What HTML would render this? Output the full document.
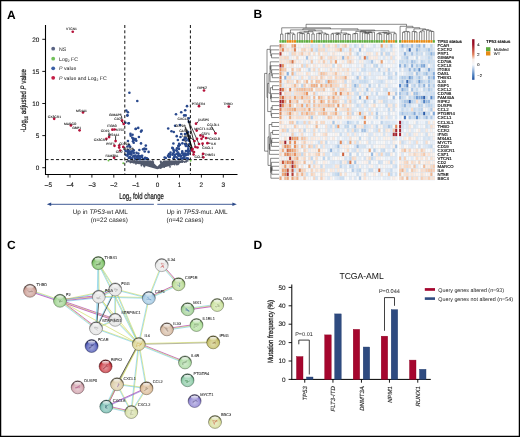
<!DOCTYPE html>
<html><head><meta charset="utf-8"><style>
html,body{margin:0;padding:0;background:#fff;}
svg{display:block;font-family:"Liberation Sans", sans-serif;will-change:transform;} text{text-rendering:geometricPrecision;}
</style></head><body>
<svg width="520" height="437" viewBox="0 0 520 437">
<rect x="0" y="0" width="520" height="437" fill="#fff"/>
<g id="A">
<text x="7.00" y="18.80" font-size="12" text-anchor="start" font-weight="bold" font-style="normal" fill="#000" >A</text>
<text x="253.60" y="17.50" font-size="12" text-anchor="start" font-weight="bold" font-style="normal" fill="#000" >B</text>
<text x="7.00" y="248.80" font-size="12" text-anchor="start" font-weight="bold" font-style="normal" fill="#000" >C</text>
<text x="253.60" y="248.80" font-size="12" text-anchor="start" font-weight="bold" font-style="normal" fill="#000" >D</text>
<polygon points="134.5,160.6 151.0,160.6 157.3,166.4 163.6,160.6 183.5,160.6 184.5,162.0 172.0,165.3 157.3,169.2 145.0,165.7 134.5,162.7" fill="#525a6d"/>
<circle cx="182.05" cy="160.56" r="0.95" fill="#525a6d" />
<circle cx="146.52" cy="163.39" r="0.95" fill="#525a6d" />
<circle cx="153.24" cy="162.28" r="0.95" fill="#525a6d" />
<circle cx="160.72" cy="168.10" r="0.95" fill="#525a6d" />
<circle cx="141.45" cy="165.47" r="0.95" fill="#525a6d" />
<circle cx="141.94" cy="162.49" r="0.95" fill="#525a6d" />
<circle cx="141.60" cy="164.10" r="0.95" fill="#525a6d" />
<circle cx="141.34" cy="162.43" r="0.95" fill="#525a6d" />
<circle cx="141.76" cy="163.14" r="0.95" fill="#525a6d" />
<circle cx="177.95" cy="164.29" r="0.95" fill="#525a6d" />
<circle cx="166.49" cy="165.38" r="0.95" fill="#525a6d" />
<circle cx="153.34" cy="164.21" r="0.95" fill="#525a6d" />
<circle cx="176.81" cy="164.57" r="0.95" fill="#525a6d" />
<circle cx="143.01" cy="162.20" r="0.95" fill="#525a6d" />
<circle cx="169.42" cy="160.92" r="0.95" fill="#525a6d" />
<circle cx="167.46" cy="163.57" r="0.95" fill="#525a6d" />
<circle cx="160.95" cy="162.43" r="0.95" fill="#525a6d" />
<circle cx="153.84" cy="165.76" r="0.95" fill="#525a6d" />
<circle cx="166.13" cy="164.89" r="0.95" fill="#525a6d" />
<circle cx="132.72" cy="162.37" r="0.95" fill="#525a6d" />
<circle cx="160.71" cy="161.48" r="0.95" fill="#525a6d" />
<circle cx="145.75" cy="163.76" r="0.95" fill="#525a6d" />
<circle cx="144.52" cy="165.74" r="0.95" fill="#525a6d" />
<circle cx="180.04" cy="161.87" r="0.95" fill="#525a6d" />
<circle cx="175.69" cy="161.46" r="0.95" fill="#525a6d" />
<circle cx="151.07" cy="162.06" r="0.95" fill="#525a6d" />
<circle cx="179.25" cy="161.41" r="0.95" fill="#525a6d" />
<circle cx="145.25" cy="163.79" r="0.95" fill="#525a6d" />
<circle cx="138.73" cy="163.32" r="0.95" fill="#525a6d" />
<circle cx="144.34" cy="166.49" r="0.95" fill="#525a6d" />
<circle cx="168.85" cy="163.35" r="0.95" fill="#525a6d" />
<circle cx="160.79" cy="161.97" r="0.95" fill="#525a6d" />
<circle cx="152.66" cy="161.21" r="0.95" fill="#525a6d" />
<circle cx="142.42" cy="164.12" r="0.95" fill="#525a6d" />
<circle cx="134.32" cy="160.98" r="0.95" fill="#525a6d" />
<circle cx="182.23" cy="162.03" r="0.95" fill="#525a6d" />
<circle cx="134.93" cy="162.48" r="0.95" fill="#525a6d" />
<circle cx="166.78" cy="165.11" r="0.95" fill="#525a6d" />
<circle cx="170.79" cy="163.53" r="0.95" fill="#525a6d" />
<circle cx="132.48" cy="160.89" r="0.95" fill="#525a6d" />
<circle cx="137.10" cy="163.05" r="0.95" fill="#525a6d" />
<circle cx="138.59" cy="162.01" r="0.95" fill="#525a6d" />
<circle cx="146.76" cy="163.73" r="0.95" fill="#525a6d" />
<circle cx="174.57" cy="164.45" r="0.95" fill="#525a6d" />
<circle cx="135.95" cy="163.72" r="0.95" fill="#525a6d" />
<circle cx="150.50" cy="165.73" r="0.95" fill="#525a6d" />
<circle cx="136.34" cy="161.20" r="0.95" fill="#525a6d" />
<circle cx="170.03" cy="166.85" r="0.95" fill="#525a6d" />
<circle cx="161.23" cy="163.91" r="0.95" fill="#525a6d" />
<circle cx="164.20" cy="167.09" r="0.95" fill="#525a6d" />
<circle cx="143.79" cy="165.21" r="0.95" fill="#525a6d" />
<circle cx="135.27" cy="161.76" r="0.95" fill="#525a6d" />
<circle cx="143.83" cy="164.70" r="0.95" fill="#525a6d" />
<circle cx="161.38" cy="166.49" r="0.95" fill="#525a6d" />
<circle cx="168.93" cy="165.31" r="0.95" fill="#525a6d" />
<circle cx="131.47" cy="161.91" r="0.95" fill="#525a6d" />
<circle cx="178.66" cy="163.44" r="0.95" fill="#525a6d" />
<circle cx="175.07" cy="162.98" r="0.95" fill="#525a6d" />
<circle cx="154.79" cy="166.65" r="0.95" fill="#525a6d" />
<circle cx="142.66" cy="163.05" r="0.95" fill="#525a6d" />
<circle cx="133.91" cy="162.75" r="0.90" fill="#525a6d" />
<circle cx="128.29" cy="161.25" r="0.90" fill="#525a6d" />
<circle cx="128.99" cy="161.23" r="0.90" fill="#525a6d" />
<circle cx="131.48" cy="161.27" r="0.90" fill="#525a6d" />
<circle cx="130.06" cy="160.94" r="0.90" fill="#525a6d" />
<circle cx="134.24" cy="161.52" r="0.90" fill="#525a6d" />
<circle cx="130.39" cy="162.12" r="0.90" fill="#525a6d" />
<circle cx="134.19" cy="161.69" r="0.90" fill="#525a6d" />
<circle cx="134.30" cy="161.90" r="0.90" fill="#525a6d" />
<circle cx="131.02" cy="161.96" r="0.90" fill="#525a6d" />
<circle cx="126.66" cy="161.74" r="0.90" fill="#525a6d" />
<circle cx="128.06" cy="160.61" r="0.90" fill="#525a6d" />
<circle cx="133.29" cy="161.05" r="0.90" fill="#525a6d" />
<circle cx="130.52" cy="162.49" r="0.90" fill="#525a6d" />
<circle cx="186.34" cy="161.19" r="0.90" fill="#525a6d" />
<circle cx="186.11" cy="161.60" r="0.90" fill="#525a6d" />
<circle cx="187.71" cy="160.79" r="0.90" fill="#525a6d" />
<circle cx="186.36" cy="161.05" r="0.90" fill="#525a6d" />
<circle cx="184.66" cy="161.99" r="0.90" fill="#525a6d" />
<circle cx="186.05" cy="161.61" r="0.90" fill="#525a6d" />
<circle cx="129.11" cy="145.14" r="1.30" fill="#29498d" />
<circle cx="131.38" cy="154.59" r="1.30" fill="#29498d" />
<circle cx="130.11" cy="154.11" r="1.30" fill="#29498d" />
<circle cx="133.70" cy="142.76" r="1.30" fill="#29498d" />
<circle cx="127.47" cy="146.45" r="1.30" fill="#29498d" />
<circle cx="132.26" cy="137.73" r="1.30" fill="#29498d" />
<circle cx="141.87" cy="157.17" r="1.30" fill="#29498d" />
<circle cx="144.44" cy="158.94" r="1.30" fill="#29498d" />
<circle cx="130.47" cy="133.90" r="1.30" fill="#29498d" />
<circle cx="141.30" cy="156.00" r="1.30" fill="#29498d" />
<circle cx="141.67" cy="130.52" r="1.30" fill="#29498d" />
<circle cx="139.37" cy="149.99" r="1.30" fill="#29498d" />
<circle cx="133.53" cy="138.59" r="1.30" fill="#29498d" />
<circle cx="141.07" cy="156.65" r="1.30" fill="#29498d" />
<circle cx="136.48" cy="157.01" r="1.30" fill="#29498d" />
<circle cx="129.67" cy="153.81" r="1.30" fill="#29498d" />
<circle cx="134.41" cy="156.64" r="1.30" fill="#29498d" />
<circle cx="131.19" cy="158.62" r="1.30" fill="#29498d" />
<circle cx="125.40" cy="122.73" r="1.30" fill="#29498d" />
<circle cx="143.06" cy="159.04" r="1.30" fill="#29498d" />
<circle cx="128.83" cy="157.89" r="1.30" fill="#29498d" />
<circle cx="134.76" cy="139.65" r="1.30" fill="#29498d" />
<circle cx="138.35" cy="153.61" r="1.30" fill="#29498d" />
<circle cx="132.07" cy="158.42" r="1.30" fill="#29498d" />
<circle cx="145.19" cy="157.84" r="1.30" fill="#29498d" />
<circle cx="144.45" cy="148.64" r="1.30" fill="#29498d" />
<circle cx="128.51" cy="150.46" r="1.30" fill="#29498d" />
<circle cx="144.73" cy="151.57" r="1.30" fill="#29498d" />
<circle cx="136.48" cy="152.84" r="1.30" fill="#29498d" />
<circle cx="138.13" cy="155.95" r="1.30" fill="#29498d" />
<circle cx="138.87" cy="158.25" r="1.30" fill="#29498d" />
<circle cx="145.59" cy="158.25" r="1.30" fill="#29498d" />
<circle cx="137.24" cy="157.30" r="1.30" fill="#29498d" />
<circle cx="133.30" cy="156.35" r="1.30" fill="#29498d" />
<circle cx="147.87" cy="159.17" r="1.30" fill="#29498d" />
<circle cx="129.50" cy="157.34" r="1.30" fill="#29498d" />
<circle cx="133.76" cy="150.41" r="1.30" fill="#29498d" />
<circle cx="128.26" cy="154.09" r="1.30" fill="#29498d" />
<circle cx="128.04" cy="153.93" r="1.30" fill="#29498d" />
<circle cx="130.19" cy="146.76" r="1.30" fill="#29498d" />
<circle cx="128.08" cy="152.59" r="1.30" fill="#29498d" />
<circle cx="135.11" cy="158.80" r="1.30" fill="#29498d" />
<circle cx="142.13" cy="155.87" r="1.30" fill="#29498d" />
<circle cx="138.43" cy="158.69" r="1.30" fill="#29498d" />
<circle cx="127.95" cy="140.98" r="1.30" fill="#29498d" />
<circle cx="137.78" cy="157.35" r="1.30" fill="#29498d" />
<circle cx="134.05" cy="155.68" r="1.30" fill="#29498d" />
<circle cx="138.24" cy="127.89" r="1.30" fill="#29498d" />
<circle cx="132.47" cy="150.95" r="1.30" fill="#29498d" />
<circle cx="137.14" cy="159.19" r="1.30" fill="#29498d" />
<circle cx="135.57" cy="155.56" r="1.30" fill="#29498d" />
<circle cx="139.89" cy="159.17" r="1.30" fill="#29498d" />
<circle cx="138.22" cy="156.75" r="1.30" fill="#29498d" />
<circle cx="146.10" cy="158.34" r="1.30" fill="#29498d" />
<circle cx="139.02" cy="156.13" r="1.30" fill="#29498d" />
<circle cx="129.25" cy="152.11" r="1.30" fill="#29498d" />
<circle cx="127.43" cy="155.72" r="1.30" fill="#29498d" />
<circle cx="125.41" cy="150.86" r="1.30" fill="#29498d" />
<circle cx="130.88" cy="151.50" r="1.30" fill="#29498d" />
<circle cx="127.26" cy="151.32" r="1.30" fill="#29498d" />
<circle cx="128.36" cy="153.82" r="1.30" fill="#29498d" />
<circle cx="133.22" cy="139.54" r="1.30" fill="#29498d" />
<circle cx="128.16" cy="149.95" r="1.30" fill="#29498d" />
<circle cx="130.26" cy="157.02" r="1.30" fill="#29498d" />
<circle cx="146.81" cy="158.29" r="1.30" fill="#29498d" />
<circle cx="143.05" cy="149.37" r="1.30" fill="#29498d" />
<circle cx="131.13" cy="153.00" r="1.30" fill="#29498d" />
<circle cx="133.49" cy="152.72" r="1.30" fill="#29498d" />
<circle cx="129.28" cy="153.91" r="1.30" fill="#29498d" />
<circle cx="130.63" cy="152.33" r="1.30" fill="#29498d" />
<circle cx="138.52" cy="157.60" r="1.30" fill="#29498d" />
<circle cx="129.56" cy="151.97" r="1.30" fill="#29498d" />
<circle cx="125.70" cy="154.84" r="1.30" fill="#29498d" />
<circle cx="133.68" cy="153.03" r="1.30" fill="#29498d" />
<circle cx="183.92" cy="157.79" r="1.30" fill="#29498d" />
<circle cx="173.89" cy="152.03" r="1.30" fill="#29498d" />
<circle cx="178.08" cy="159.04" r="1.30" fill="#29498d" />
<circle cx="170.45" cy="154.68" r="1.30" fill="#29498d" />
<circle cx="185.08" cy="153.63" r="1.30" fill="#29498d" />
<circle cx="182.25" cy="151.38" r="1.30" fill="#29498d" />
<circle cx="172.90" cy="148.39" r="1.30" fill="#29498d" />
<circle cx="189.23" cy="136.35" r="1.30" fill="#29498d" />
<circle cx="181.22" cy="112.31" r="1.30" fill="#29498d" />
<circle cx="181.05" cy="155.90" r="1.30" fill="#29498d" />
<circle cx="188.62" cy="146.31" r="1.30" fill="#29498d" />
<circle cx="173.70" cy="150.15" r="1.30" fill="#29498d" />
<circle cx="173.40" cy="143.57" r="1.30" fill="#29498d" />
<circle cx="187.82" cy="154.23" r="1.30" fill="#29498d" />
<circle cx="187.97" cy="158.66" r="1.30" fill="#29498d" />
<circle cx="165.80" cy="157.95" r="1.30" fill="#29498d" />
<circle cx="178.03" cy="154.67" r="1.30" fill="#29498d" />
<circle cx="178.34" cy="145.75" r="1.30" fill="#29498d" />
<circle cx="185.94" cy="138.15" r="1.30" fill="#29498d" />
<circle cx="188.34" cy="139.42" r="1.30" fill="#29498d" />
<circle cx="177.75" cy="154.12" r="1.30" fill="#29498d" />
<circle cx="190.05" cy="150.76" r="1.30" fill="#29498d" />
<circle cx="180.64" cy="158.46" r="1.30" fill="#29498d" />
<circle cx="172.27" cy="147.90" r="1.30" fill="#29498d" />
<circle cx="188.47" cy="153.34" r="1.30" fill="#29498d" />
<circle cx="182.16" cy="152.97" r="1.30" fill="#29498d" />
<circle cx="188.79" cy="121.84" r="1.30" fill="#29498d" />
<circle cx="184.14" cy="115.41" r="1.30" fill="#29498d" />
<circle cx="182.81" cy="158.35" r="1.30" fill="#29498d" />
<circle cx="185.68" cy="144.39" r="1.30" fill="#29498d" />
<circle cx="184.35" cy="158.29" r="1.30" fill="#29498d" />
<circle cx="188.35" cy="148.84" r="1.30" fill="#29498d" />
<circle cx="178.94" cy="148.89" r="1.30" fill="#29498d" />
<circle cx="189.19" cy="144.34" r="1.30" fill="#29498d" />
<circle cx="178.00" cy="154.02" r="1.30" fill="#29498d" />
<circle cx="174.52" cy="157.08" r="1.30" fill="#29498d" />
<circle cx="188.08" cy="154.42" r="1.30" fill="#29498d" />
<circle cx="188.08" cy="132.11" r="1.30" fill="#29498d" />
<circle cx="173.63" cy="158.34" r="1.30" fill="#29498d" />
<circle cx="178.91" cy="155.87" r="1.30" fill="#29498d" />
<circle cx="177.00" cy="148.29" r="1.30" fill="#29498d" />
<circle cx="185.93" cy="150.97" r="1.30" fill="#29498d" />
<circle cx="182.39" cy="153.49" r="1.30" fill="#29498d" />
<circle cx="170.52" cy="152.63" r="1.30" fill="#29498d" />
<circle cx="173.16" cy="153.51" r="1.30" fill="#29498d" />
<circle cx="187.50" cy="153.45" r="1.30" fill="#29498d" />
<circle cx="176.75" cy="153.81" r="1.30" fill="#29498d" />
<circle cx="188.75" cy="118.35" r="1.30" fill="#29498d" />
<circle cx="167.99" cy="155.91" r="1.30" fill="#29498d" />
<circle cx="187.94" cy="146.52" r="1.30" fill="#29498d" />
<circle cx="164.63" cy="157.55" r="1.30" fill="#29498d" />
<circle cx="187.00" cy="106.15" r="1.30" fill="#29498d" />
<circle cx="176.75" cy="157.33" r="1.30" fill="#29498d" />
<circle cx="182.35" cy="143.34" r="1.30" fill="#29498d" />
<circle cx="185.52" cy="144.26" r="1.30" fill="#29498d" />
<circle cx="181.19" cy="158.57" r="1.30" fill="#29498d" />
<circle cx="186.39" cy="140.54" r="1.30" fill="#29498d" />
<circle cx="184.37" cy="156.83" r="1.30" fill="#29498d" />
<circle cx="176.83" cy="150.71" r="1.30" fill="#29498d" />
<circle cx="172.66" cy="154.68" r="1.30" fill="#29498d" />
<circle cx="183.37" cy="155.24" r="1.30" fill="#29498d" />
<circle cx="183.67" cy="153.78" r="1.30" fill="#29498d" />
<circle cx="181.25" cy="133.98" r="1.30" fill="#29498d" />
<circle cx="187.78" cy="154.16" r="1.30" fill="#29498d" />
<circle cx="176.72" cy="136.17" r="1.30" fill="#29498d" />
<circle cx="178.15" cy="152.59" r="1.30" fill="#29498d" />
<circle cx="184.81" cy="154.33" r="1.30" fill="#29498d" />
<circle cx="184.71" cy="138.04" r="1.30" fill="#29498d" />
<circle cx="168.91" cy="156.92" r="1.30" fill="#29498d" />
<circle cx="184.94" cy="144.02" r="1.30" fill="#29498d" />
<circle cx="185.78" cy="155.15" r="1.30" fill="#29498d" />
<circle cx="189.05" cy="140.72" r="1.30" fill="#29498d" />
<circle cx="176.30" cy="150.30" r="1.30" fill="#29498d" />
<circle cx="177.87" cy="140.01" r="1.30" fill="#29498d" />
<circle cx="175.11" cy="154.74" r="1.30" fill="#29498d" />
<circle cx="184.68" cy="138.96" r="1.30" fill="#29498d" />
<circle cx="179.97" cy="144.76" r="1.30" fill="#29498d" />
<circle cx="173.71" cy="158.63" r="1.30" fill="#29498d" />
<circle cx="179.97" cy="125.03" r="1.30" fill="#29498d" />
<circle cx="185.68" cy="115.38" r="1.30" fill="#29498d" />
<circle cx="178.63" cy="146.39" r="1.30" fill="#29498d" />
<circle cx="185.88" cy="146.02" r="1.30" fill="#29498d" />
<circle cx="179.67" cy="154.37" r="1.30" fill="#29498d" />
<circle cx="174.58" cy="156.34" r="1.30" fill="#29498d" />
<circle cx="179.11" cy="143.92" r="1.30" fill="#29498d" />
<circle cx="188.94" cy="151.20" r="1.30" fill="#29498d" />
<circle cx="186.94" cy="133.36" r="1.30" fill="#29498d" />
<circle cx="169.84" cy="156.88" r="1.30" fill="#29498d" />
<circle cx="188.25" cy="151.24" r="1.30" fill="#29498d" />
<circle cx="187.96" cy="150.32" r="1.30" fill="#29498d" />
<circle cx="186.81" cy="158.36" r="1.30" fill="#29498d" />
<circle cx="168.96" cy="154.17" r="1.30" fill="#29498d" />
<circle cx="129.40" cy="92.70" r="1.30" fill="#29498d" />
<circle cx="137.30" cy="101.00" r="1.30" fill="#29498d" />
<circle cx="126.30" cy="110.60" r="1.30" fill="#29498d" />
<circle cx="127.90" cy="112.30" r="1.30" fill="#29498d" />
<circle cx="127.40" cy="115.20" r="1.30" fill="#29498d" />
<circle cx="128.80" cy="123.30" r="1.30" fill="#29498d" />
<circle cx="135.80" cy="128.70" r="1.30" fill="#29498d" />
<circle cx="127.40" cy="115.60" r="1.30" fill="#29498d" />
<circle cx="128.60" cy="123.20" r="1.30" fill="#29498d" />
<circle cx="135.70" cy="129.00" r="1.30" fill="#29498d" />
<circle cx="141.00" cy="131.60" r="1.30" fill="#29498d" />
<circle cx="130.70" cy="135.80" r="1.30" fill="#29498d" />
<circle cx="132.60" cy="134.70" r="1.30" fill="#29498d" />
<circle cx="138.90" cy="137.00" r="1.30" fill="#29498d" />
<circle cx="135.70" cy="139.00" r="1.30" fill="#29498d" />
<circle cx="133.00" cy="141.30" r="1.30" fill="#29498d" />
<circle cx="136.30" cy="140.80" r="1.30" fill="#29498d" />
<circle cx="141.00" cy="143.40" r="1.30" fill="#29498d" />
<circle cx="145.80" cy="145.60" r="1.30" fill="#29498d" />
<circle cx="146.10" cy="149.10" r="1.30" fill="#29498d" />
<circle cx="148.60" cy="151.90" r="1.30" fill="#29498d" />
<circle cx="185.20" cy="110.30" r="1.30" fill="#29498d" />
<circle cx="176.00" cy="114.30" r="1.30" fill="#29498d" />
<circle cx="175.10" cy="125.80" r="1.30" fill="#29498d" />
<circle cx="168.20" cy="128.50" r="1.30" fill="#29498d" />
<circle cx="171.50" cy="131.20" r="1.30" fill="#29498d" />
<circle cx="173.80" cy="132.00" r="1.30" fill="#29498d" />
<circle cx="185.00" cy="134.00" r="1.30" fill="#29498d" />
<circle cx="180.50" cy="137.00" r="1.30" fill="#29498d" />
<circle cx="183.00" cy="140.00" r="1.30" fill="#29498d" />
<line x1="124.80" y1="25.00" x2="124.80" y2="174.50" stroke="#111" stroke-width="1.0" stroke-dasharray="3,2.3"/>
<line x1="190.40" y1="25.00" x2="190.40" y2="174.50" stroke="#111" stroke-width="1.0" stroke-dasharray="3,2.3"/>
<line x1="45.50" y1="159.60" x2="235.80" y2="159.60" stroke="#111" stroke-width="1.0" stroke-dasharray="3,2.3"/>
<circle cx="108.50" cy="160.40" r="1.00" fill="#6bbd4a" />
<circle cx="123.30" cy="163.30" r="1.00" fill="#6bbd4a" />
<circle cx="190.60" cy="160.80" r="1.00" fill="#6bbd4a" />
<line x1="121.53" y1="116.10" x2="122.10" y2="120.70" stroke="#000" stroke-width="0.8" />
<line x1="120.72" y1="120.50" x2="123.70" y2="123.90" stroke="#000" stroke-width="0.8" />
<line x1="116.25" y1="129.50" x2="114.60" y2="129.50" stroke="#000" stroke-width="0.8" />
<line x1="109.10" y1="132.50" x2="109.10" y2="137.10" stroke="#000" stroke-width="0.8" />
<line x1="115.60" y1="136.10" x2="115.60" y2="141.10" stroke="#000" stroke-width="0.8" />
<line x1="119.20" y1="144.90" x2="119.20" y2="145.60" stroke="#000" stroke-width="0.8" />
<line x1="123.31" y1="147.29" x2="123.30" y2="146.90" stroke="#000" stroke-width="0.8" />
<line x1="198.41" y1="121.60" x2="196.00" y2="123.70" stroke="#000" stroke-width="0.8" />
<line x1="196.70" y1="129.80" x2="196.70" y2="130.60" stroke="#000" stroke-width="0.8" />
<line x1="211.50" y1="126.40" x2="215.50" y2="133.30" stroke="#000" stroke-width="0.8" />
<line x1="203.00" y1="135.30" x2="203.00" y2="136.70" stroke="#000" stroke-width="0.8" />
<line x1="209.41" y1="138.10" x2="206.00" y2="138.10" stroke="#000" stroke-width="0.8" />
<line x1="210.48" y1="143.20" x2="207.40" y2="143.20" stroke="#000" stroke-width="0.8" />
<line x1="202.60" y1="146.19" x2="202.60" y2="143.60" stroke="#000" stroke-width="0.8" />
<line x1="188.19" y1="120.20" x2="195.40" y2="147.00" stroke="#000" stroke-width="0.8" />
<line x1="185.49" y1="127.00" x2="192.60" y2="149.00" stroke="#000" stroke-width="0.8" />
<line x1="187.85" y1="132.00" x2="192.00" y2="150.50" stroke="#000" stroke-width="0.8" />
<line x1="190.65" y1="137.50" x2="194.50" y2="141.00" stroke="#000" stroke-width="0.8" />
<line x1="204.61" y1="153.90" x2="203.00" y2="153.90" stroke="#000" stroke-width="0.8" />
<line x1="202.95" y1="157.30" x2="203.30" y2="157.30" stroke="#000" stroke-width="0.8" />
<line x1="188.00" y1="119.50" x2="199.00" y2="144.00" stroke="#000" stroke-width="0.7" />
<line x1="185.00" y1="127.50" x2="193.60" y2="154.50" stroke="#000" stroke-width="0.7" />
<line x1="183.50" y1="139.50" x2="194.00" y2="152.00" stroke="#000" stroke-width="0.7" />
<circle cx="72.75" cy="31.75" r="1.35" fill="#b5123a" />
<circle cx="54.20" cy="118.80" r="1.35" fill="#b5123a" />
<circle cx="83.00" cy="112.50" r="1.35" fill="#b5123a" />
<circle cx="70.90" cy="125.40" r="1.35" fill="#b5123a" />
<circle cx="79.60" cy="130.30" r="1.35" fill="#b5123a" />
<circle cx="122.10" cy="120.70" r="1.35" fill="#b5123a" />
<circle cx="123.70" cy="123.90" r="1.35" fill="#b5123a" />
<circle cx="112.40" cy="129.70" r="1.35" fill="#b5123a" />
<circle cx="114.60" cy="129.50" r="1.35" fill="#b5123a" />
<circle cx="109.10" cy="137.10" r="1.35" fill="#b5123a" />
<circle cx="106.40" cy="138.80" r="1.35" fill="#b5123a" />
<circle cx="115.60" cy="141.10" r="1.35" fill="#b5123a" />
<circle cx="114.50" cy="145.80" r="1.35" fill="#b5123a" />
<circle cx="119.20" cy="145.60" r="1.35" fill="#b5123a" />
<circle cx="119.20" cy="147.60" r="1.35" fill="#b5123a" />
<circle cx="123.30" cy="146.90" r="1.35" fill="#b5123a" />
<circle cx="120.20" cy="150.50" r="1.35" fill="#b5123a" />
<circle cx="114.10" cy="157.70" r="1.35" fill="#b5123a" />
<circle cx="204.00" cy="90.50" r="1.35" fill="#b5123a" />
<circle cx="199.00" cy="106.20" r="1.35" fill="#b5123a" />
<circle cx="228.80" cy="106.60" r="1.35" fill="#b5123a" />
<circle cx="196.00" cy="123.70" r="1.35" fill="#b5123a" />
<circle cx="196.70" cy="130.60" r="1.35" fill="#b5123a" />
<circle cx="215.50" cy="133.30" r="1.35" fill="#b5123a" />
<circle cx="200.50" cy="135.40" r="1.35" fill="#b5123a" />
<circle cx="203.00" cy="136.70" r="1.35" fill="#b5123a" />
<circle cx="197.00" cy="138.80" r="1.35" fill="#b5123a" />
<circle cx="201.50" cy="138.80" r="1.35" fill="#b5123a" />
<circle cx="206.00" cy="138.10" r="1.35" fill="#b5123a" />
<circle cx="207.40" cy="143.20" r="1.35" fill="#b5123a" />
<circle cx="199.00" cy="144.00" r="1.35" fill="#b5123a" />
<circle cx="202.60" cy="143.60" r="1.35" fill="#b5123a" />
<circle cx="195.40" cy="147.00" r="1.35" fill="#b5123a" />
<circle cx="192.60" cy="149.00" r="1.35" fill="#b5123a" />
<circle cx="192.00" cy="150.50" r="1.35" fill="#b5123a" />
<circle cx="194.00" cy="152.00" r="1.35" fill="#b5123a" />
<circle cx="194.50" cy="141.00" r="1.35" fill="#b5123a" />
<circle cx="197.50" cy="147.50" r="1.35" fill="#b5123a" />
<circle cx="193.60" cy="154.50" r="1.35" fill="#b5123a" />
<circle cx="203.00" cy="153.90" r="1.35" fill="#b5123a" />
<circle cx="203.30" cy="157.30" r="1.35" fill="#b5123a" />
<text x="71.50" y="30.00" font-size="3.35" text-anchor="middle" font-weight="normal" font-style="normal" fill="#222"  stroke="#222" stroke-width="0.1">VTCN1</text>
<text x="54.40" y="118.40" font-size="3.35" text-anchor="middle" font-weight="normal" font-style="normal" fill="#222"  stroke="#222" stroke-width="0.1">CX3CR1</text>
<text x="81.50" y="111.70" font-size="3.35" text-anchor="middle" font-weight="normal" font-style="normal" fill="#222"  stroke="#222" stroke-width="0.1">MS4A1</text>
<text x="70.20" y="124.60" font-size="3.35" text-anchor="middle" font-weight="normal" font-style="normal" fill="#222"  stroke="#222" stroke-width="0.1">MARCO</text>
<text x="76.70" y="129.40" font-size="3.35" text-anchor="middle" font-weight="normal" font-style="normal" fill="#222"  stroke="#222" stroke-width="0.1">GBP1</text>
<text x="115.30" y="115.80" font-size="3.35" text-anchor="middle" font-weight="normal" font-style="normal" fill="#222"  stroke="#222" stroke-width="0.1">GIMAP6</text>
<text x="117.60" y="120.20" font-size="3.35" text-anchor="middle" font-weight="normal" font-style="normal" fill="#222"  stroke="#222" stroke-width="0.1">CD2</text>
<text x="111.80" y="127.40" font-size="3.35" text-anchor="middle" font-weight="normal" font-style="normal" fill="#222"  stroke="#222" stroke-width="0.1">ITGB3</text>
<text x="120.40" y="130.60" font-size="3.35" text-anchor="middle" font-weight="normal" font-style="normal" fill="#222"  stroke="#222" stroke-width="0.1">NT5E</text>
<text x="105.00" y="132.20" font-size="3.35" text-anchor="middle" font-weight="normal" font-style="normal" fill="#222"  stroke="#222" stroke-width="0.1">CD19</text>
<text x="100.40" y="140.80" font-size="3.35" text-anchor="middle" font-weight="normal" font-style="normal" fill="#222"  stroke="#222" stroke-width="0.1">CX3CR1</text>
<text x="113.80" y="135.80" font-size="3.35" text-anchor="middle" font-weight="normal" font-style="normal" fill="#222"  stroke="#222" stroke-width="0.1">MS4A1</text>
<text x="110.50" y="145.40" font-size="3.35" text-anchor="middle" font-weight="normal" font-style="normal" fill="#222"  stroke="#222" stroke-width="0.1">PRF1</text>
<text x="124.30" y="144.60" font-size="3.35" text-anchor="middle" font-weight="normal" font-style="normal" fill="#222"  stroke="#222" stroke-width="0.1">CD79A</text>
<text x="128.50" y="149.80" font-size="3.35" text-anchor="middle" font-weight="normal" font-style="normal" fill="#222"  stroke="#222" stroke-width="0.1">CD79B</text>
<text x="119.20" y="152.80" font-size="3.35" text-anchor="middle" font-weight="normal" font-style="normal" fill="#222"  stroke="#222" stroke-width="0.1">CD2</text>
<text x="111.80" y="157.00" font-size="3.35" text-anchor="middle" font-weight="normal" font-style="normal" fill="#222"  stroke="#222" stroke-width="0.1">FAM30A</text>
<text x="202.00" y="89.10" font-size="3.35" text-anchor="middle" font-weight="normal" font-style="normal" fill="#222"  stroke="#222" stroke-width="0.1">RIPK2</text>
<text x="198.50" y="105.00" font-size="3.35" text-anchor="middle" font-weight="normal" font-style="normal" fill="#222"  stroke="#222" stroke-width="0.1">PTGER4</text>
<text x="228.00" y="105.20" font-size="3.35" text-anchor="middle" font-weight="normal" font-style="normal" fill="#222"  stroke="#222" stroke-width="0.1">THBD</text>
<text x="203.60" y="121.30" font-size="3.35" text-anchor="middle" font-weight="normal" font-style="normal" fill="#222"  stroke="#222" stroke-width="0.1">DUSP5</text>
<text x="203.60" y="129.50" font-size="3.35" text-anchor="middle" font-weight="normal" font-style="normal" fill="#222"  stroke="#222" stroke-width="0.1">MYCT1 IL33</text>
<text x="213.20" y="126.10" font-size="3.35" text-anchor="middle" font-weight="normal" font-style="normal" fill="#222"  stroke="#222" stroke-width="0.1">CCL3L1</text>
<text x="205.70" y="135.00" font-size="3.35" text-anchor="middle" font-weight="normal" font-style="normal" fill="#222"  stroke="#222" stroke-width="0.1">CSF1</text>
<text x="214.60" y="140.20" font-size="3.35" text-anchor="middle" font-weight="normal" font-style="normal" fill="#222"  stroke="#222" stroke-width="0.1">CXCL8</text>
<text x="213.60" y="144.90" font-size="3.35" text-anchor="middle" font-weight="normal" font-style="normal" fill="#222"  stroke="#222" stroke-width="0.1">IL6</text>
<text x="207.70" y="148.70" font-size="3.35" text-anchor="middle" font-weight="normal" font-style="normal" fill="#222"  stroke="#222" stroke-width="0.1">CXCL1</text>
<text x="183.00" y="119.90" font-size="3.35" text-anchor="middle" font-weight="normal" font-style="normal" fill="#222"  stroke="#222" stroke-width="0.1">CXCL2</text>
<text x="180.30" y="126.70" font-size="3.35" text-anchor="middle" font-weight="normal" font-style="normal" fill="#222"  stroke="#222" stroke-width="0.1">CD79B</text>
<text x="183.70" y="131.70" font-size="3.35" text-anchor="middle" font-weight="normal" font-style="normal" fill="#222"  stroke="#222" stroke-width="0.1">CASP</text>
<text x="186.50" y="137.20" font-size="3.35" text-anchor="middle" font-weight="normal" font-style="normal" fill="#222"  stroke="#222" stroke-width="0.1">LAG3</text>
<text x="209.80" y="155.90" font-size="3.35" text-anchor="middle" font-weight="normal" font-style="normal" fill="#222"  stroke="#222" stroke-width="0.1">THBS1</text>
<text x="198.80" y="157.70" font-size="3.35" text-anchor="middle" font-weight="normal" font-style="normal" fill="#222"  stroke="#222" stroke-width="0.1">CCL2</text>
<line x1="45.50" y1="25.00" x2="45.50" y2="175.00" stroke="#000" stroke-width="1.1" />
<line x1="45.00" y1="174.50" x2="237.50" y2="174.50" stroke="#000" stroke-width="1.1" />
<line x1="42.30" y1="167.70" x2="45.50" y2="167.70" stroke="#000" stroke-width="0.9" />
<text x="39.30" y="170.00" font-size="6.4" text-anchor="end" font-weight="normal" font-style="normal" fill="#111" stroke="#111" stroke-width="0.1">0</text>
<line x1="42.30" y1="135.60" x2="45.50" y2="135.60" stroke="#000" stroke-width="0.9" />
<text x="39.30" y="137.90" font-size="6.4" text-anchor="end" font-weight="normal" font-style="normal" fill="#111" stroke="#111" stroke-width="0.1">5</text>
<line x1="42.30" y1="103.50" x2="45.50" y2="103.50" stroke="#000" stroke-width="0.9" />
<text x="39.30" y="105.80" font-size="6.4" text-anchor="end" font-weight="normal" font-style="normal" fill="#111" stroke="#111" stroke-width="0.1">10</text>
<line x1="42.30" y1="71.40" x2="45.50" y2="71.40" stroke="#000" stroke-width="0.9" />
<text x="39.30" y="73.70" font-size="6.4" text-anchor="end" font-weight="normal" font-style="normal" fill="#111" stroke="#111" stroke-width="0.1">15</text>
<line x1="42.30" y1="39.30" x2="45.50" y2="39.30" stroke="#000" stroke-width="0.9" />
<text x="39.30" y="41.60" font-size="6.4" text-anchor="end" font-weight="normal" font-style="normal" fill="#111" stroke="#111" stroke-width="0.1">20</text>
<line x1="48.10" y1="174.50" x2="48.10" y2="177.60" stroke="#000" stroke-width="0.9" />
<text x="48.40" y="187.00" font-size="6.4" text-anchor="middle" font-weight="normal" font-style="normal" fill="#111" stroke="#111" stroke-width="0.1">–5</text>
<line x1="70.00" y1="174.50" x2="70.00" y2="177.60" stroke="#000" stroke-width="0.9" />
<text x="70.30" y="187.00" font-size="6.4" text-anchor="middle" font-weight="normal" font-style="normal" fill="#111" stroke="#111" stroke-width="0.1">–4</text>
<line x1="91.90" y1="174.50" x2="91.90" y2="177.60" stroke="#000" stroke-width="0.9" />
<text x="92.20" y="187.00" font-size="6.4" text-anchor="middle" font-weight="normal" font-style="normal" fill="#111" stroke="#111" stroke-width="0.1">–3</text>
<line x1="113.80" y1="174.50" x2="113.80" y2="177.60" stroke="#000" stroke-width="0.9" />
<text x="114.10" y="187.00" font-size="6.4" text-anchor="middle" font-weight="normal" font-style="normal" fill="#111" stroke="#111" stroke-width="0.1">–2</text>
<line x1="135.70" y1="174.50" x2="135.70" y2="177.60" stroke="#000" stroke-width="0.9" />
<text x="136.00" y="187.00" font-size="6.4" text-anchor="middle" font-weight="normal" font-style="normal" fill="#111" stroke="#111" stroke-width="0.1">–1</text>
<line x1="157.60" y1="174.50" x2="157.60" y2="177.60" stroke="#000" stroke-width="0.9" />
<text x="157.60" y="187.00" font-size="6.4" text-anchor="middle" font-weight="normal" font-style="normal" fill="#111" stroke="#111" stroke-width="0.1">0</text>
<line x1="179.50" y1="174.50" x2="179.50" y2="177.60" stroke="#000" stroke-width="0.9" />
<text x="179.50" y="187.00" font-size="6.4" text-anchor="middle" font-weight="normal" font-style="normal" fill="#111" stroke="#111" stroke-width="0.1">1</text>
<line x1="201.40" y1="174.50" x2="201.40" y2="177.60" stroke="#000" stroke-width="0.9" />
<text x="201.40" y="187.00" font-size="6.4" text-anchor="middle" font-weight="normal" font-style="normal" fill="#111" stroke="#111" stroke-width="0.1">2</text>
<line x1="223.30" y1="174.50" x2="223.30" y2="177.60" stroke="#000" stroke-width="0.9" />
<text x="223.30" y="187.00" font-size="6.4" text-anchor="middle" font-weight="normal" font-style="normal" fill="#111" stroke="#111" stroke-width="0.1">3</text>
<text x="141.5" y="199.2" font-size="8.7" text-anchor="middle" fill="#111" stroke="#111" stroke-width="0.2" textLength="44.7" lengthAdjust="spacingAndGlyphs">Log<tspan font-size="5.5" dy="2">2</tspan><tspan dy="-2"> fold change</tspan></text>
<text transform="translate(26.3,100.7) rotate(-90)" x="0" y="0" font-size="7.9" text-anchor="middle" fill="#111" stroke="#111" stroke-width="0.2" textLength="63.3" lengthAdjust="spacingAndGlyphs">-Log<tspan font-size="5" dy="1.6">10</tspan><tspan dy="-1.6"> adjusted </tspan><tspan font-style="italic">P</tspan> value</text>
<circle cx="53.20" cy="48.70" r="1.90" fill="#5a6383" />
<text x="59" y="50.60" font-size="5.2" fill="#222">NS</text>
<circle cx="53.20" cy="58.70" r="1.90" fill="#72c05a" />
<text x="59" y="60.60" font-size="5.2" fill="#222">Log<tspan font-size="3.4" dy="1.2">2</tspan><tspan dy="-1.2"> FC</tspan></text>
<circle cx="53.20" cy="68.30" r="1.90" fill="#3a5ea6" />
<text x="59" y="70.20" font-size="5.2" fill="#222"><tspan font-style="italic">P</tspan> value</text>
<circle cx="53.20" cy="77.80" r="1.90" fill="#c41d45" />
<text x="59" y="79.70" font-size="5.2" fill="#222"><tspan font-style="italic">P</tspan> value and Log<tspan font-size="3.4" dy="1.2">2</tspan><tspan dy="-1.2"> FC</tspan></text>
<line x1="49.50" y1="204.30" x2="153.90" y2="204.30" stroke="#2d4b8a" stroke-width="0.9" />
<polygon points="46.8,204.3 51.2,202.5 51.2,206.1" fill="#2d4b8a"/>
<line x1="157.30" y1="204.30" x2="233.50" y2="204.30" stroke="#2d4b8a" stroke-width="0.9" />
<polygon points="236.8,204.3 232.4,202.5 232.4,206.1" fill="#2d4b8a"/>
<text x="127.8" y="213.7" font-size="6.4" text-anchor="end" fill="#222">Up in <tspan font-style="italic">TP53</tspan>-wt AML</text>
<text x="127.8" y="221.6" font-size="6.4" text-anchor="end" fill="#222">(n=22 cases)</text>
<text x="166.5" y="213.7" font-size="6.4" fill="#222">Up in <tspan font-style="italic">TP53</tspan>-mut. AML</text>
<text x="166.5" y="221.6" font-size="6.4" fill="#222">(n=42 cases)</text>
</g>
<g id="B">
<rect x="279.30" y="43.90" width="118.09" height="75.62" fill="#dde3ea"/>
<rect x="398.89" y="43.90" width="36.15" height="75.62" fill="#dde3ea"/>
<rect x="279.30" y="120.52" width="118.09" height="59.70" fill="#dde3ea"/>
<rect x="398.89" y="120.52" width="36.15" height="59.70" fill="#dde3ea"/>
<rect x="279.50" y="44.20" width="2.01" height="3.38" fill="#db784c" />
<rect x="281.91" y="44.20" width="2.01" height="3.38" fill="#f5c4a4" />
<rect x="284.32" y="44.20" width="2.01" height="3.38" fill="#f9dcc7" />
<rect x="286.73" y="44.20" width="2.01" height="3.38" fill="#fbf5f1" />
<rect x="289.14" y="44.20" width="2.01" height="3.38" fill="#fbf2ec" />
<rect x="291.55" y="44.20" width="2.01" height="3.38" fill="#f0ad81" />
<rect x="293.96" y="44.20" width="2.01" height="3.38" fill="#e48959" />
<rect x="296.37" y="44.20" width="2.01" height="3.38" fill="#fbf5f1" />
<rect x="298.78" y="44.20" width="2.01" height="3.38" fill="#fcefe7" />
<rect x="301.19" y="44.20" width="2.01" height="3.38" fill="#fafafa" />
<rect x="303.60" y="44.20" width="2.01" height="3.38" fill="#fcece2" />
<rect x="306.01" y="44.20" width="2.01" height="3.38" fill="#fceade" />
<rect x="308.42" y="44.20" width="2.01" height="3.38" fill="#fceadf" />
<rect x="310.83" y="44.20" width="2.01" height="3.38" fill="#cedff1" />
<rect x="313.24" y="44.20" width="2.01" height="3.38" fill="#e1ebf7" />
<rect x="315.65" y="44.20" width="2.01" height="3.38" fill="#dce8f5" />
<rect x="318.06" y="44.20" width="2.01" height="3.38" fill="#f9dcc8" />
<rect x="320.47" y="44.20" width="2.01" height="3.38" fill="#fbeade" />
<rect x="322.88" y="44.20" width="2.01" height="3.38" fill="#c7dbef" />
<rect x="325.29" y="44.20" width="2.01" height="3.38" fill="#fbe3d4" />
<rect x="327.70" y="44.20" width="2.01" height="3.38" fill="#f9d7c0" />
<rect x="330.11" y="44.20" width="2.01" height="3.38" fill="#fbf1ea" />
<rect x="332.52" y="44.20" width="2.01" height="3.38" fill="#fcece2" />
<rect x="334.93" y="44.20" width="2.01" height="3.38" fill="#f8d4bc" />
<rect x="337.34" y="44.20" width="2.01" height="3.38" fill="#ccdef1" />
<rect x="339.75" y="44.20" width="2.01" height="3.38" fill="#fceade" />
<rect x="342.16" y="44.20" width="2.01" height="3.38" fill="#f9dcc7" />
<rect x="344.57" y="44.20" width="2.01" height="3.38" fill="#f5c4a4" />
<rect x="346.98" y="44.20" width="2.01" height="3.38" fill="#fcefe6" />
<rect x="349.39" y="44.20" width="2.01" height="3.38" fill="#dae6f4" />
<rect x="351.80" y="44.20" width="2.01" height="3.38" fill="#eff4f9" />
<rect x="354.21" y="44.20" width="2.01" height="3.38" fill="#c4d9ee" />
<rect x="356.62" y="44.20" width="2.01" height="3.38" fill="#dee9f6" />
<rect x="359.03" y="44.20" width="2.01" height="3.38" fill="#faf7f4" />
<rect x="361.44" y="44.20" width="2.01" height="3.38" fill="#cbddf0" />
<rect x="363.85" y="44.20" width="2.01" height="3.38" fill="#fcefe6" />
<rect x="366.26" y="44.20" width="2.01" height="3.38" fill="#fafaf9" />
<rect x="368.67" y="44.20" width="2.01" height="3.38" fill="#f3f6f9" />
<rect x="371.08" y="44.20" width="2.01" height="3.38" fill="#eaf0f8" />
<rect x="373.49" y="44.20" width="2.01" height="3.38" fill="#d5e3f3" />
<rect x="375.90" y="44.20" width="2.01" height="3.38" fill="#f1f4f9" />
<rect x="378.31" y="44.20" width="2.01" height="3.38" fill="#ecf2f9" />
<rect x="380.72" y="44.20" width="2.01" height="3.38" fill="#ed9e6c" />
<rect x="383.13" y="44.20" width="2.01" height="3.38" fill="#e1ebf7" />
<rect x="385.54" y="44.20" width="2.01" height="3.38" fill="#fae1cf" />
<rect x="387.95" y="44.20" width="2.01" height="3.38" fill="#e2ecf7" />
<rect x="390.36" y="44.20" width="2.01" height="3.38" fill="#adc9e7" />
<rect x="392.77" y="44.20" width="2.01" height="3.38" fill="#e8eff8" />
<rect x="395.18" y="44.20" width="2.01" height="3.38" fill="#f5f7fa" />
<rect x="399.09" y="44.20" width="2.01" height="3.38" fill="#cedff1" />
<rect x="401.50" y="44.20" width="2.01" height="3.38" fill="#8aafdc" />
<rect x="403.91" y="44.20" width="2.01" height="3.38" fill="#c8dcf0" />
<rect x="406.32" y="44.20" width="2.01" height="3.38" fill="#b1cce8" />
<rect x="408.73" y="44.20" width="2.01" height="3.38" fill="#cedff1" />
<rect x="411.14" y="44.20" width="2.01" height="3.38" fill="#9abbe1" />
<rect x="413.55" y="44.20" width="2.01" height="3.38" fill="#dbe7f5" />
<rect x="415.96" y="44.20" width="2.01" height="3.38" fill="#aecae7" />
<rect x="418.37" y="44.20" width="2.01" height="3.38" fill="#8fb3dd" />
<rect x="420.78" y="44.20" width="2.01" height="3.38" fill="#dfeaf6" />
<rect x="423.19" y="44.20" width="2.01" height="3.38" fill="#9abbe1" />
<rect x="425.60" y="44.20" width="2.01" height="3.38" fill="#eef3f9" />
<rect x="428.01" y="44.20" width="2.01" height="3.38" fill="#ecf2f9" />
<rect x="430.42" y="44.20" width="2.01" height="3.38" fill="#bfd6ed" />
<rect x="432.83" y="44.20" width="2.01" height="3.38" fill="#eaf0f8" />
<rect x="279.50" y="48.18" width="2.01" height="3.38" fill="#f4c19f" />
<rect x="281.91" y="48.18" width="2.01" height="3.38" fill="#e18354" />
<rect x="284.32" y="48.18" width="2.01" height="3.38" fill="#fbe7d9" />
<rect x="286.73" y="48.18" width="2.01" height="3.38" fill="#f9dcc8" />
<rect x="289.14" y="48.18" width="2.01" height="3.38" fill="#fcece1" />
<rect x="291.55" y="48.18" width="2.01" height="3.38" fill="#fadfcd" />
<rect x="293.96" y="48.18" width="2.01" height="3.38" fill="#e08153" />
<rect x="296.37" y="48.18" width="2.01" height="3.38" fill="#f9f9fa" />
<rect x="298.78" y="48.18" width="2.01" height="3.38" fill="#fbf4ef" />
<rect x="301.19" y="48.18" width="2.01" height="3.38" fill="#f9d8c2" />
<rect x="303.60" y="48.18" width="2.01" height="3.38" fill="#f8d1b7" />
<rect x="306.01" y="48.18" width="2.01" height="3.38" fill="#fcede3" />
<rect x="308.42" y="48.18" width="2.01" height="3.38" fill="#fbe7da" />
<rect x="310.83" y="48.18" width="2.01" height="3.38" fill="#f4c09e" />
<rect x="313.24" y="48.18" width="2.01" height="3.38" fill="#dde8f5" />
<rect x="315.65" y="48.18" width="2.01" height="3.38" fill="#c6daef" />
<rect x="318.06" y="48.18" width="2.01" height="3.38" fill="#f9d8c1" />
<rect x="320.47" y="48.18" width="2.01" height="3.38" fill="#faddc9" />
<rect x="322.88" y="48.18" width="2.01" height="3.38" fill="#f9dac5" />
<rect x="325.29" y="48.18" width="2.01" height="3.38" fill="#dde8f5" />
<rect x="327.70" y="48.18" width="2.01" height="3.38" fill="#fbe7d9" />
<rect x="330.11" y="48.18" width="2.01" height="3.38" fill="#fcefe6" />
<rect x="332.52" y="48.18" width="2.01" height="3.38" fill="#fcefe6" />
<rect x="334.93" y="48.18" width="2.01" height="3.38" fill="#fae1d0" />
<rect x="337.34" y="48.18" width="2.01" height="3.38" fill="#f9d6be" />
<rect x="339.75" y="48.18" width="2.01" height="3.38" fill="#f0ad81" />
<rect x="342.16" y="48.18" width="2.01" height="3.38" fill="#d5e4f3" />
<rect x="344.57" y="48.18" width="2.01" height="3.38" fill="#f0f4f9" />
<rect x="346.98" y="48.18" width="2.01" height="3.38" fill="#e8eff8" />
<rect x="349.39" y="48.18" width="2.01" height="3.38" fill="#f6caac" />
<rect x="351.80" y="48.18" width="2.01" height="3.38" fill="#d5e4f3" />
<rect x="354.21" y="48.18" width="2.01" height="3.38" fill="#f1f4f9" />
<rect x="356.62" y="48.18" width="2.01" height="3.38" fill="#f6f8fa" />
<rect x="359.03" y="48.18" width="2.01" height="3.38" fill="#9dbde2" />
<rect x="361.44" y="48.18" width="2.01" height="3.38" fill="#fbf3ed" />
<rect x="363.85" y="48.18" width="2.01" height="3.38" fill="#fbf6f3" />
<rect x="366.26" y="48.18" width="2.01" height="3.38" fill="#dbe7f5" />
<rect x="368.67" y="48.18" width="2.01" height="3.38" fill="#dce8f5" />
<rect x="371.08" y="48.18" width="2.01" height="3.38" fill="#dfeaf6" />
<rect x="373.49" y="48.18" width="2.01" height="3.38" fill="#f5f7fa" />
<rect x="375.90" y="48.18" width="2.01" height="3.38" fill="#f0f4f9" />
<rect x="378.31" y="48.18" width="2.01" height="3.38" fill="#faf7f5" />
<rect x="380.72" y="48.18" width="2.01" height="3.38" fill="#c9dcf0" />
<rect x="383.13" y="48.18" width="2.01" height="3.38" fill="#d2e2f2" />
<rect x="385.54" y="48.18" width="2.01" height="3.38" fill="#ebf1f8" />
<rect x="387.95" y="48.18" width="2.01" height="3.38" fill="#eef3f9" />
<rect x="390.36" y="48.18" width="2.01" height="3.38" fill="#d6e4f3" />
<rect x="392.77" y="48.18" width="2.01" height="3.38" fill="#fcefe6" />
<rect x="395.18" y="48.18" width="2.01" height="3.38" fill="#f4f6f9" />
<rect x="399.09" y="48.18" width="2.01" height="3.38" fill="#dde9f6" />
<rect x="401.50" y="48.18" width="2.01" height="3.38" fill="#d6e4f3" />
<rect x="403.91" y="48.18" width="2.01" height="3.38" fill="#f8f9fa" />
<rect x="406.32" y="48.18" width="2.01" height="3.38" fill="#bfd6ed" />
<rect x="408.73" y="48.18" width="2.01" height="3.38" fill="#3c6cb5" />
<rect x="411.14" y="48.18" width="2.01" height="3.38" fill="#dee9f6" />
<rect x="413.55" y="48.18" width="2.01" height="3.38" fill="#d8e5f4" />
<rect x="415.96" y="48.18" width="2.01" height="3.38" fill="#94b6df" />
<rect x="418.37" y="48.18" width="2.01" height="3.38" fill="#bcd4ec" />
<rect x="420.78" y="48.18" width="2.01" height="3.38" fill="#d6e4f3" />
<rect x="423.19" y="48.18" width="2.01" height="3.38" fill="#d1e1f2" />
<rect x="425.60" y="48.18" width="2.01" height="3.38" fill="#bfd6ed" />
<rect x="428.01" y="48.18" width="2.01" height="3.38" fill="#a5c3e4" />
<rect x="430.42" y="48.18" width="2.01" height="3.38" fill="#c3d8ee" />
<rect x="432.83" y="48.18" width="2.01" height="3.38" fill="#dfe9f6" />
<rect x="279.50" y="52.16" width="2.01" height="3.38" fill="#b83b31" />
<rect x="281.91" y="52.16" width="2.01" height="3.38" fill="#fbf0e9" />
<rect x="284.32" y="52.16" width="2.01" height="3.38" fill="#f9fafa" />
<rect x="286.73" y="52.16" width="2.01" height="3.38" fill="#fbf3ed" />
<rect x="289.14" y="52.16" width="2.01" height="3.38" fill="#dde9f6" />
<rect x="291.55" y="52.16" width="2.01" height="3.38" fill="#f9d6be" />
<rect x="293.96" y="52.16" width="2.01" height="3.38" fill="#f9d7bf" />
<rect x="296.37" y="52.16" width="2.01" height="3.38" fill="#fcede2" />
<rect x="298.78" y="52.16" width="2.01" height="3.38" fill="#fae0cf" />
<rect x="301.19" y="52.16" width="2.01" height="3.38" fill="#f6c8a9" />
<rect x="303.60" y="52.16" width="2.01" height="3.38" fill="#fcebe0" />
<rect x="306.01" y="52.16" width="2.01" height="3.38" fill="#fceade" />
<rect x="308.42" y="52.16" width="2.01" height="3.38" fill="#f9d9c3" />
<rect x="310.83" y="52.16" width="2.01" height="3.38" fill="#fbf6f3" />
<rect x="313.24" y="52.16" width="2.01" height="3.38" fill="#fae2d2" />
<rect x="315.65" y="52.16" width="2.01" height="3.38" fill="#f7f8fa" />
<rect x="318.06" y="52.16" width="2.01" height="3.38" fill="#f9dac4" />
<rect x="320.47" y="52.16" width="2.01" height="3.38" fill="#faf8f7" />
<rect x="322.88" y="52.16" width="2.01" height="3.38" fill="#fceade" />
<rect x="325.29" y="52.16" width="2.01" height="3.38" fill="#fbe9dc" />
<rect x="327.70" y="52.16" width="2.01" height="3.38" fill="#e9f0f8" />
<rect x="330.11" y="52.16" width="2.01" height="3.38" fill="#fbf4ef" />
<rect x="332.52" y="52.16" width="2.01" height="3.38" fill="#fbe4d5" />
<rect x="334.93" y="52.16" width="2.01" height="3.38" fill="#fcf0e9" />
<rect x="337.34" y="52.16" width="2.01" height="3.38" fill="#faf8f6" />
<rect x="339.75" y="52.16" width="2.01" height="3.38" fill="#faf7f5" />
<rect x="342.16" y="52.16" width="2.01" height="3.38" fill="#fbf5f2" />
<rect x="344.57" y="52.16" width="2.01" height="3.38" fill="#fcece2" />
<rect x="346.98" y="52.16" width="2.01" height="3.38" fill="#fbf0e9" />
<rect x="349.39" y="52.16" width="2.01" height="3.38" fill="#f8d1b7" />
<rect x="351.80" y="52.16" width="2.01" height="3.38" fill="#f6f8fa" />
<rect x="354.21" y="52.16" width="2.01" height="3.38" fill="#e3ecf7" />
<rect x="356.62" y="52.16" width="2.01" height="3.38" fill="#b6d0ea" />
<rect x="359.03" y="52.16" width="2.01" height="3.38" fill="#edf2f9" />
<rect x="361.44" y="52.16" width="2.01" height="3.38" fill="#faf9f8" />
<rect x="363.85" y="52.16" width="2.01" height="3.38" fill="#e5eef8" />
<rect x="366.26" y="52.16" width="2.01" height="3.38" fill="#fbe8dc" />
<rect x="368.67" y="52.16" width="2.01" height="3.38" fill="#fbe8da" />
<rect x="371.08" y="52.16" width="2.01" height="3.38" fill="#fbf2eb" />
<rect x="373.49" y="52.16" width="2.01" height="3.38" fill="#e4edf8" />
<rect x="375.90" y="52.16" width="2.01" height="3.38" fill="#fadfcc" />
<rect x="378.31" y="52.16" width="2.01" height="3.38" fill="#faf7f5" />
<rect x="380.72" y="52.16" width="2.01" height="3.38" fill="#bcd4ec" />
<rect x="383.13" y="52.16" width="2.01" height="3.38" fill="#fceee4" />
<rect x="385.54" y="52.16" width="2.01" height="3.38" fill="#c4d9ee" />
<rect x="387.95" y="52.16" width="2.01" height="3.38" fill="#c6daef" />
<rect x="390.36" y="52.16" width="2.01" height="3.38" fill="#fbf4f0" />
<rect x="392.77" y="52.16" width="2.01" height="3.38" fill="#fcece2" />
<rect x="395.18" y="52.16" width="2.01" height="3.38" fill="#eff3f9" />
<rect x="399.09" y="52.16" width="2.01" height="3.38" fill="#e3ecf7" />
<rect x="401.50" y="52.16" width="2.01" height="3.38" fill="#e5edf8" />
<rect x="403.91" y="52.16" width="2.01" height="3.38" fill="#8bb0dc" />
<rect x="406.32" y="52.16" width="2.01" height="3.38" fill="#d0e0f2" />
<rect x="408.73" y="52.16" width="2.01" height="3.38" fill="#d9e6f4" />
<rect x="411.14" y="52.16" width="2.01" height="3.38" fill="#a5c3e4" />
<rect x="413.55" y="52.16" width="2.01" height="3.38" fill="#dbe7f5" />
<rect x="415.96" y="52.16" width="2.01" height="3.38" fill="#bed5ec" />
<rect x="418.37" y="52.16" width="2.01" height="3.38" fill="#d1e1f2" />
<rect x="420.78" y="52.16" width="2.01" height="3.38" fill="#c9dcf0" />
<rect x="423.19" y="52.16" width="2.01" height="3.38" fill="#f5f7f9" />
<rect x="425.60" y="52.16" width="2.01" height="3.38" fill="#cedff1" />
<rect x="428.01" y="52.16" width="2.01" height="3.38" fill="#c3d9ee" />
<rect x="430.42" y="52.16" width="2.01" height="3.38" fill="#8bb0dc" />
<rect x="432.83" y="52.16" width="2.01" height="3.38" fill="#b3cee9" />
<rect x="279.50" y="56.14" width="2.01" height="3.38" fill="#fadeca" />
<rect x="281.91" y="56.14" width="2.01" height="3.38" fill="#fae2d1" />
<rect x="284.32" y="56.14" width="2.01" height="3.38" fill="#f9d6be" />
<rect x="286.73" y="56.14" width="2.01" height="3.38" fill="#f9d8c1" />
<rect x="289.14" y="56.14" width="2.01" height="3.38" fill="#e9f0f8" />
<rect x="291.55" y="56.14" width="2.01" height="3.38" fill="#fbf3ee" />
<rect x="293.96" y="56.14" width="2.01" height="3.38" fill="#fbf2ec" />
<rect x="296.37" y="56.14" width="2.01" height="3.38" fill="#f9d6be" />
<rect x="298.78" y="56.14" width="2.01" height="3.38" fill="#f8f9fa" />
<rect x="301.19" y="56.14" width="2.01" height="3.38" fill="#fbf5f1" />
<rect x="303.60" y="56.14" width="2.01" height="3.38" fill="#fbf6f3" />
<rect x="306.01" y="56.14" width="2.01" height="3.38" fill="#a3c2e4" />
<rect x="308.42" y="56.14" width="2.01" height="3.38" fill="#fcf0e8" />
<rect x="310.83" y="56.14" width="2.01" height="3.38" fill="#fceadf" />
<rect x="313.24" y="56.14" width="2.01" height="3.38" fill="#fafafa" />
<rect x="315.65" y="56.14" width="2.01" height="3.38" fill="#faf9f9" />
<rect x="318.06" y="56.14" width="2.01" height="3.38" fill="#fbe9dc" />
<rect x="320.47" y="56.14" width="2.01" height="3.38" fill="#f5c3a2" />
<rect x="322.88" y="56.14" width="2.01" height="3.38" fill="#fbe7da" />
<rect x="325.29" y="56.14" width="2.01" height="3.38" fill="#f2f5f9" />
<rect x="327.70" y="56.14" width="2.01" height="3.38" fill="#fae1d0" />
<rect x="330.11" y="56.14" width="2.01" height="3.38" fill="#f8d5bd" />
<rect x="332.52" y="56.14" width="2.01" height="3.38" fill="#fae3d3" />
<rect x="334.93" y="56.14" width="2.01" height="3.38" fill="#fbe5d6" />
<rect x="337.34" y="56.14" width="2.01" height="3.38" fill="#fbf3ed" />
<rect x="339.75" y="56.14" width="2.01" height="3.38" fill="#fbe8db" />
<rect x="342.16" y="56.14" width="2.01" height="3.38" fill="#93b6df" />
<rect x="344.57" y="56.14" width="2.01" height="3.38" fill="#fae3d2" />
<rect x="346.98" y="56.14" width="2.01" height="3.38" fill="#f7ccaf" />
<rect x="349.39" y="56.14" width="2.01" height="3.38" fill="#fbe4d5" />
<rect x="351.80" y="56.14" width="2.01" height="3.38" fill="#fcede4" />
<rect x="354.21" y="56.14" width="2.01" height="3.38" fill="#fbf6f4" />
<rect x="356.62" y="56.14" width="2.01" height="3.38" fill="#f0f4f9" />
<rect x="359.03" y="56.14" width="2.01" height="3.38" fill="#c9dcf0" />
<rect x="361.44" y="56.14" width="2.01" height="3.38" fill="#fbf2ec" />
<rect x="363.85" y="56.14" width="2.01" height="3.38" fill="#dc794d" />
<rect x="366.26" y="56.14" width="2.01" height="3.38" fill="#b8d1eb" />
<rect x="368.67" y="56.14" width="2.01" height="3.38" fill="#fbe8db" />
<rect x="371.08" y="56.14" width="2.01" height="3.38" fill="#fcefe7" />
<rect x="373.49" y="56.14" width="2.01" height="3.38" fill="#fcece2" />
<rect x="375.90" y="56.14" width="2.01" height="3.38" fill="#fbe9dd" />
<rect x="378.31" y="56.14" width="2.01" height="3.38" fill="#e8eff8" />
<rect x="380.72" y="56.14" width="2.01" height="3.38" fill="#f1f5f9" />
<rect x="383.13" y="56.14" width="2.01" height="3.38" fill="#d9e6f4" />
<rect x="385.54" y="56.14" width="2.01" height="3.38" fill="#fbf1ea" />
<rect x="387.95" y="56.14" width="2.01" height="3.38" fill="#e5eef8" />
<rect x="390.36" y="56.14" width="2.01" height="3.38" fill="#fadfcc" />
<rect x="392.77" y="56.14" width="2.01" height="3.38" fill="#d9e6f4" />
<rect x="395.18" y="56.14" width="2.01" height="3.38" fill="#fbf5f1" />
<rect x="399.09" y="56.14" width="2.01" height="3.38" fill="#f2f5f9" />
<rect x="401.50" y="56.14" width="2.01" height="3.38" fill="#d1e1f2" />
<rect x="403.91" y="56.14" width="2.01" height="3.38" fill="#c4d9ee" />
<rect x="406.32" y="56.14" width="2.01" height="3.38" fill="#a4c2e4" />
<rect x="408.73" y="56.14" width="2.01" height="3.38" fill="#edf2f9" />
<rect x="411.14" y="56.14" width="2.01" height="3.38" fill="#e7eff8" />
<rect x="413.55" y="56.14" width="2.01" height="3.38" fill="#fafafa" />
<rect x="415.96" y="56.14" width="2.01" height="3.38" fill="#c0d7ed" />
<rect x="418.37" y="56.14" width="2.01" height="3.38" fill="#faf9f9" />
<rect x="420.78" y="56.14" width="2.01" height="3.38" fill="#dce8f5" />
<rect x="423.19" y="56.14" width="2.01" height="3.38" fill="#e1ebf7" />
<rect x="425.60" y="56.14" width="2.01" height="3.38" fill="#d8e5f4" />
<rect x="428.01" y="56.14" width="2.01" height="3.38" fill="#bfd6ed" />
<rect x="430.42" y="56.14" width="2.01" height="3.38" fill="#c5daef" />
<rect x="432.83" y="56.14" width="2.01" height="3.38" fill="#e8eff8" />
<rect x="279.50" y="60.12" width="2.01" height="3.38" fill="#fadfcc" />
<rect x="281.91" y="60.12" width="2.01" height="3.38" fill="#fbe7d9" />
<rect x="284.32" y="60.12" width="2.01" height="3.38" fill="#fbe7d9" />
<rect x="286.73" y="60.12" width="2.01" height="3.38" fill="#fae0ce" />
<rect x="289.14" y="60.12" width="2.01" height="3.38" fill="#f7ccaf" />
<rect x="291.55" y="60.12" width="2.01" height="3.38" fill="#da7449" />
<rect x="293.96" y="60.12" width="2.01" height="3.38" fill="#fae1d0" />
<rect x="296.37" y="60.12" width="2.01" height="3.38" fill="#fbf2ed" />
<rect x="298.78" y="60.12" width="2.01" height="3.38" fill="#fceade" />
<rect x="301.19" y="60.12" width="2.01" height="3.38" fill="#fbf4f0" />
<rect x="303.60" y="60.12" width="2.01" height="3.38" fill="#e7eff8" />
<rect x="306.01" y="60.12" width="2.01" height="3.38" fill="#fbf1ea" />
<rect x="308.42" y="60.12" width="2.01" height="3.38" fill="#ebf1f8" />
<rect x="310.83" y="60.12" width="2.01" height="3.38" fill="#f6c7a7" />
<rect x="313.24" y="60.12" width="2.01" height="3.38" fill="#edf2f9" />
<rect x="315.65" y="60.12" width="2.01" height="3.38" fill="#fbf4ef" />
<rect x="318.06" y="60.12" width="2.01" height="3.38" fill="#fbe4d5" />
<rect x="320.47" y="60.12" width="2.01" height="3.38" fill="#fbf1eb" />
<rect x="322.88" y="60.12" width="2.01" height="3.38" fill="#f7cbae" />
<rect x="325.29" y="60.12" width="2.01" height="3.38" fill="#fcede4" />
<rect x="327.70" y="60.12" width="2.01" height="3.38" fill="#e7eff8" />
<rect x="330.11" y="60.12" width="2.01" height="3.38" fill="#f8d3ba" />
<rect x="332.52" y="60.12" width="2.01" height="3.38" fill="#fbf1ea" />
<rect x="334.93" y="60.12" width="2.01" height="3.38" fill="#ed9d6b" />
<rect x="337.34" y="60.12" width="2.01" height="3.38" fill="#fafafa" />
<rect x="339.75" y="60.12" width="2.01" height="3.38" fill="#fbf4ef" />
<rect x="342.16" y="60.12" width="2.01" height="3.38" fill="#fceade" />
<rect x="344.57" y="60.12" width="2.01" height="3.38" fill="#f2f5f9" />
<rect x="346.98" y="60.12" width="2.01" height="3.38" fill="#f9dcc7" />
<rect x="349.39" y="60.12" width="2.01" height="3.38" fill="#f6c9ab" />
<rect x="351.80" y="60.12" width="2.01" height="3.38" fill="#fbe6d9" />
<rect x="354.21" y="60.12" width="2.01" height="3.38" fill="#fafafa" />
<rect x="356.62" y="60.12" width="2.01" height="3.38" fill="#e8eff8" />
<rect x="359.03" y="60.12" width="2.01" height="3.38" fill="#fcede3" />
<rect x="361.44" y="60.12" width="2.01" height="3.38" fill="#fcefe6" />
<rect x="363.85" y="60.12" width="2.01" height="3.38" fill="#e5eef8" />
<rect x="366.26" y="60.12" width="2.01" height="3.38" fill="#dde8f5" />
<rect x="368.67" y="60.12" width="2.01" height="3.38" fill="#d5e3f3" />
<rect x="371.08" y="60.12" width="2.01" height="3.38" fill="#a8c5e6" />
<rect x="373.49" y="60.12" width="2.01" height="3.38" fill="#e9f0f8" />
<rect x="375.90" y="60.12" width="2.01" height="3.38" fill="#fbf6f3" />
<rect x="378.31" y="60.12" width="2.01" height="3.38" fill="#fbf2eb" />
<rect x="380.72" y="60.12" width="2.01" height="3.38" fill="#eda06f" />
<rect x="383.13" y="60.12" width="2.01" height="3.38" fill="#f8f9fa" />
<rect x="385.54" y="60.12" width="2.01" height="3.38" fill="#f6f8fa" />
<rect x="387.95" y="60.12" width="2.01" height="3.38" fill="#e0eaf6" />
<rect x="390.36" y="60.12" width="2.01" height="3.38" fill="#f0f4f9" />
<rect x="392.77" y="60.12" width="2.01" height="3.38" fill="#fcede3" />
<rect x="395.18" y="60.12" width="2.01" height="3.38" fill="#ebf1f9" />
<rect x="399.09" y="60.12" width="2.01" height="3.38" fill="#c8dcf0" />
<rect x="401.50" y="60.12" width="2.01" height="3.38" fill="#c0d7ed" />
<rect x="403.91" y="60.12" width="2.01" height="3.38" fill="#d2e2f2" />
<rect x="406.32" y="60.12" width="2.01" height="3.38" fill="#bcd4ec" />
<rect x="408.73" y="60.12" width="2.01" height="3.38" fill="#d7e5f4" />
<rect x="411.14" y="60.12" width="2.01" height="3.38" fill="#9dbde2" />
<rect x="413.55" y="60.12" width="2.01" height="3.38" fill="#b2cde9" />
<rect x="415.96" y="60.12" width="2.01" height="3.38" fill="#d3e2f2" />
<rect x="418.37" y="60.12" width="2.01" height="3.38" fill="#edf2f9" />
<rect x="420.78" y="60.12" width="2.01" height="3.38" fill="#b8d1eb" />
<rect x="423.19" y="60.12" width="2.01" height="3.38" fill="#caddf0" />
<rect x="425.60" y="60.12" width="2.01" height="3.38" fill="#dbe7f5" />
<rect x="428.01" y="60.12" width="2.01" height="3.38" fill="#c0d7ed" />
<rect x="430.42" y="60.12" width="2.01" height="3.38" fill="#cfe0f1" />
<rect x="432.83" y="60.12" width="2.01" height="3.38" fill="#d2e1f2" />
<rect x="279.50" y="64.10" width="2.01" height="3.38" fill="#aa262c" />
<rect x="281.91" y="64.10" width="2.01" height="3.38" fill="#e68e5d" />
<rect x="284.32" y="64.10" width="2.01" height="3.38" fill="#fbe8da" />
<rect x="286.73" y="64.10" width="2.01" height="3.38" fill="#f5f7f9" />
<rect x="289.14" y="64.10" width="2.01" height="3.38" fill="#fcece2" />
<rect x="291.55" y="64.10" width="2.01" height="3.38" fill="#fbe9dc" />
<rect x="293.96" y="64.10" width="2.01" height="3.38" fill="#faf9f9" />
<rect x="296.37" y="64.10" width="2.01" height="3.38" fill="#f4f6f9" />
<rect x="298.78" y="64.10" width="2.01" height="3.38" fill="#fafafa" />
<rect x="301.19" y="64.10" width="2.01" height="3.38" fill="#f8d2b8" />
<rect x="303.60" y="64.10" width="2.01" height="3.38" fill="#cfe0f1" />
<rect x="306.01" y="64.10" width="2.01" height="3.38" fill="#f9dac4" />
<rect x="308.42" y="64.10" width="2.01" height="3.38" fill="#fceee4" />
<rect x="310.83" y="64.10" width="2.01" height="3.38" fill="#faf9f7" />
<rect x="313.24" y="64.10" width="2.01" height="3.38" fill="#fbe7d9" />
<rect x="315.65" y="64.10" width="2.01" height="3.38" fill="#fcefe7" />
<rect x="318.06" y="64.10" width="2.01" height="3.38" fill="#f5f7f9" />
<rect x="320.47" y="64.10" width="2.01" height="3.38" fill="#fcf0e8" />
<rect x="322.88" y="64.10" width="2.01" height="3.38" fill="#fcebe1" />
<rect x="325.29" y="64.10" width="2.01" height="3.38" fill="#fbe4d5" />
<rect x="327.70" y="64.10" width="2.01" height="3.38" fill="#fcebe1" />
<rect x="330.11" y="64.10" width="2.01" height="3.38" fill="#fcefe6" />
<rect x="332.52" y="64.10" width="2.01" height="3.38" fill="#cddff1" />
<rect x="334.93" y="64.10" width="2.01" height="3.38" fill="#faf9f7" />
<rect x="337.34" y="64.10" width="2.01" height="3.38" fill="#fae3d3" />
<rect x="339.75" y="64.10" width="2.01" height="3.38" fill="#fae0cf" />
<rect x="342.16" y="64.10" width="2.01" height="3.38" fill="#f7f8fa" />
<rect x="344.57" y="64.10" width="2.01" height="3.38" fill="#faf8f7" />
<rect x="346.98" y="64.10" width="2.01" height="3.38" fill="#f0f4f9" />
<rect x="349.39" y="64.10" width="2.01" height="3.38" fill="#e7eef8" />
<rect x="351.80" y="64.10" width="2.01" height="3.38" fill="#f5f7fa" />
<rect x="354.21" y="64.10" width="2.01" height="3.38" fill="#faf7f5" />
<rect x="356.62" y="64.10" width="2.01" height="3.38" fill="#e6eef8" />
<rect x="359.03" y="64.10" width="2.01" height="3.38" fill="#f2f5f9" />
<rect x="361.44" y="64.10" width="2.01" height="3.38" fill="#fceee6" />
<rect x="363.85" y="64.10" width="2.01" height="3.38" fill="#cbddf0" />
<rect x="366.26" y="64.10" width="2.01" height="3.38" fill="#e9f0f8" />
<rect x="368.67" y="64.10" width="2.01" height="3.38" fill="#e6eef8" />
<rect x="371.08" y="64.10" width="2.01" height="3.38" fill="#fbf5f0" />
<rect x="373.49" y="64.10" width="2.01" height="3.38" fill="#c4d9ee" />
<rect x="375.90" y="64.10" width="2.01" height="3.38" fill="#bed5ec" />
<rect x="378.31" y="64.10" width="2.01" height="3.38" fill="#f4f6f9" />
<rect x="380.72" y="64.10" width="2.01" height="3.38" fill="#d7e4f4" />
<rect x="383.13" y="64.10" width="2.01" height="3.38" fill="#f0f4f9" />
<rect x="385.54" y="64.10" width="2.01" height="3.38" fill="#fafafa" />
<rect x="387.95" y="64.10" width="2.01" height="3.38" fill="#f7f8fa" />
<rect x="390.36" y="64.10" width="2.01" height="3.38" fill="#fbf5f2" />
<rect x="392.77" y="64.10" width="2.01" height="3.38" fill="#f0f4f9" />
<rect x="395.18" y="64.10" width="2.01" height="3.38" fill="#e9f0f8" />
<rect x="399.09" y="64.10" width="2.01" height="3.38" fill="#8cb0dc" />
<rect x="401.50" y="64.10" width="2.01" height="3.38" fill="#e0eaf6" />
<rect x="403.91" y="64.10" width="2.01" height="3.38" fill="#96b8e0" />
<rect x="406.32" y="64.10" width="2.01" height="3.38" fill="#c5d9ee" />
<rect x="408.73" y="64.10" width="2.01" height="3.38" fill="#ebf1f8" />
<rect x="411.14" y="64.10" width="2.01" height="3.38" fill="#88aedb" />
<rect x="413.55" y="64.10" width="2.01" height="3.38" fill="#dbe7f5" />
<rect x="415.96" y="64.10" width="2.01" height="3.38" fill="#adc9e7" />
<rect x="418.37" y="64.10" width="2.01" height="3.38" fill="#c5daef" />
<rect x="420.78" y="64.10" width="2.01" height="3.38" fill="#88aedb" />
<rect x="423.19" y="64.10" width="2.01" height="3.38" fill="#77a1d5" />
<rect x="425.60" y="64.10" width="2.01" height="3.38" fill="#d3e3f3" />
<rect x="428.01" y="64.10" width="2.01" height="3.38" fill="#fbf7f4" />
<rect x="430.42" y="64.10" width="2.01" height="3.38" fill="#dde8f5" />
<rect x="432.83" y="64.10" width="2.01" height="3.38" fill="#caddf0" />
<rect x="279.50" y="68.08" width="2.01" height="3.38" fill="#e99462" />
<rect x="281.91" y="68.08" width="2.01" height="3.38" fill="#f5c4a4" />
<rect x="284.32" y="68.08" width="2.01" height="3.38" fill="#f6c7a8" />
<rect x="286.73" y="68.08" width="2.01" height="3.38" fill="#fbf6f2" />
<rect x="289.14" y="68.08" width="2.01" height="3.38" fill="#f6f8fa" />
<rect x="291.55" y="68.08" width="2.01" height="3.38" fill="#f4bf9d" />
<rect x="293.96" y="68.08" width="2.01" height="3.38" fill="#fbf2ec" />
<rect x="296.37" y="68.08" width="2.01" height="3.38" fill="#faddca" />
<rect x="298.78" y="68.08" width="2.01" height="3.38" fill="#f8d1b7" />
<rect x="301.19" y="68.08" width="2.01" height="3.38" fill="#faf9f8" />
<rect x="303.60" y="68.08" width="2.01" height="3.38" fill="#fbf5f1" />
<rect x="306.01" y="68.08" width="2.01" height="3.38" fill="#e8eff8" />
<rect x="308.42" y="68.08" width="2.01" height="3.38" fill="#bed5ec" />
<rect x="310.83" y="68.08" width="2.01" height="3.38" fill="#fcefe6" />
<rect x="313.24" y="68.08" width="2.01" height="3.38" fill="#f9dac4" />
<rect x="315.65" y="68.08" width="2.01" height="3.38" fill="#eaf1f8" />
<rect x="318.06" y="68.08" width="2.01" height="3.38" fill="#faddca" />
<rect x="320.47" y="68.08" width="2.01" height="3.38" fill="#fafafa" />
<rect x="322.88" y="68.08" width="2.01" height="3.38" fill="#fcf0e8" />
<rect x="325.29" y="68.08" width="2.01" height="3.38" fill="#ebf1f9" />
<rect x="327.70" y="68.08" width="2.01" height="3.38" fill="#fbf0e9" />
<rect x="330.11" y="68.08" width="2.01" height="3.38" fill="#fadeca" />
<rect x="332.52" y="68.08" width="2.01" height="3.38" fill="#fbf1ea" />
<rect x="334.93" y="68.08" width="2.01" height="3.38" fill="#fbf1ea" />
<rect x="337.34" y="68.08" width="2.01" height="3.38" fill="#fae1d1" />
<rect x="339.75" y="68.08" width="2.01" height="3.38" fill="#fbf1ea" />
<rect x="342.16" y="68.08" width="2.01" height="3.38" fill="#fae2d1" />
<rect x="344.57" y="68.08" width="2.01" height="3.38" fill="#fceadf" />
<rect x="346.98" y="68.08" width="2.01" height="3.38" fill="#f9d9c4" />
<rect x="349.39" y="68.08" width="2.01" height="3.38" fill="#fbf3ed" />
<rect x="351.80" y="68.08" width="2.01" height="3.38" fill="#eef3f9" />
<rect x="354.21" y="68.08" width="2.01" height="3.38" fill="#eff3f9" />
<rect x="356.62" y="68.08" width="2.01" height="3.38" fill="#fcece2" />
<rect x="359.03" y="68.08" width="2.01" height="3.38" fill="#f5f7fa" />
<rect x="361.44" y="68.08" width="2.01" height="3.38" fill="#cddff1" />
<rect x="363.85" y="68.08" width="2.01" height="3.38" fill="#caddf0" />
<rect x="366.26" y="68.08" width="2.01" height="3.38" fill="#e8eff8" />
<rect x="368.67" y="68.08" width="2.01" height="3.38" fill="#dfeaf6" />
<rect x="371.08" y="68.08" width="2.01" height="3.38" fill="#d3e2f3" />
<rect x="373.49" y="68.08" width="2.01" height="3.38" fill="#dbe7f5" />
<rect x="375.90" y="68.08" width="2.01" height="3.38" fill="#faf7f5" />
<rect x="378.31" y="68.08" width="2.01" height="3.38" fill="#bbd3ec" />
<rect x="380.72" y="68.08" width="2.01" height="3.38" fill="#f2f5f9" />
<rect x="383.13" y="68.08" width="2.01" height="3.38" fill="#e3ecf7" />
<rect x="385.54" y="68.08" width="2.01" height="3.38" fill="#fcece1" />
<rect x="387.95" y="68.08" width="2.01" height="3.38" fill="#bdd4ec" />
<rect x="390.36" y="68.08" width="2.01" height="3.38" fill="#f7f8fa" />
<rect x="392.77" y="68.08" width="2.01" height="3.38" fill="#e5edf8" />
<rect x="395.18" y="68.08" width="2.01" height="3.38" fill="#edf2f9" />
<rect x="399.09" y="68.08" width="2.01" height="3.38" fill="#d5e3f3" />
<rect x="401.50" y="68.08" width="2.01" height="3.38" fill="#faf8f7" />
<rect x="403.91" y="68.08" width="2.01" height="3.38" fill="#d3e2f3" />
<rect x="406.32" y="68.08" width="2.01" height="3.38" fill="#d7e4f4" />
<rect x="408.73" y="68.08" width="2.01" height="3.38" fill="#96b8e0" />
<rect x="411.14" y="68.08" width="2.01" height="3.38" fill="#d9e6f4" />
<rect x="413.55" y="68.08" width="2.01" height="3.38" fill="#98bae0" />
<rect x="415.96" y="68.08" width="2.01" height="3.38" fill="#c5daef" />
<rect x="418.37" y="68.08" width="2.01" height="3.38" fill="#5f90ce" />
<rect x="420.78" y="68.08" width="2.01" height="3.38" fill="#eef3f9" />
<rect x="423.19" y="68.08" width="2.01" height="3.38" fill="#e2ecf7" />
<rect x="425.60" y="68.08" width="2.01" height="3.38" fill="#cfe0f1" />
<rect x="428.01" y="68.08" width="2.01" height="3.38" fill="#7fa7d8" />
<rect x="430.42" y="68.08" width="2.01" height="3.38" fill="#c3d8ee" />
<rect x="432.83" y="68.08" width="2.01" height="3.38" fill="#cbddf0" />
<rect x="279.50" y="72.06" width="2.01" height="3.38" fill="#ed9d6a" />
<rect x="281.91" y="72.06" width="2.01" height="3.38" fill="#f9dac4" />
<rect x="284.32" y="72.06" width="2.01" height="3.38" fill="#fcf0e8" />
<rect x="286.73" y="72.06" width="2.01" height="3.38" fill="#8cb1dc" />
<rect x="289.14" y="72.06" width="2.01" height="3.38" fill="#f1f5f9" />
<rect x="291.55" y="72.06" width="2.01" height="3.38" fill="#f1b188" />
<rect x="293.96" y="72.06" width="2.01" height="3.38" fill="#d7e4f4" />
<rect x="296.37" y="72.06" width="2.01" height="3.38" fill="#fcede3" />
<rect x="298.78" y="72.06" width="2.01" height="3.38" fill="#fcefe7" />
<rect x="301.19" y="72.06" width="2.01" height="3.38" fill="#fcefe7" />
<rect x="303.60" y="72.06" width="2.01" height="3.38" fill="#f8f9fa" />
<rect x="306.01" y="72.06" width="2.01" height="3.38" fill="#fae0ce" />
<rect x="308.42" y="72.06" width="2.01" height="3.38" fill="#fbe9dd" />
<rect x="310.83" y="72.06" width="2.01" height="3.38" fill="#f8f9fa" />
<rect x="313.24" y="72.06" width="2.01" height="3.38" fill="#fbf2ec" />
<rect x="315.65" y="72.06" width="2.01" height="3.38" fill="#eef3f9" />
<rect x="318.06" y="72.06" width="2.01" height="3.38" fill="#fae3d3" />
<rect x="320.47" y="72.06" width="2.01" height="3.38" fill="#f3bc98" />
<rect x="322.88" y="72.06" width="2.01" height="3.38" fill="#f6c7a8" />
<rect x="325.29" y="72.06" width="2.01" height="3.38" fill="#f9d6be" />
<rect x="327.70" y="72.06" width="2.01" height="3.38" fill="#fcece1" />
<rect x="330.11" y="72.06" width="2.01" height="3.38" fill="#fcebe0" />
<rect x="332.52" y="72.06" width="2.01" height="3.38" fill="#fae1d0" />
<rect x="334.93" y="72.06" width="2.01" height="3.38" fill="#f5c5a5" />
<rect x="337.34" y="72.06" width="2.01" height="3.38" fill="#fceade" />
<rect x="339.75" y="72.06" width="2.01" height="3.38" fill="#fcece2" />
<rect x="342.16" y="72.06" width="2.01" height="3.38" fill="#eff4f9" />
<rect x="344.57" y="72.06" width="2.01" height="3.38" fill="#fcebdf" />
<rect x="346.98" y="72.06" width="2.01" height="3.38" fill="#fbe8db" />
<rect x="349.39" y="72.06" width="2.01" height="3.38" fill="#fbf6f3" />
<rect x="351.80" y="72.06" width="2.01" height="3.38" fill="#d0e0f2" />
<rect x="354.21" y="72.06" width="2.01" height="3.38" fill="#eaf1f8" />
<rect x="356.62" y="72.06" width="2.01" height="3.38" fill="#f5f7f9" />
<rect x="359.03" y="72.06" width="2.01" height="3.38" fill="#d7e5f4" />
<rect x="361.44" y="72.06" width="2.01" height="3.38" fill="#faf7f5" />
<rect x="363.85" y="72.06" width="2.01" height="3.38" fill="#e1ebf7" />
<rect x="366.26" y="72.06" width="2.01" height="3.38" fill="#f4f6f9" />
<rect x="368.67" y="72.06" width="2.01" height="3.38" fill="#fcece1" />
<rect x="371.08" y="72.06" width="2.01" height="3.38" fill="#dce8f5" />
<rect x="373.49" y="72.06" width="2.01" height="3.38" fill="#e9f0f8" />
<rect x="375.90" y="72.06" width="2.01" height="3.38" fill="#e2ebf7" />
<rect x="378.31" y="72.06" width="2.01" height="3.38" fill="#e1ebf6" />
<rect x="380.72" y="72.06" width="2.01" height="3.38" fill="#f4f7f9" />
<rect x="383.13" y="72.06" width="2.01" height="3.38" fill="#c0d7ed" />
<rect x="385.54" y="72.06" width="2.01" height="3.38" fill="#f3f6f9" />
<rect x="387.95" y="72.06" width="2.01" height="3.38" fill="#c4d9ee" />
<rect x="390.36" y="72.06" width="2.01" height="3.38" fill="#d8e5f4" />
<rect x="392.77" y="72.06" width="2.01" height="3.38" fill="#fbf6f4" />
<rect x="395.18" y="72.06" width="2.01" height="3.38" fill="#bcd4ec" />
<rect x="399.09" y="72.06" width="2.01" height="3.38" fill="#ebf1f9" />
<rect x="401.50" y="72.06" width="2.01" height="3.38" fill="#fafafa" />
<rect x="403.91" y="72.06" width="2.01" height="3.38" fill="#e5edf8" />
<rect x="406.32" y="72.06" width="2.01" height="3.38" fill="#dae7f5" />
<rect x="408.73" y="72.06" width="2.01" height="3.38" fill="#cbddf0" />
<rect x="411.14" y="72.06" width="2.01" height="3.38" fill="#c3d8ee" />
<rect x="413.55" y="72.06" width="2.01" height="3.38" fill="#fbf5f1" />
<rect x="415.96" y="72.06" width="2.01" height="3.38" fill="#a5c3e4" />
<rect x="418.37" y="72.06" width="2.01" height="3.38" fill="#c8dbef" />
<rect x="420.78" y="72.06" width="2.01" height="3.38" fill="#d7e5f4" />
<rect x="423.19" y="72.06" width="2.01" height="3.38" fill="#bad3eb" />
<rect x="425.60" y="72.06" width="2.01" height="3.38" fill="#9bbce1" />
<rect x="428.01" y="72.06" width="2.01" height="3.38" fill="#d0e0f2" />
<rect x="430.42" y="72.06" width="2.01" height="3.38" fill="#c9dcf0" />
<rect x="432.83" y="72.06" width="2.01" height="3.38" fill="#86acda" />
<rect x="279.50" y="76.04" width="2.01" height="3.38" fill="#dc794d" />
<rect x="281.91" y="76.04" width="2.01" height="3.38" fill="#faf8f7" />
<rect x="284.32" y="76.04" width="2.01" height="3.38" fill="#8eb2dd" />
<rect x="286.73" y="76.04" width="2.01" height="3.38" fill="#fae1cf" />
<rect x="289.14" y="76.04" width="2.01" height="3.38" fill="#f9dac4" />
<rect x="291.55" y="76.04" width="2.01" height="3.38" fill="#edf2f9" />
<rect x="293.96" y="76.04" width="2.01" height="3.38" fill="#fcede3" />
<rect x="296.37" y="76.04" width="2.01" height="3.38" fill="#fbf6f3" />
<rect x="298.78" y="76.04" width="2.01" height="3.38" fill="#e1ebf7" />
<rect x="301.19" y="76.04" width="2.01" height="3.38" fill="#fadeca" />
<rect x="303.60" y="76.04" width="2.01" height="3.38" fill="#fbf4ef" />
<rect x="306.01" y="76.04" width="2.01" height="3.38" fill="#fbf0e9" />
<rect x="308.42" y="76.04" width="2.01" height="3.38" fill="#d5e3f3" />
<rect x="310.83" y="76.04" width="2.01" height="3.38" fill="#fae1d0" />
<rect x="313.24" y="76.04" width="2.01" height="3.38" fill="#fcebe0" />
<rect x="315.65" y="76.04" width="2.01" height="3.38" fill="#faddca" />
<rect x="318.06" y="76.04" width="2.01" height="3.38" fill="#fbf4f0" />
<rect x="320.47" y="76.04" width="2.01" height="3.38" fill="#f6c9ab" />
<rect x="322.88" y="76.04" width="2.01" height="3.38" fill="#fbe5d6" />
<rect x="325.29" y="76.04" width="2.01" height="3.38" fill="#fbf4f0" />
<rect x="327.70" y="76.04" width="2.01" height="3.38" fill="#fae3d3" />
<rect x="330.11" y="76.04" width="2.01" height="3.38" fill="#fadecb" />
<rect x="332.52" y="76.04" width="2.01" height="3.38" fill="#fbf5f2" />
<rect x="334.93" y="76.04" width="2.01" height="3.38" fill="#f8d4bb" />
<rect x="337.34" y="76.04" width="2.01" height="3.38" fill="#fae1d1" />
<rect x="339.75" y="76.04" width="2.01" height="3.38" fill="#f9dbc6" />
<rect x="342.16" y="76.04" width="2.01" height="3.38" fill="#f8d5bd" />
<rect x="344.57" y="76.04" width="2.01" height="3.38" fill="#f0ac80" />
<rect x="346.98" y="76.04" width="2.01" height="3.38" fill="#fcede4" />
<rect x="349.39" y="76.04" width="2.01" height="3.38" fill="#fbf4ef" />
<rect x="351.80" y="76.04" width="2.01" height="3.38" fill="#f7f8fa" />
<rect x="354.21" y="76.04" width="2.01" height="3.38" fill="#e6eef8" />
<rect x="356.62" y="76.04" width="2.01" height="3.38" fill="#a7c4e5" />
<rect x="359.03" y="76.04" width="2.01" height="3.38" fill="#fbe4d4" />
<rect x="361.44" y="76.04" width="2.01" height="3.38" fill="#f7f8fa" />
<rect x="363.85" y="76.04" width="2.01" height="3.38" fill="#bfd6ed" />
<rect x="366.26" y="76.04" width="2.01" height="3.38" fill="#d9e6f4" />
<rect x="368.67" y="76.04" width="2.01" height="3.38" fill="#f1f5f9" />
<rect x="371.08" y="76.04" width="2.01" height="3.38" fill="#e1ebf6" />
<rect x="373.49" y="76.04" width="2.01" height="3.38" fill="#dfeaf6" />
<rect x="375.90" y="76.04" width="2.01" height="3.38" fill="#f1f5f9" />
<rect x="378.31" y="76.04" width="2.01" height="3.38" fill="#fbf4f0" />
<rect x="380.72" y="76.04" width="2.01" height="3.38" fill="#fbf4ef" />
<rect x="383.13" y="76.04" width="2.01" height="3.38" fill="#f0f4f9" />
<rect x="385.54" y="76.04" width="2.01" height="3.38" fill="#f5f7fa" />
<rect x="387.95" y="76.04" width="2.01" height="3.38" fill="#c1d7ed" />
<rect x="390.36" y="76.04" width="2.01" height="3.38" fill="#c3d8ee" />
<rect x="392.77" y="76.04" width="2.01" height="3.38" fill="#e9f0f8" />
<rect x="395.18" y="76.04" width="2.01" height="3.38" fill="#dae7f5" />
<rect x="399.09" y="76.04" width="2.01" height="3.38" fill="#cbdef0" />
<rect x="401.50" y="76.04" width="2.01" height="3.38" fill="#acc8e7" />
<rect x="403.91" y="76.04" width="2.01" height="3.38" fill="#b4ceea" />
<rect x="406.32" y="76.04" width="2.01" height="3.38" fill="#c5d9ee" />
<rect x="408.73" y="76.04" width="2.01" height="3.38" fill="#6f9cd3" />
<rect x="411.14" y="76.04" width="2.01" height="3.38" fill="#9bbce1" />
<rect x="413.55" y="76.04" width="2.01" height="3.38" fill="#d7e5f4" />
<rect x="415.96" y="76.04" width="2.01" height="3.38" fill="#c8dbef" />
<rect x="418.37" y="76.04" width="2.01" height="3.38" fill="#a1c1e3" />
<rect x="420.78" y="76.04" width="2.01" height="3.38" fill="#cedff1" />
<rect x="423.19" y="76.04" width="2.01" height="3.38" fill="#f4f7f9" />
<rect x="425.60" y="76.04" width="2.01" height="3.38" fill="#eaf1f8" />
<rect x="428.01" y="76.04" width="2.01" height="3.38" fill="#9cbce1" />
<rect x="430.42" y="76.04" width="2.01" height="3.38" fill="#b5cfea" />
<rect x="432.83" y="76.04" width="2.01" height="3.38" fill="#7ea6d8" />
<rect x="279.50" y="80.02" width="2.01" height="3.38" fill="#e38757" />
<rect x="281.91" y="80.02" width="2.01" height="3.38" fill="#ebf1f8" />
<rect x="284.32" y="80.02" width="2.01" height="3.38" fill="#fcefe6" />
<rect x="286.73" y="80.02" width="2.01" height="3.38" fill="#f8d2b8" />
<rect x="289.14" y="80.02" width="2.01" height="3.38" fill="#fae1d0" />
<rect x="291.55" y="80.02" width="2.01" height="3.38" fill="#fae2d1" />
<rect x="293.96" y="80.02" width="2.01" height="3.38" fill="#f6f7fa" />
<rect x="296.37" y="80.02" width="2.01" height="3.38" fill="#f4be9b" />
<rect x="298.78" y="80.02" width="2.01" height="3.38" fill="#fae1d1" />
<rect x="301.19" y="80.02" width="2.01" height="3.38" fill="#faf9f8" />
<rect x="303.60" y="80.02" width="2.01" height="3.38" fill="#f9d9c3" />
<rect x="306.01" y="80.02" width="2.01" height="3.38" fill="#f2b791" />
<rect x="308.42" y="80.02" width="2.01" height="3.38" fill="#faf8f7" />
<rect x="310.83" y="80.02" width="2.01" height="3.38" fill="#f7cdb1" />
<rect x="313.24" y="80.02" width="2.01" height="3.38" fill="#faf7f5" />
<rect x="315.65" y="80.02" width="2.01" height="3.38" fill="#f4bf9d" />
<rect x="318.06" y="80.02" width="2.01" height="3.38" fill="#f6c7a8" />
<rect x="320.47" y="80.02" width="2.01" height="3.38" fill="#fae0ce" />
<rect x="322.88" y="80.02" width="2.01" height="3.38" fill="#fbf1eb" />
<rect x="325.29" y="80.02" width="2.01" height="3.38" fill="#c4d9ee" />
<rect x="327.70" y="80.02" width="2.01" height="3.38" fill="#ea9663" />
<rect x="330.11" y="80.02" width="2.01" height="3.38" fill="#f4c1a0" />
<rect x="332.52" y="80.02" width="2.01" height="3.38" fill="#f8d1b7" />
<rect x="334.93" y="80.02" width="2.01" height="3.38" fill="#f9dac5" />
<rect x="337.34" y="80.02" width="2.01" height="3.38" fill="#fbe8db" />
<rect x="339.75" y="80.02" width="2.01" height="3.38" fill="#fcefe6" />
<rect x="342.16" y="80.02" width="2.01" height="3.38" fill="#fae1d1" />
<rect x="344.57" y="80.02" width="2.01" height="3.38" fill="#cbddf0" />
<rect x="346.98" y="80.02" width="2.01" height="3.38" fill="#fbf4ef" />
<rect x="349.39" y="80.02" width="2.01" height="3.38" fill="#fcede3" />
<rect x="351.80" y="80.02" width="2.01" height="3.38" fill="#cbddf0" />
<rect x="354.21" y="80.02" width="2.01" height="3.38" fill="#dae6f5" />
<rect x="356.62" y="80.02" width="2.01" height="3.38" fill="#e2ecf7" />
<rect x="359.03" y="80.02" width="2.01" height="3.38" fill="#c9dcf0" />
<rect x="361.44" y="80.02" width="2.01" height="3.38" fill="#c8dcf0" />
<rect x="363.85" y="80.02" width="2.01" height="3.38" fill="#c2d8ee" />
<rect x="366.26" y="80.02" width="2.01" height="3.38" fill="#cedff1" />
<rect x="368.67" y="80.02" width="2.01" height="3.38" fill="#e5eef8" />
<rect x="371.08" y="80.02" width="2.01" height="3.38" fill="#faf9f8" />
<rect x="373.49" y="80.02" width="2.01" height="3.38" fill="#e3ecf7" />
<rect x="375.90" y="80.02" width="2.01" height="3.38" fill="#dee9f6" />
<rect x="378.31" y="80.02" width="2.01" height="3.38" fill="#d0e1f2" />
<rect x="380.72" y="80.02" width="2.01" height="3.38" fill="#c7dbef" />
<rect x="383.13" y="80.02" width="2.01" height="3.38" fill="#dbe7f5" />
<rect x="385.54" y="80.02" width="2.01" height="3.38" fill="#fbf4f0" />
<rect x="387.95" y="80.02" width="2.01" height="3.38" fill="#e7eef8" />
<rect x="390.36" y="80.02" width="2.01" height="3.38" fill="#faf7f5" />
<rect x="392.77" y="80.02" width="2.01" height="3.38" fill="#f2f5f9" />
<rect x="395.18" y="80.02" width="2.01" height="3.38" fill="#e5eef8" />
<rect x="399.09" y="80.02" width="2.01" height="3.38" fill="#cbddf0" />
<rect x="401.50" y="80.02" width="2.01" height="3.38" fill="#a7c5e5" />
<rect x="403.91" y="80.02" width="2.01" height="3.38" fill="#d6e4f3" />
<rect x="406.32" y="80.02" width="2.01" height="3.38" fill="#3565b0" />
<rect x="408.73" y="80.02" width="2.01" height="3.38" fill="#a9c6e6" />
<rect x="411.14" y="80.02" width="2.01" height="3.38" fill="#c6daef" />
<rect x="413.55" y="80.02" width="2.01" height="3.38" fill="#dbe7f5" />
<rect x="415.96" y="80.02" width="2.01" height="3.38" fill="#c5d9ee" />
<rect x="418.37" y="80.02" width="2.01" height="3.38" fill="#6796d0" />
<rect x="420.78" y="80.02" width="2.01" height="3.38" fill="#b1cce8" />
<rect x="423.19" y="80.02" width="2.01" height="3.38" fill="#c5d9ef" />
<rect x="425.60" y="80.02" width="2.01" height="3.38" fill="#d1e1f2" />
<rect x="428.01" y="80.02" width="2.01" height="3.38" fill="#a6c4e5" />
<rect x="430.42" y="80.02" width="2.01" height="3.38" fill="#cbdef0" />
<rect x="432.83" y="80.02" width="2.01" height="3.38" fill="#d6e4f3" />
<rect x="279.50" y="84.00" width="2.01" height="3.38" fill="#efa678" />
<rect x="281.91" y="84.00" width="2.01" height="3.38" fill="#dbe7f5" />
<rect x="284.32" y="84.00" width="2.01" height="3.38" fill="#fcede3" />
<rect x="286.73" y="84.00" width="2.01" height="3.38" fill="#fcefe6" />
<rect x="289.14" y="84.00" width="2.01" height="3.38" fill="#fcebdf" />
<rect x="291.55" y="84.00" width="2.01" height="3.38" fill="#fae0ce" />
<rect x="293.96" y="84.00" width="2.01" height="3.38" fill="#f3bc98" />
<rect x="296.37" y="84.00" width="2.01" height="3.38" fill="#fadecc" />
<rect x="298.78" y="84.00" width="2.01" height="3.38" fill="#fbf6f2" />
<rect x="301.19" y="84.00" width="2.01" height="3.38" fill="#bdd5ec" />
<rect x="303.60" y="84.00" width="2.01" height="3.38" fill="#f7cbae" />
<rect x="306.01" y="84.00" width="2.01" height="3.38" fill="#fbf2ed" />
<rect x="308.42" y="84.00" width="2.01" height="3.38" fill="#fae2d2" />
<rect x="310.83" y="84.00" width="2.01" height="3.38" fill="#f1b289" />
<rect x="313.24" y="84.00" width="2.01" height="3.38" fill="#f0ad82" />
<rect x="315.65" y="84.00" width="2.01" height="3.38" fill="#f0ad82" />
<rect x="318.06" y="84.00" width="2.01" height="3.38" fill="#fbf6f2" />
<rect x="320.47" y="84.00" width="2.01" height="3.38" fill="#efa778" />
<rect x="322.88" y="84.00" width="2.01" height="3.38" fill="#f9dcc7" />
<rect x="325.29" y="84.00" width="2.01" height="3.38" fill="#f3ba95" />
<rect x="327.70" y="84.00" width="2.01" height="3.38" fill="#f9d9c4" />
<rect x="330.11" y="84.00" width="2.01" height="3.38" fill="#f2b790" />
<rect x="332.52" y="84.00" width="2.01" height="3.38" fill="#f9d8c2" />
<rect x="334.93" y="84.00" width="2.01" height="3.38" fill="#f9d7c0" />
<rect x="337.34" y="84.00" width="2.01" height="3.38" fill="#faddc9" />
<rect x="339.75" y="84.00" width="2.01" height="3.38" fill="#faf9f9" />
<rect x="342.16" y="84.00" width="2.01" height="3.38" fill="#fcebe1" />
<rect x="344.57" y="84.00" width="2.01" height="3.38" fill="#f9d9c3" />
<rect x="346.98" y="84.00" width="2.01" height="3.38" fill="#f3f6f9" />
<rect x="349.39" y="84.00" width="2.01" height="3.38" fill="#fbe9dd" />
<rect x="351.80" y="84.00" width="2.01" height="3.38" fill="#cfe0f1" />
<rect x="354.21" y="84.00" width="2.01" height="3.38" fill="#93b6de" />
<rect x="356.62" y="84.00" width="2.01" height="3.38" fill="#c1d7ed" />
<rect x="359.03" y="84.00" width="2.01" height="3.38" fill="#fbe7d9" />
<rect x="361.44" y="84.00" width="2.01" height="3.38" fill="#f0f4f9" />
<rect x="363.85" y="84.00" width="2.01" height="3.38" fill="#e2ebf7" />
<rect x="366.26" y="84.00" width="2.01" height="3.38" fill="#fbf3ee" />
<rect x="368.67" y="84.00" width="2.01" height="3.38" fill="#b1cce8" />
<rect x="371.08" y="84.00" width="2.01" height="3.38" fill="#edf2f9" />
<rect x="373.49" y="84.00" width="2.01" height="3.38" fill="#dae7f5" />
<rect x="375.90" y="84.00" width="2.01" height="3.38" fill="#faf8f6" />
<rect x="378.31" y="84.00" width="2.01" height="3.38" fill="#c8dbef" />
<rect x="380.72" y="84.00" width="2.01" height="3.38" fill="#eef3f9" />
<rect x="383.13" y="84.00" width="2.01" height="3.38" fill="#eaf0f8" />
<rect x="385.54" y="84.00" width="2.01" height="3.38" fill="#fceee4" />
<rect x="387.95" y="84.00" width="2.01" height="3.38" fill="#dde9f5" />
<rect x="390.36" y="84.00" width="2.01" height="3.38" fill="#e9f0f8" />
<rect x="392.77" y="84.00" width="2.01" height="3.38" fill="#f7f8fa" />
<rect x="395.18" y="84.00" width="2.01" height="3.38" fill="#f7f8fa" />
<rect x="399.09" y="84.00" width="2.01" height="3.38" fill="#5586c8" />
<rect x="401.50" y="84.00" width="2.01" height="3.38" fill="#ccdef1" />
<rect x="403.91" y="84.00" width="2.01" height="3.38" fill="#a7c5e5" />
<rect x="406.32" y="84.00" width="2.01" height="3.38" fill="#4f80c3" />
<rect x="408.73" y="84.00" width="2.01" height="3.38" fill="#fafafa" />
<rect x="411.14" y="84.00" width="2.01" height="3.38" fill="#ccdef1" />
<rect x="413.55" y="84.00" width="2.01" height="3.38" fill="#b6cfea" />
<rect x="415.96" y="84.00" width="2.01" height="3.38" fill="#e5edf8" />
<rect x="418.37" y="84.00" width="2.01" height="3.38" fill="#a9c6e6" />
<rect x="420.78" y="84.00" width="2.01" height="3.38" fill="#d0e0f2" />
<rect x="423.19" y="84.00" width="2.01" height="3.38" fill="#8fb3dd" />
<rect x="425.60" y="84.00" width="2.01" height="3.38" fill="#eef3f9" />
<rect x="428.01" y="84.00" width="2.01" height="3.38" fill="#a0bfe3" />
<rect x="430.42" y="84.00" width="2.01" height="3.38" fill="#d1e1f2" />
<rect x="432.83" y="84.00" width="2.01" height="3.38" fill="#b7d0ea" />
<rect x="279.50" y="87.98" width="2.01" height="3.38" fill="#ba3f32" />
<rect x="281.91" y="87.98" width="2.01" height="3.38" fill="#de7c4f" />
<rect x="284.32" y="87.98" width="2.01" height="3.38" fill="#f9dac5" />
<rect x="286.73" y="87.98" width="2.01" height="3.38" fill="#fbf3ee" />
<rect x="289.14" y="87.98" width="2.01" height="3.38" fill="#e68d5d" />
<rect x="291.55" y="87.98" width="2.01" height="3.38" fill="#fcefe7" />
<rect x="293.96" y="87.98" width="2.01" height="3.38" fill="#f9dbc6" />
<rect x="296.37" y="87.98" width="2.01" height="3.38" fill="#f5c2a1" />
<rect x="298.78" y="87.98" width="2.01" height="3.38" fill="#f4c1a0" />
<rect x="301.19" y="87.98" width="2.01" height="3.38" fill="#f3bc98" />
<rect x="303.60" y="87.98" width="2.01" height="3.38" fill="#f2b791" />
<rect x="306.01" y="87.98" width="2.01" height="3.38" fill="#f7cdb0" />
<rect x="308.42" y="87.98" width="2.01" height="3.38" fill="#f5c2a1" />
<rect x="310.83" y="87.98" width="2.01" height="3.38" fill="#f3bc97" />
<rect x="313.24" y="87.98" width="2.01" height="3.38" fill="#fbf7f4" />
<rect x="315.65" y="87.98" width="2.01" height="3.38" fill="#f9d8c2" />
<rect x="318.06" y="87.98" width="2.01" height="3.38" fill="#f9d7c0" />
<rect x="320.47" y="87.98" width="2.01" height="3.38" fill="#f9dbc7" />
<rect x="322.88" y="87.98" width="2.01" height="3.38" fill="#f5c6a6" />
<rect x="325.29" y="87.98" width="2.01" height="3.38" fill="#fbf1ea" />
<rect x="327.70" y="87.98" width="2.01" height="3.38" fill="#faf9f8" />
<rect x="330.11" y="87.98" width="2.01" height="3.38" fill="#fbe8db" />
<rect x="332.52" y="87.98" width="2.01" height="3.38" fill="#f6c9ab" />
<rect x="334.93" y="87.98" width="2.01" height="3.38" fill="#fceee5" />
<rect x="337.34" y="87.98" width="2.01" height="3.38" fill="#dbe7f5" />
<rect x="339.75" y="87.98" width="2.01" height="3.38" fill="#f8d0b5" />
<rect x="342.16" y="87.98" width="2.01" height="3.38" fill="#f7cfb4" />
<rect x="344.57" y="87.98" width="2.01" height="3.38" fill="#faddca" />
<rect x="346.98" y="87.98" width="2.01" height="3.38" fill="#fcefe6" />
<rect x="349.39" y="87.98" width="2.01" height="3.38" fill="#fcefe7" />
<rect x="351.80" y="87.98" width="2.01" height="3.38" fill="#c9dcf0" />
<rect x="354.21" y="87.98" width="2.01" height="3.38" fill="#cfe0f1" />
<rect x="356.62" y="87.98" width="2.01" height="3.38" fill="#fbf6f3" />
<rect x="359.03" y="87.98" width="2.01" height="3.38" fill="#dfeaf6" />
<rect x="361.44" y="87.98" width="2.01" height="3.38" fill="#fbf1ea" />
<rect x="363.85" y="87.98" width="2.01" height="3.38" fill="#e5eef8" />
<rect x="366.26" y="87.98" width="2.01" height="3.38" fill="#a8c5e5" />
<rect x="368.67" y="87.98" width="2.01" height="3.38" fill="#eff4f9" />
<rect x="371.08" y="87.98" width="2.01" height="3.38" fill="#fcebdf" />
<rect x="373.49" y="87.98" width="2.01" height="3.38" fill="#f3f6f9" />
<rect x="375.90" y="87.98" width="2.01" height="3.38" fill="#d8e5f4" />
<rect x="378.31" y="87.98" width="2.01" height="3.38" fill="#d8e5f4" />
<rect x="380.72" y="87.98" width="2.01" height="3.38" fill="#faf9f8" />
<rect x="383.13" y="87.98" width="2.01" height="3.38" fill="#d5e4f3" />
<rect x="385.54" y="87.98" width="2.01" height="3.38" fill="#c8dcf0" />
<rect x="387.95" y="87.98" width="2.01" height="3.38" fill="#eff4f9" />
<rect x="390.36" y="87.98" width="2.01" height="3.38" fill="#ecf2f9" />
<rect x="392.77" y="87.98" width="2.01" height="3.38" fill="#d7e4f4" />
<rect x="395.18" y="87.98" width="2.01" height="3.38" fill="#cfe0f1" />
<rect x="399.09" y="87.98" width="2.01" height="3.38" fill="#d3e2f3" />
<rect x="401.50" y="87.98" width="2.01" height="3.38" fill="#82a9d9" />
<rect x="403.91" y="87.98" width="2.01" height="3.38" fill="#b4cee9" />
<rect x="406.32" y="87.98" width="2.01" height="3.38" fill="#bad2eb" />
<rect x="408.73" y="87.98" width="2.01" height="3.38" fill="#fafaf9" />
<rect x="411.14" y="87.98" width="2.01" height="3.38" fill="#a5c3e4" />
<rect x="413.55" y="87.98" width="2.01" height="3.38" fill="#dae7f5" />
<rect x="415.96" y="87.98" width="2.01" height="3.38" fill="#c4d9ee" />
<rect x="418.37" y="87.98" width="2.01" height="3.38" fill="#e8eff8" />
<rect x="420.78" y="87.98" width="2.01" height="3.38" fill="#f0f4f9" />
<rect x="423.19" y="87.98" width="2.01" height="3.38" fill="#c2d8ee" />
<rect x="425.60" y="87.98" width="2.01" height="3.38" fill="#cedff1" />
<rect x="428.01" y="87.98" width="2.01" height="3.38" fill="#a9c6e6" />
<rect x="430.42" y="87.98" width="2.01" height="3.38" fill="#bfd6ed" />
<rect x="432.83" y="87.98" width="2.01" height="3.38" fill="#dde8f5" />
<rect x="279.50" y="91.96" width="2.01" height="3.38" fill="#ad2c2d" />
<rect x="281.91" y="91.96" width="2.01" height="3.38" fill="#faf8f7" />
<rect x="284.32" y="91.96" width="2.01" height="3.38" fill="#f9d7c0" />
<rect x="286.73" y="91.96" width="2.01" height="3.38" fill="#fae0cf" />
<rect x="289.14" y="91.96" width="2.01" height="3.38" fill="#fae2d2" />
<rect x="291.55" y="91.96" width="2.01" height="3.38" fill="#e1ebf7" />
<rect x="293.96" y="91.96" width="2.01" height="3.38" fill="#fae1d0" />
<rect x="296.37" y="91.96" width="2.01" height="3.38" fill="#f9dbc7" />
<rect x="298.78" y="91.96" width="2.01" height="3.38" fill="#f9dac4" />
<rect x="301.19" y="91.96" width="2.01" height="3.38" fill="#f9d6be" />
<rect x="303.60" y="91.96" width="2.01" height="3.38" fill="#f4be9b" />
<rect x="306.01" y="91.96" width="2.01" height="3.38" fill="#e99461" />
<rect x="308.42" y="91.96" width="2.01" height="3.38" fill="#fbf5f0" />
<rect x="310.83" y="91.96" width="2.01" height="3.38" fill="#fbf0e9" />
<rect x="313.24" y="91.96" width="2.01" height="3.38" fill="#f6c9aa" />
<rect x="315.65" y="91.96" width="2.01" height="3.38" fill="#dee9f6" />
<rect x="318.06" y="91.96" width="2.01" height="3.38" fill="#fbf3ee" />
<rect x="320.47" y="91.96" width="2.01" height="3.38" fill="#fcf0e8" />
<rect x="322.88" y="91.96" width="2.01" height="3.38" fill="#fbf3ee" />
<rect x="325.29" y="91.96" width="2.01" height="3.38" fill="#fbf4ef" />
<rect x="327.70" y="91.96" width="2.01" height="3.38" fill="#fbf7f4" />
<rect x="330.11" y="91.96" width="2.01" height="3.38" fill="#fcefe7" />
<rect x="332.52" y="91.96" width="2.01" height="3.38" fill="#f7cfb3" />
<rect x="334.93" y="91.96" width="2.01" height="3.38" fill="#efaa7d" />
<rect x="337.34" y="91.96" width="2.01" height="3.38" fill="#f1f5f9" />
<rect x="339.75" y="91.96" width="2.01" height="3.38" fill="#e28556" />
<rect x="342.16" y="91.96" width="2.01" height="3.38" fill="#fae1cf" />
<rect x="344.57" y="91.96" width="2.01" height="3.38" fill="#fbe4d4" />
<rect x="346.98" y="91.96" width="2.01" height="3.38" fill="#f5c3a3" />
<rect x="349.39" y="91.96" width="2.01" height="3.38" fill="#fbe3d3" />
<rect x="351.80" y="91.96" width="2.01" height="3.38" fill="#fcf0e8" />
<rect x="354.21" y="91.96" width="2.01" height="3.38" fill="#d5e3f3" />
<rect x="356.62" y="91.96" width="2.01" height="3.38" fill="#c7dbef" />
<rect x="359.03" y="91.96" width="2.01" height="3.38" fill="#fceee5" />
<rect x="361.44" y="91.96" width="2.01" height="3.38" fill="#f2f5f9" />
<rect x="363.85" y="91.96" width="2.01" height="3.38" fill="#c7dbef" />
<rect x="366.26" y="91.96" width="2.01" height="3.38" fill="#e8eff8" />
<rect x="368.67" y="91.96" width="2.01" height="3.38" fill="#fbf6f2" />
<rect x="371.08" y="91.96" width="2.01" height="3.38" fill="#d4e3f3" />
<rect x="373.49" y="91.96" width="2.01" height="3.38" fill="#f6f7fa" />
<rect x="375.90" y="91.96" width="2.01" height="3.38" fill="#c6daef" />
<rect x="378.31" y="91.96" width="2.01" height="3.38" fill="#faf9f9" />
<rect x="380.72" y="91.96" width="2.01" height="3.38" fill="#f3f6f9" />
<rect x="383.13" y="91.96" width="2.01" height="3.38" fill="#e5eef8" />
<rect x="385.54" y="91.96" width="2.01" height="3.38" fill="#e2ecf7" />
<rect x="387.95" y="91.96" width="2.01" height="3.38" fill="#ea9663" />
<rect x="390.36" y="91.96" width="2.01" height="3.38" fill="#fcefe6" />
<rect x="392.77" y="91.96" width="2.01" height="3.38" fill="#fcf0e8" />
<rect x="395.18" y="91.96" width="2.01" height="3.38" fill="#aec9e7" />
<rect x="399.09" y="91.96" width="2.01" height="3.38" fill="#a3c1e4" />
<rect x="401.50" y="91.96" width="2.01" height="3.38" fill="#c4d9ee" />
<rect x="403.91" y="91.96" width="2.01" height="3.38" fill="#cadcf0" />
<rect x="406.32" y="91.96" width="2.01" height="3.38" fill="#a3c1e4" />
<rect x="408.73" y="91.96" width="2.01" height="3.38" fill="#e0eaf6" />
<rect x="411.14" y="91.96" width="2.01" height="3.38" fill="#fceee5" />
<rect x="413.55" y="91.96" width="2.01" height="3.38" fill="#a0c0e3" />
<rect x="415.96" y="91.96" width="2.01" height="3.38" fill="#a3c1e4" />
<rect x="418.37" y="91.96" width="2.01" height="3.38" fill="#ccdef1" />
<rect x="420.78" y="91.96" width="2.01" height="3.38" fill="#e7eff8" />
<rect x="423.19" y="91.96" width="2.01" height="3.38" fill="#dfeaf6" />
<rect x="425.60" y="91.96" width="2.01" height="3.38" fill="#ccdef0" />
<rect x="428.01" y="91.96" width="2.01" height="3.38" fill="#d7e5f4" />
<rect x="430.42" y="91.96" width="2.01" height="3.38" fill="#cbddf0" />
<rect x="432.83" y="91.96" width="2.01" height="3.38" fill="#c8dcf0" />
<rect x="279.50" y="95.94" width="2.01" height="3.38" fill="#ec9c69" />
<rect x="281.91" y="95.94" width="2.01" height="3.38" fill="#d3673f" />
<rect x="284.32" y="95.94" width="2.01" height="3.38" fill="#f7ccb0" />
<rect x="286.73" y="95.94" width="2.01" height="3.38" fill="#f9dbc7" />
<rect x="289.14" y="95.94" width="2.01" height="3.38" fill="#f7ceb3" />
<rect x="291.55" y="95.94" width="2.01" height="3.38" fill="#fbe3d3" />
<rect x="293.96" y="95.94" width="2.01" height="3.38" fill="#eea576" />
<rect x="296.37" y="95.94" width="2.01" height="3.38" fill="#f8d4bb" />
<rect x="298.78" y="95.94" width="2.01" height="3.38" fill="#f9d7bf" />
<rect x="301.19" y="95.94" width="2.01" height="3.38" fill="#eea474" />
<rect x="303.60" y="95.94" width="2.01" height="3.38" fill="#f9d5bd" />
<rect x="306.01" y="95.94" width="2.01" height="3.38" fill="#f8d0b6" />
<rect x="308.42" y="95.94" width="2.01" height="3.38" fill="#f8d2b9" />
<rect x="310.83" y="95.94" width="2.01" height="3.38" fill="#f4f6f9" />
<rect x="313.24" y="95.94" width="2.01" height="3.38" fill="#f3b993" />
<rect x="315.65" y="95.94" width="2.01" height="3.38" fill="#faf7f5" />
<rect x="318.06" y="95.94" width="2.01" height="3.38" fill="#f1b289" />
<rect x="320.47" y="95.94" width="2.01" height="3.38" fill="#f5c3a1" />
<rect x="322.88" y="95.94" width="2.01" height="3.38" fill="#fae0cf" />
<rect x="325.29" y="95.94" width="2.01" height="3.38" fill="#fbf3ee" />
<rect x="327.70" y="95.94" width="2.01" height="3.38" fill="#f5c3a2" />
<rect x="330.11" y="95.94" width="2.01" height="3.38" fill="#fae1d0" />
<rect x="332.52" y="95.94" width="2.01" height="3.38" fill="#efa678" />
<rect x="334.93" y="95.94" width="2.01" height="3.38" fill="#fae2d2" />
<rect x="337.34" y="95.94" width="2.01" height="3.38" fill="#f8d4bb" />
<rect x="339.75" y="95.94" width="2.01" height="3.38" fill="#fcece1" />
<rect x="342.16" y="95.94" width="2.01" height="3.38" fill="#f2f5f9" />
<rect x="344.57" y="95.94" width="2.01" height="3.38" fill="#e4edf8" />
<rect x="346.98" y="95.94" width="2.01" height="3.38" fill="#f9dbc6" />
<rect x="349.39" y="95.94" width="2.01" height="3.38" fill="#fae3d3" />
<rect x="351.80" y="95.94" width="2.01" height="3.38" fill="#e7eff8" />
<rect x="354.21" y="95.94" width="2.01" height="3.38" fill="#d9e6f4" />
<rect x="356.62" y="95.94" width="2.01" height="3.38" fill="#faf7f5" />
<rect x="359.03" y="95.94" width="2.01" height="3.38" fill="#89afdb" />
<rect x="361.44" y="95.94" width="2.01" height="3.38" fill="#fbf5f1" />
<rect x="363.85" y="95.94" width="2.01" height="3.38" fill="#f4f6f9" />
<rect x="366.26" y="95.94" width="2.01" height="3.38" fill="#e58c5c" />
<rect x="368.67" y="95.94" width="2.01" height="3.38" fill="#dce8f5" />
<rect x="371.08" y="95.94" width="2.01" height="3.38" fill="#e2ecf7" />
<rect x="373.49" y="95.94" width="2.01" height="3.38" fill="#dbe7f5" />
<rect x="375.90" y="95.94" width="2.01" height="3.38" fill="#f2f5f9" />
<rect x="378.31" y="95.94" width="2.01" height="3.38" fill="#d0e1f2" />
<rect x="380.72" y="95.94" width="2.01" height="3.38" fill="#d2e1f2" />
<rect x="383.13" y="95.94" width="2.01" height="3.38" fill="#cbddf0" />
<rect x="385.54" y="95.94" width="2.01" height="3.38" fill="#d2e1f2" />
<rect x="387.95" y="95.94" width="2.01" height="3.38" fill="#f8f9fa" />
<rect x="390.36" y="95.94" width="2.01" height="3.38" fill="#fafafa" />
<rect x="392.77" y="95.94" width="2.01" height="3.38" fill="#9ebee2" />
<rect x="395.18" y="95.94" width="2.01" height="3.38" fill="#f2f5f9" />
<rect x="399.09" y="95.94" width="2.01" height="3.38" fill="#98b9e0" />
<rect x="401.50" y="95.94" width="2.01" height="3.38" fill="#c5daef" />
<rect x="403.91" y="95.94" width="2.01" height="3.38" fill="#d1e1f2" />
<rect x="406.32" y="95.94" width="2.01" height="3.38" fill="#f3f6f9" />
<rect x="408.73" y="95.94" width="2.01" height="3.38" fill="#c1d7ed" />
<rect x="411.14" y="95.94" width="2.01" height="3.38" fill="#d3e2f3" />
<rect x="413.55" y="95.94" width="2.01" height="3.38" fill="#adc9e7" />
<rect x="415.96" y="95.94" width="2.01" height="3.38" fill="#709cd3" />
<rect x="418.37" y="95.94" width="2.01" height="3.38" fill="#85abda" />
<rect x="420.78" y="95.94" width="2.01" height="3.38" fill="#709cd3" />
<rect x="423.19" y="95.94" width="2.01" height="3.38" fill="#2e5eab" />
<rect x="425.60" y="95.94" width="2.01" height="3.38" fill="#bed5ec" />
<rect x="428.01" y="95.94" width="2.01" height="3.38" fill="#e3ecf7" />
<rect x="430.42" y="95.94" width="2.01" height="3.38" fill="#5587c8" />
<rect x="432.83" y="95.94" width="2.01" height="3.38" fill="#b4cee9" />
<rect x="279.50" y="99.92" width="2.01" height="3.38" fill="#a41e29" />
<rect x="281.91" y="99.92" width="2.01" height="3.38" fill="#b3352f" />
<rect x="284.32" y="99.92" width="2.01" height="3.38" fill="#efaa7d" />
<rect x="286.73" y="99.92" width="2.01" height="3.38" fill="#fbf4ef" />
<rect x="289.14" y="99.92" width="2.01" height="3.38" fill="#e18354" />
<rect x="291.55" y="99.92" width="2.01" height="3.38" fill="#f9d7c0" />
<rect x="293.96" y="99.92" width="2.01" height="3.38" fill="#f9dbc6" />
<rect x="296.37" y="99.92" width="2.01" height="3.38" fill="#f2b791" />
<rect x="298.78" y="99.92" width="2.01" height="3.38" fill="#f4f6f9" />
<rect x="301.19" y="99.92" width="2.01" height="3.38" fill="#fbf1ea" />
<rect x="303.60" y="99.92" width="2.01" height="3.38" fill="#f8d3b9" />
<rect x="306.01" y="99.92" width="2.01" height="3.38" fill="#fadecb" />
<rect x="308.42" y="99.92" width="2.01" height="3.38" fill="#f3bc97" />
<rect x="310.83" y="99.92" width="2.01" height="3.38" fill="#f3f6f9" />
<rect x="313.24" y="99.92" width="2.01" height="3.38" fill="#f4bd99" />
<rect x="315.65" y="99.92" width="2.01" height="3.38" fill="#fbf1ea" />
<rect x="318.06" y="99.92" width="2.01" height="3.38" fill="#fae1cf" />
<rect x="320.47" y="99.92" width="2.01" height="3.38" fill="#ec9a66" />
<rect x="322.88" y="99.92" width="2.01" height="3.38" fill="#f6c8aa" />
<rect x="325.29" y="99.92" width="2.01" height="3.38" fill="#fafafa" />
<rect x="327.70" y="99.92" width="2.01" height="3.38" fill="#f4c09d" />
<rect x="330.11" y="99.92" width="2.01" height="3.38" fill="#fbe6d7" />
<rect x="332.52" y="99.92" width="2.01" height="3.38" fill="#f2b68f" />
<rect x="334.93" y="99.92" width="2.01" height="3.38" fill="#f5c5a4" />
<rect x="337.34" y="99.92" width="2.01" height="3.38" fill="#f8d3ba" />
<rect x="339.75" y="99.92" width="2.01" height="3.38" fill="#fbf7f4" />
<rect x="342.16" y="99.92" width="2.01" height="3.38" fill="#fcece1" />
<rect x="344.57" y="99.92" width="2.01" height="3.38" fill="#ccdef0" />
<rect x="346.98" y="99.92" width="2.01" height="3.38" fill="#fbe9dd" />
<rect x="349.39" y="99.92" width="2.01" height="3.38" fill="#f7ccb0" />
<rect x="351.80" y="99.92" width="2.01" height="3.38" fill="#dce8f5" />
<rect x="354.21" y="99.92" width="2.01" height="3.38" fill="#cedff1" />
<rect x="356.62" y="99.92" width="2.01" height="3.38" fill="#f0f4f9" />
<rect x="359.03" y="99.92" width="2.01" height="3.38" fill="#faf7f5" />
<rect x="361.44" y="99.92" width="2.01" height="3.38" fill="#eaf0f8" />
<rect x="363.85" y="99.92" width="2.01" height="3.38" fill="#b7d1ea" />
<rect x="366.26" y="99.92" width="2.01" height="3.38" fill="#dee9f6" />
<rect x="368.67" y="99.92" width="2.01" height="3.38" fill="#edf2f9" />
<rect x="371.08" y="99.92" width="2.01" height="3.38" fill="#faf9f9" />
<rect x="373.49" y="99.92" width="2.01" height="3.38" fill="#bdd5ec" />
<rect x="375.90" y="99.92" width="2.01" height="3.38" fill="#eef3f9" />
<rect x="378.31" y="99.92" width="2.01" height="3.38" fill="#fcefe7" />
<rect x="380.72" y="99.92" width="2.01" height="3.38" fill="#fbe9dc" />
<rect x="383.13" y="99.92" width="2.01" height="3.38" fill="#c7dbef" />
<rect x="385.54" y="99.92" width="2.01" height="3.38" fill="#cbddf0" />
<rect x="387.95" y="99.92" width="2.01" height="3.38" fill="#e5edf8" />
<rect x="390.36" y="99.92" width="2.01" height="3.38" fill="#dae7f5" />
<rect x="392.77" y="99.92" width="2.01" height="3.38" fill="#e0eaf6" />
<rect x="395.18" y="99.92" width="2.01" height="3.38" fill="#f0f4f9" />
<rect x="399.09" y="99.92" width="2.01" height="3.38" fill="#d8e5f4" />
<rect x="401.50" y="99.92" width="2.01" height="3.38" fill="#c0d7ed" />
<rect x="403.91" y="99.92" width="2.01" height="3.38" fill="#a8c5e5" />
<rect x="406.32" y="99.92" width="2.01" height="3.38" fill="#a6c4e5" />
<rect x="408.73" y="99.92" width="2.01" height="3.38" fill="#3a6bb4" />
<rect x="411.14" y="99.92" width="2.01" height="3.38" fill="#b7d0ea" />
<rect x="413.55" y="99.92" width="2.01" height="3.38" fill="#c6daef" />
<rect x="415.96" y="99.92" width="2.01" height="3.38" fill="#fae0cf" />
<rect x="418.37" y="99.92" width="2.01" height="3.38" fill="#e2ebf7" />
<rect x="420.78" y="99.92" width="2.01" height="3.38" fill="#bfd6ed" />
<rect x="423.19" y="99.92" width="2.01" height="3.38" fill="#5183c5" />
<rect x="425.60" y="99.92" width="2.01" height="3.38" fill="#9bbce1" />
<rect x="428.01" y="99.92" width="2.01" height="3.38" fill="#96b8e0" />
<rect x="430.42" y="99.92" width="2.01" height="3.38" fill="#dce8f5" />
<rect x="432.83" y="99.92" width="2.01" height="3.38" fill="#e6eef8" />
<rect x="279.50" y="103.90" width="2.01" height="3.38" fill="#a8242b" />
<rect x="281.91" y="103.90" width="2.01" height="3.38" fill="#e68e5d" />
<rect x="284.32" y="103.90" width="2.01" height="3.38" fill="#f8d2b8" />
<rect x="286.73" y="103.90" width="2.01" height="3.38" fill="#f9d8c1" />
<rect x="289.14" y="103.90" width="2.01" height="3.38" fill="#eb9764" />
<rect x="291.55" y="103.90" width="2.01" height="3.38" fill="#f9dcc8" />
<rect x="293.96" y="103.90" width="2.01" height="3.38" fill="#faf8f6" />
<rect x="296.37" y="103.90" width="2.01" height="3.38" fill="#f9d6be" />
<rect x="298.78" y="103.90" width="2.01" height="3.38" fill="#fadcc8" />
<rect x="301.19" y="103.90" width="2.01" height="3.38" fill="#eda06f" />
<rect x="303.60" y="103.90" width="2.01" height="3.38" fill="#dde9f5" />
<rect x="306.01" y="103.90" width="2.01" height="3.38" fill="#f2b68f" />
<rect x="308.42" y="103.90" width="2.01" height="3.38" fill="#f8d3ba" />
<rect x="310.83" y="103.90" width="2.01" height="3.38" fill="#e9f0f8" />
<rect x="313.24" y="103.90" width="2.01" height="3.38" fill="#f4c1a0" />
<rect x="315.65" y="103.90" width="2.01" height="3.38" fill="#faddca" />
<rect x="318.06" y="103.90" width="2.01" height="3.38" fill="#f5c5a4" />
<rect x="320.47" y="103.90" width="2.01" height="3.38" fill="#f8d4bc" />
<rect x="322.88" y="103.90" width="2.01" height="3.38" fill="#f8d4bb" />
<rect x="325.29" y="103.90" width="2.01" height="3.38" fill="#f7ceb2" />
<rect x="327.70" y="103.90" width="2.01" height="3.38" fill="#f1b289" />
<rect x="330.11" y="103.90" width="2.01" height="3.38" fill="#f7cdb1" />
<rect x="332.52" y="103.90" width="2.01" height="3.38" fill="#f4c19f" />
<rect x="334.93" y="103.90" width="2.01" height="3.38" fill="#fceee5" />
<rect x="337.34" y="103.90" width="2.01" height="3.38" fill="#e99562" />
<rect x="339.75" y="103.90" width="2.01" height="3.38" fill="#faf8f6" />
<rect x="342.16" y="103.90" width="2.01" height="3.38" fill="#f8d0b5" />
<rect x="344.57" y="103.90" width="2.01" height="3.38" fill="#fae0cf" />
<rect x="346.98" y="103.90" width="2.01" height="3.38" fill="#fbf3ed" />
<rect x="349.39" y="103.90" width="2.01" height="3.38" fill="#fbe5d7" />
<rect x="351.80" y="103.90" width="2.01" height="3.38" fill="#faf7f5" />
<rect x="354.21" y="103.90" width="2.01" height="3.38" fill="#e4edf7" />
<rect x="356.62" y="103.90" width="2.01" height="3.38" fill="#c5daef" />
<rect x="359.03" y="103.90" width="2.01" height="3.38" fill="#dae6f5" />
<rect x="361.44" y="103.90" width="2.01" height="3.38" fill="#fcede3" />
<rect x="363.85" y="103.90" width="2.01" height="3.38" fill="#dee9f6" />
<rect x="366.26" y="103.90" width="2.01" height="3.38" fill="#d2e2f2" />
<rect x="368.67" y="103.90" width="2.01" height="3.38" fill="#faf8f7" />
<rect x="371.08" y="103.90" width="2.01" height="3.38" fill="#fceee4" />
<rect x="373.49" y="103.90" width="2.01" height="3.38" fill="#fadecb" />
<rect x="375.90" y="103.90" width="2.01" height="3.38" fill="#faf8f6" />
<rect x="378.31" y="103.90" width="2.01" height="3.38" fill="#e8eff8" />
<rect x="380.72" y="103.90" width="2.01" height="3.38" fill="#faf7f5" />
<rect x="383.13" y="103.90" width="2.01" height="3.38" fill="#eff3f9" />
<rect x="385.54" y="103.90" width="2.01" height="3.38" fill="#c6daef" />
<rect x="387.95" y="103.90" width="2.01" height="3.38" fill="#fbe7da" />
<rect x="390.36" y="103.90" width="2.01" height="3.38" fill="#fceadf" />
<rect x="392.77" y="103.90" width="2.01" height="3.38" fill="#ccdef1" />
<rect x="395.18" y="103.90" width="2.01" height="3.38" fill="#fbe8db" />
<rect x="399.09" y="103.90" width="2.01" height="3.38" fill="#d6e4f3" />
<rect x="401.50" y="103.90" width="2.01" height="3.38" fill="#bed5ed" />
<rect x="403.91" y="103.90" width="2.01" height="3.38" fill="#92b5de" />
<rect x="406.32" y="103.90" width="2.01" height="3.38" fill="#d1e1f2" />
<rect x="408.73" y="103.90" width="2.01" height="3.38" fill="#c7dbef" />
<rect x="411.14" y="103.90" width="2.01" height="3.38" fill="#e4edf7" />
<rect x="413.55" y="103.90" width="2.01" height="3.38" fill="#ecf2f9" />
<rect x="415.96" y="103.90" width="2.01" height="3.38" fill="#eff3f9" />
<rect x="418.37" y="103.90" width="2.01" height="3.38" fill="#b7d0ea" />
<rect x="420.78" y="103.90" width="2.01" height="3.38" fill="#bdd5ec" />
<rect x="423.19" y="103.90" width="2.01" height="3.38" fill="#ebf1f8" />
<rect x="425.60" y="103.90" width="2.01" height="3.38" fill="#c9dcf0" />
<rect x="428.01" y="103.90" width="2.01" height="3.38" fill="#bbd3ec" />
<rect x="430.42" y="103.90" width="2.01" height="3.38" fill="#bfd6ed" />
<rect x="432.83" y="103.90" width="2.01" height="3.38" fill="#dbe7f5" />
<rect x="279.50" y="107.88" width="2.01" height="3.38" fill="#dc784c" />
<rect x="281.91" y="107.88" width="2.01" height="3.38" fill="#f9dac5" />
<rect x="284.32" y="107.88" width="2.01" height="3.38" fill="#f7ceb3" />
<rect x="286.73" y="107.88" width="2.01" height="3.38" fill="#f5c5a5" />
<rect x="289.14" y="107.88" width="2.01" height="3.38" fill="#f3bb96" />
<rect x="291.55" y="107.88" width="2.01" height="3.38" fill="#f1b38a" />
<rect x="293.96" y="107.88" width="2.01" height="3.38" fill="#eea576" />
<rect x="296.37" y="107.88" width="2.01" height="3.38" fill="#f8d5bd" />
<rect x="298.78" y="107.88" width="2.01" height="3.38" fill="#f9d6bf" />
<rect x="301.19" y="107.88" width="2.01" height="3.38" fill="#f8d2b8" />
<rect x="303.60" y="107.88" width="2.01" height="3.38" fill="#f5c5a5" />
<rect x="306.01" y="107.88" width="2.01" height="3.38" fill="#fae1d0" />
<rect x="308.42" y="107.88" width="2.01" height="3.38" fill="#ed9d6a" />
<rect x="310.83" y="107.88" width="2.01" height="3.38" fill="#fceee5" />
<rect x="313.24" y="107.88" width="2.01" height="3.38" fill="#f7ccb0" />
<rect x="315.65" y="107.88" width="2.01" height="3.38" fill="#fae2d2" />
<rect x="318.06" y="107.88" width="2.01" height="3.38" fill="#fbe4d5" />
<rect x="320.47" y="107.88" width="2.01" height="3.38" fill="#f8d5bc" />
<rect x="322.88" y="107.88" width="2.01" height="3.38" fill="#eda06f" />
<rect x="325.29" y="107.88" width="2.01" height="3.38" fill="#fcefe6" />
<rect x="327.70" y="107.88" width="2.01" height="3.38" fill="#fcede3" />
<rect x="330.11" y="107.88" width="2.01" height="3.38" fill="#fceee4" />
<rect x="332.52" y="107.88" width="2.01" height="3.38" fill="#fbf2eb" />
<rect x="334.93" y="107.88" width="2.01" height="3.38" fill="#eea677" />
<rect x="337.34" y="107.88" width="2.01" height="3.38" fill="#fafaf9" />
<rect x="339.75" y="107.88" width="2.01" height="3.38" fill="#fbe8da" />
<rect x="342.16" y="107.88" width="2.01" height="3.38" fill="#fae2d2" />
<rect x="344.57" y="107.88" width="2.01" height="3.38" fill="#fae0ce" />
<rect x="346.98" y="107.88" width="2.01" height="3.38" fill="#f6c9ab" />
<rect x="349.39" y="107.88" width="2.01" height="3.38" fill="#fae0ce" />
<rect x="351.80" y="107.88" width="2.01" height="3.38" fill="#dbe7f5" />
<rect x="354.21" y="107.88" width="2.01" height="3.38" fill="#e4edf7" />
<rect x="356.62" y="107.88" width="2.01" height="3.38" fill="#fafafa" />
<rect x="359.03" y="107.88" width="2.01" height="3.38" fill="#dae6f4" />
<rect x="361.44" y="107.88" width="2.01" height="3.38" fill="#dce8f5" />
<rect x="363.85" y="107.88" width="2.01" height="3.38" fill="#f3f6f9" />
<rect x="366.26" y="107.88" width="2.01" height="3.38" fill="#e2ecf7" />
<rect x="368.67" y="107.88" width="2.01" height="3.38" fill="#fbe4d4" />
<rect x="371.08" y="107.88" width="2.01" height="3.38" fill="#e1ebf6" />
<rect x="373.49" y="107.88" width="2.01" height="3.38" fill="#f9f9fa" />
<rect x="375.90" y="107.88" width="2.01" height="3.38" fill="#d1e1f2" />
<rect x="378.31" y="107.88" width="2.01" height="3.38" fill="#ebf1f8" />
<rect x="380.72" y="107.88" width="2.01" height="3.38" fill="#f5f7fa" />
<rect x="383.13" y="107.88" width="2.01" height="3.38" fill="#e1ebf7" />
<rect x="385.54" y="107.88" width="2.01" height="3.38" fill="#f4f6f9" />
<rect x="387.95" y="107.88" width="2.01" height="3.38" fill="#c3d9ee" />
<rect x="390.36" y="107.88" width="2.01" height="3.38" fill="#fbf1ea" />
<rect x="392.77" y="107.88" width="2.01" height="3.38" fill="#d0e1f2" />
<rect x="395.18" y="107.88" width="2.01" height="3.38" fill="#f2f5f9" />
<rect x="399.09" y="107.88" width="2.01" height="3.38" fill="#e6eef8" />
<rect x="401.50" y="107.88" width="2.01" height="3.38" fill="#c3d9ee" />
<rect x="403.91" y="107.88" width="2.01" height="3.38" fill="#dce8f5" />
<rect x="406.32" y="107.88" width="2.01" height="3.38" fill="#d0e0f2" />
<rect x="408.73" y="107.88" width="2.01" height="3.38" fill="#e1ebf6" />
<rect x="411.14" y="107.88" width="2.01" height="3.38" fill="#f9dbc7" />
<rect x="413.55" y="107.88" width="2.01" height="3.38" fill="#c3d8ee" />
<rect x="415.96" y="107.88" width="2.01" height="3.38" fill="#d3e2f3" />
<rect x="418.37" y="107.88" width="2.01" height="3.38" fill="#c2d8ee" />
<rect x="420.78" y="107.88" width="2.01" height="3.38" fill="#b9d1eb" />
<rect x="423.19" y="107.88" width="2.01" height="3.38" fill="#fbf6f3" />
<rect x="425.60" y="107.88" width="2.01" height="3.38" fill="#f2f5f9" />
<rect x="428.01" y="107.88" width="2.01" height="3.38" fill="#d7e5f4" />
<rect x="430.42" y="107.88" width="2.01" height="3.38" fill="#afcae8" />
<rect x="432.83" y="107.88" width="2.01" height="3.38" fill="#fcede3" />
<rect x="279.50" y="111.86" width="2.01" height="3.38" fill="#e38858" />
<rect x="281.91" y="111.86" width="2.01" height="3.38" fill="#fbe8db" />
<rect x="284.32" y="111.86" width="2.01" height="3.38" fill="#fae1d0" />
<rect x="286.73" y="111.86" width="2.01" height="3.38" fill="#f6cbae" />
<rect x="289.14" y="111.86" width="2.01" height="3.38" fill="#ec9b67" />
<rect x="291.55" y="111.86" width="2.01" height="3.38" fill="#f9d8c2" />
<rect x="293.96" y="111.86" width="2.01" height="3.38" fill="#fceade" />
<rect x="296.37" y="111.86" width="2.01" height="3.38" fill="#f9dcc7" />
<rect x="298.78" y="111.86" width="2.01" height="3.38" fill="#e2ecf7" />
<rect x="301.19" y="111.86" width="2.01" height="3.38" fill="#f4bd99" />
<rect x="303.60" y="111.86" width="2.01" height="3.38" fill="#f8d2b8" />
<rect x="306.01" y="111.86" width="2.01" height="3.38" fill="#f1b086" />
<rect x="308.42" y="111.86" width="2.01" height="3.38" fill="#f7cdb0" />
<rect x="310.83" y="111.86" width="2.01" height="3.38" fill="#f6caad" />
<rect x="313.24" y="111.86" width="2.01" height="3.38" fill="#f8d3ba" />
<rect x="315.65" y="111.86" width="2.01" height="3.38" fill="#f4f6f9" />
<rect x="318.06" y="111.86" width="2.01" height="3.38" fill="#f8d5bd" />
<rect x="320.47" y="111.86" width="2.01" height="3.38" fill="#f7ceb1" />
<rect x="322.88" y="111.86" width="2.01" height="3.38" fill="#f1b38b" />
<rect x="325.29" y="111.86" width="2.01" height="3.38" fill="#f5c2a1" />
<rect x="327.70" y="111.86" width="2.01" height="3.38" fill="#fceee5" />
<rect x="330.11" y="111.86" width="2.01" height="3.38" fill="#f9d8c2" />
<rect x="332.52" y="111.86" width="2.01" height="3.38" fill="#f7ceb2" />
<rect x="334.93" y="111.86" width="2.01" height="3.38" fill="#f0ae83" />
<rect x="337.34" y="111.86" width="2.01" height="3.38" fill="#fbe6d7" />
<rect x="339.75" y="111.86" width="2.01" height="3.38" fill="#dce8f5" />
<rect x="342.16" y="111.86" width="2.01" height="3.38" fill="#fbf6f3" />
<rect x="344.57" y="111.86" width="2.01" height="3.38" fill="#fbf2eb" />
<rect x="346.98" y="111.86" width="2.01" height="3.38" fill="#f6c9ab" />
<rect x="349.39" y="111.86" width="2.01" height="3.38" fill="#faddca" />
<rect x="351.80" y="111.86" width="2.01" height="3.38" fill="#c5d9ef" />
<rect x="354.21" y="111.86" width="2.01" height="3.38" fill="#fbf5f2" />
<rect x="356.62" y="111.86" width="2.01" height="3.38" fill="#fbe8da" />
<rect x="359.03" y="111.86" width="2.01" height="3.38" fill="#ec9c69" />
<rect x="361.44" y="111.86" width="2.01" height="3.38" fill="#cfdff1" />
<rect x="363.85" y="111.86" width="2.01" height="3.38" fill="#fbe9dc" />
<rect x="366.26" y="111.86" width="2.01" height="3.38" fill="#faf7f5" />
<rect x="368.67" y="111.86" width="2.01" height="3.38" fill="#d1e1f2" />
<rect x="371.08" y="111.86" width="2.01" height="3.38" fill="#fadecb" />
<rect x="373.49" y="111.86" width="2.01" height="3.38" fill="#f0f4f9" />
<rect x="375.90" y="111.86" width="2.01" height="3.38" fill="#adc9e7" />
<rect x="378.31" y="111.86" width="2.01" height="3.38" fill="#f2f5f9" />
<rect x="380.72" y="111.86" width="2.01" height="3.38" fill="#e7eff8" />
<rect x="383.13" y="111.86" width="2.01" height="3.38" fill="#faf9f8" />
<rect x="385.54" y="111.86" width="2.01" height="3.38" fill="#f7f8fa" />
<rect x="387.95" y="111.86" width="2.01" height="3.38" fill="#d2e2f2" />
<rect x="390.36" y="111.86" width="2.01" height="3.38" fill="#f8f9fa" />
<rect x="392.77" y="111.86" width="2.01" height="3.38" fill="#fbf6f3" />
<rect x="395.18" y="111.86" width="2.01" height="3.38" fill="#e7eff8" />
<rect x="399.09" y="111.86" width="2.01" height="3.38" fill="#c7dbef" />
<rect x="401.50" y="111.86" width="2.01" height="3.38" fill="#a0bfe3" />
<rect x="403.91" y="111.86" width="2.01" height="3.38" fill="#c4d9ee" />
<rect x="406.32" y="111.86" width="2.01" height="3.38" fill="#b9d2eb" />
<rect x="408.73" y="111.86" width="2.01" height="3.38" fill="#c7dbef" />
<rect x="411.14" y="111.86" width="2.01" height="3.38" fill="#bdd5ec" />
<rect x="413.55" y="111.86" width="2.01" height="3.38" fill="#80a8d9" />
<rect x="415.96" y="111.86" width="2.01" height="3.38" fill="#d8e5f4" />
<rect x="418.37" y="111.86" width="2.01" height="3.38" fill="#b3cde9" />
<rect x="420.78" y="111.86" width="2.01" height="3.38" fill="#c2d7ee" />
<rect x="423.19" y="111.86" width="2.01" height="3.38" fill="#2e5eab" />
<rect x="425.60" y="111.86" width="2.01" height="3.38" fill="#c8dbef" />
<rect x="428.01" y="111.86" width="2.01" height="3.38" fill="#bed5ed" />
<rect x="430.42" y="111.86" width="2.01" height="3.38" fill="#f9f9fa" />
<rect x="432.83" y="111.86" width="2.01" height="3.38" fill="#81a9d9" />
<rect x="279.50" y="115.84" width="2.01" height="3.38" fill="#ed9f6d" />
<rect x="281.91" y="115.84" width="2.01" height="3.38" fill="#fcebe0" />
<rect x="284.32" y="115.84" width="2.01" height="3.38" fill="#edf2f9" />
<rect x="286.73" y="115.84" width="2.01" height="3.38" fill="#fcf0e9" />
<rect x="289.14" y="115.84" width="2.01" height="3.38" fill="#efaa7d" />
<rect x="291.55" y="115.84" width="2.01" height="3.38" fill="#fbe4d5" />
<rect x="293.96" y="115.84" width="2.01" height="3.38" fill="#fceade" />
<rect x="296.37" y="115.84" width="2.01" height="3.38" fill="#fadecb" />
<rect x="298.78" y="115.84" width="2.01" height="3.38" fill="#fadecc" />
<rect x="301.19" y="115.84" width="2.01" height="3.38" fill="#fae2d1" />
<rect x="303.60" y="115.84" width="2.01" height="3.38" fill="#fceade" />
<rect x="306.01" y="115.84" width="2.01" height="3.38" fill="#fcf0e8" />
<rect x="308.42" y="115.84" width="2.01" height="3.38" fill="#f7cfb3" />
<rect x="310.83" y="115.84" width="2.01" height="3.38" fill="#abc8e6" />
<rect x="313.24" y="115.84" width="2.01" height="3.38" fill="#fcebdf" />
<rect x="315.65" y="115.84" width="2.01" height="3.38" fill="#fbe8db" />
<rect x="318.06" y="115.84" width="2.01" height="3.38" fill="#f3f6f9" />
<rect x="320.47" y="115.84" width="2.01" height="3.38" fill="#faf9f8" />
<rect x="322.88" y="115.84" width="2.01" height="3.38" fill="#e3ecf7" />
<rect x="325.29" y="115.84" width="2.01" height="3.38" fill="#fcf0e8" />
<rect x="327.70" y="115.84" width="2.01" height="3.38" fill="#f5c5a6" />
<rect x="330.11" y="115.84" width="2.01" height="3.38" fill="#f8d0b6" />
<rect x="332.52" y="115.84" width="2.01" height="3.38" fill="#fcede4" />
<rect x="334.93" y="115.84" width="2.01" height="3.38" fill="#fbf1ea" />
<rect x="337.34" y="115.84" width="2.01" height="3.38" fill="#f9d9c4" />
<rect x="339.75" y="115.84" width="2.01" height="3.38" fill="#f9dac4" />
<rect x="342.16" y="115.84" width="2.01" height="3.38" fill="#fafaf9" />
<rect x="344.57" y="115.84" width="2.01" height="3.38" fill="#fcece2" />
<rect x="346.98" y="115.84" width="2.01" height="3.38" fill="#f9dcc7" />
<rect x="349.39" y="115.84" width="2.01" height="3.38" fill="#fadcc8" />
<rect x="351.80" y="115.84" width="2.01" height="3.38" fill="#fbf5f2" />
<rect x="354.21" y="115.84" width="2.01" height="3.38" fill="#fbf3ee" />
<rect x="356.62" y="115.84" width="2.01" height="3.38" fill="#f4f7f9" />
<rect x="359.03" y="115.84" width="2.01" height="3.38" fill="#dde9f6" />
<rect x="361.44" y="115.84" width="2.01" height="3.38" fill="#c1d7ed" />
<rect x="363.85" y="115.84" width="2.01" height="3.38" fill="#ea9663" />
<rect x="366.26" y="115.84" width="2.01" height="3.38" fill="#fbf4f0" />
<rect x="368.67" y="115.84" width="2.01" height="3.38" fill="#fceade" />
<rect x="371.08" y="115.84" width="2.01" height="3.38" fill="#fbf5f1" />
<rect x="373.49" y="115.84" width="2.01" height="3.38" fill="#dfeaf6" />
<rect x="375.90" y="115.84" width="2.01" height="3.38" fill="#bbd4ec" />
<rect x="378.31" y="115.84" width="2.01" height="3.38" fill="#fbf5f1" />
<rect x="380.72" y="115.84" width="2.01" height="3.38" fill="#cedff1" />
<rect x="383.13" y="115.84" width="2.01" height="3.38" fill="#e5edf8" />
<rect x="385.54" y="115.84" width="2.01" height="3.38" fill="#fbeadd" />
<rect x="387.95" y="115.84" width="2.01" height="3.38" fill="#d8e5f4" />
<rect x="390.36" y="115.84" width="2.01" height="3.38" fill="#dee9f6" />
<rect x="392.77" y="115.84" width="2.01" height="3.38" fill="#faf9f8" />
<rect x="395.18" y="115.84" width="2.01" height="3.38" fill="#dae7f5" />
<rect x="399.09" y="115.84" width="2.01" height="3.38" fill="#e1ebf7" />
<rect x="401.50" y="115.84" width="2.01" height="3.38" fill="#fafafa" />
<rect x="403.91" y="115.84" width="2.01" height="3.38" fill="#4778be" />
<rect x="406.32" y="115.84" width="2.01" height="3.38" fill="#f4f6f9" />
<rect x="408.73" y="115.84" width="2.01" height="3.38" fill="#a5c3e5" />
<rect x="411.14" y="115.84" width="2.01" height="3.38" fill="#cddff1" />
<rect x="413.55" y="115.84" width="2.01" height="3.38" fill="#c1d7ed" />
<rect x="415.96" y="115.84" width="2.01" height="3.38" fill="#6191ce" />
<rect x="418.37" y="115.84" width="2.01" height="3.38" fill="#c1d7ed" />
<rect x="420.78" y="115.84" width="2.01" height="3.38" fill="#dbe7f5" />
<rect x="423.19" y="115.84" width="2.01" height="3.38" fill="#c0d6ed" />
<rect x="425.60" y="115.84" width="2.01" height="3.38" fill="#99bae0" />
<rect x="428.01" y="115.84" width="2.01" height="3.38" fill="#dae7f5" />
<rect x="430.42" y="115.84" width="2.01" height="3.38" fill="#acc8e7" />
<rect x="432.83" y="115.84" width="2.01" height="3.38" fill="#e1ebf7" />
<rect x="279.50" y="120.82" width="2.01" height="3.38" fill="#f8d3ba" />
<rect x="281.91" y="120.82" width="2.01" height="3.38" fill="#fcece1" />
<rect x="284.32" y="120.82" width="2.01" height="3.38" fill="#faf7f4" />
<rect x="286.73" y="120.82" width="2.01" height="3.38" fill="#fbf4ef" />
<rect x="289.14" y="120.82" width="2.01" height="3.38" fill="#f7cfb4" />
<rect x="291.55" y="120.82" width="2.01" height="3.38" fill="#f5c6a6" />
<rect x="293.96" y="120.82" width="2.01" height="3.38" fill="#fcede3" />
<rect x="296.37" y="120.82" width="2.01" height="3.38" fill="#bed6ed" />
<rect x="298.78" y="120.82" width="2.01" height="3.38" fill="#dfeaf6" />
<rect x="301.19" y="120.82" width="2.01" height="3.38" fill="#dbe7f5" />
<rect x="303.60" y="120.82" width="2.01" height="3.38" fill="#f8d3ba" />
<rect x="306.01" y="120.82" width="2.01" height="3.38" fill="#dbe7f5" />
<rect x="308.42" y="120.82" width="2.01" height="3.38" fill="#f9d7bf" />
<rect x="310.83" y="120.82" width="2.01" height="3.38" fill="#fcefe6" />
<rect x="313.24" y="120.82" width="2.01" height="3.38" fill="#fbf6f3" />
<rect x="315.65" y="120.82" width="2.01" height="3.38" fill="#f8d4bc" />
<rect x="318.06" y="120.82" width="2.01" height="3.38" fill="#fbf6f4" />
<rect x="320.47" y="120.82" width="2.01" height="3.38" fill="#f9dac5" />
<rect x="322.88" y="120.82" width="2.01" height="3.38" fill="#f9dac5" />
<rect x="325.29" y="120.82" width="2.01" height="3.38" fill="#f2f5f9" />
<rect x="327.70" y="120.82" width="2.01" height="3.38" fill="#edf2f9" />
<rect x="330.11" y="120.82" width="2.01" height="3.38" fill="#fcefe6" />
<rect x="332.52" y="120.82" width="2.01" height="3.38" fill="#a7c5e5" />
<rect x="334.93" y="120.82" width="2.01" height="3.38" fill="#fbf2ec" />
<rect x="337.34" y="120.82" width="2.01" height="3.38" fill="#e7eef8" />
<rect x="339.75" y="120.82" width="2.01" height="3.38" fill="#fbf4f0" />
<rect x="342.16" y="120.82" width="2.01" height="3.38" fill="#e4edf7" />
<rect x="344.57" y="120.82" width="2.01" height="3.38" fill="#e1ebf7" />
<rect x="346.98" y="120.82" width="2.01" height="3.38" fill="#afcae8" />
<rect x="349.39" y="120.82" width="2.01" height="3.38" fill="#c6daef" />
<rect x="351.80" y="120.82" width="2.01" height="3.38" fill="#d7e5f4" />
<rect x="354.21" y="120.82" width="2.01" height="3.38" fill="#ebf1f8" />
<rect x="356.62" y="120.82" width="2.01" height="3.38" fill="#cbdef0" />
<rect x="359.03" y="120.82" width="2.01" height="3.38" fill="#f4f7f9" />
<rect x="361.44" y="120.82" width="2.01" height="3.38" fill="#f6f8fa" />
<rect x="363.85" y="120.82" width="2.01" height="3.38" fill="#e8915f" />
<rect x="366.26" y="120.82" width="2.01" height="3.38" fill="#faf8f7" />
<rect x="368.67" y="120.82" width="2.01" height="3.38" fill="#faf8f6" />
<rect x="371.08" y="120.82" width="2.01" height="3.38" fill="#d9e6f4" />
<rect x="373.49" y="120.82" width="2.01" height="3.38" fill="#fafafa" />
<rect x="375.90" y="120.82" width="2.01" height="3.38" fill="#edf2f9" />
<rect x="378.31" y="120.82" width="2.01" height="3.38" fill="#fafafa" />
<rect x="380.72" y="120.82" width="2.01" height="3.38" fill="#bad2eb" />
<rect x="383.13" y="120.82" width="2.01" height="3.38" fill="#dde9f5" />
<rect x="385.54" y="120.82" width="2.01" height="3.38" fill="#d1e1f2" />
<rect x="387.95" y="120.82" width="2.01" height="3.38" fill="#d6e4f3" />
<rect x="390.36" y="120.82" width="2.01" height="3.38" fill="#e1ebf7" />
<rect x="392.77" y="120.82" width="2.01" height="3.38" fill="#dde9f6" />
<rect x="395.18" y="120.82" width="2.01" height="3.38" fill="#e5edf8" />
<rect x="399.09" y="120.82" width="2.01" height="3.38" fill="#a01828" />
<rect x="401.50" y="120.82" width="2.01" height="3.38" fill="#cbdef0" />
<rect x="403.91" y="120.82" width="2.01" height="3.38" fill="#e4edf7" />
<rect x="406.32" y="120.82" width="2.01" height="3.38" fill="#d8e5f4" />
<rect x="408.73" y="120.82" width="2.01" height="3.38" fill="#f5f7fa" />
<rect x="411.14" y="120.82" width="2.01" height="3.38" fill="#f1f5f9" />
<rect x="413.55" y="120.82" width="2.01" height="3.38" fill="#fbf5f0" />
<rect x="415.96" y="120.82" width="2.01" height="3.38" fill="#d5e3f3" />
<rect x="418.37" y="120.82" width="2.01" height="3.38" fill="#eef3f9" />
<rect x="420.78" y="120.82" width="2.01" height="3.38" fill="#ecf2f9" />
<rect x="423.19" y="120.82" width="2.01" height="3.38" fill="#eef3f9" />
<rect x="425.60" y="120.82" width="2.01" height="3.38" fill="#cfe0f1" />
<rect x="428.01" y="120.82" width="2.01" height="3.38" fill="#fbe6d7" />
<rect x="430.42" y="120.82" width="2.01" height="3.38" fill="#f3f6f9" />
<rect x="432.83" y="120.82" width="2.01" height="3.38" fill="#fcece1" />
<rect x="279.50" y="124.80" width="2.01" height="3.38" fill="#fcede4" />
<rect x="281.91" y="124.80" width="2.01" height="3.38" fill="#fbf3ed" />
<rect x="284.32" y="124.80" width="2.01" height="3.38" fill="#fbe3d3" />
<rect x="286.73" y="124.80" width="2.01" height="3.38" fill="#fbf5f0" />
<rect x="289.14" y="124.80" width="2.01" height="3.38" fill="#fbf2ec" />
<rect x="291.55" y="124.80" width="2.01" height="3.38" fill="#f4f6f9" />
<rect x="293.96" y="124.80" width="2.01" height="3.38" fill="#f7cbae" />
<rect x="296.37" y="124.80" width="2.01" height="3.38" fill="#fbe3d4" />
<rect x="298.78" y="124.80" width="2.01" height="3.38" fill="#faf9f8" />
<rect x="301.19" y="124.80" width="2.01" height="3.38" fill="#fbf1eb" />
<rect x="303.60" y="124.80" width="2.01" height="3.38" fill="#ecf2f9" />
<rect x="306.01" y="124.80" width="2.01" height="3.38" fill="#fbe6d8" />
<rect x="308.42" y="124.80" width="2.01" height="3.38" fill="#fbf4f0" />
<rect x="310.83" y="124.80" width="2.01" height="3.38" fill="#f7f8fa" />
<rect x="313.24" y="124.80" width="2.01" height="3.38" fill="#fcede3" />
<rect x="315.65" y="124.80" width="2.01" height="3.38" fill="#f3b993" />
<rect x="318.06" y="124.80" width="2.01" height="3.38" fill="#fbf4f0" />
<rect x="320.47" y="124.80" width="2.01" height="3.38" fill="#f4f6f9" />
<rect x="322.88" y="124.80" width="2.01" height="3.38" fill="#f7f8fa" />
<rect x="325.29" y="124.80" width="2.01" height="3.38" fill="#fbe4d5" />
<rect x="327.70" y="124.80" width="2.01" height="3.38" fill="#dbe7f5" />
<rect x="330.11" y="124.80" width="2.01" height="3.38" fill="#cbddf0" />
<rect x="332.52" y="124.80" width="2.01" height="3.38" fill="#fbf1e9" />
<rect x="334.93" y="124.80" width="2.01" height="3.38" fill="#c3d9ee" />
<rect x="337.34" y="124.80" width="2.01" height="3.38" fill="#ed9c6a" />
<rect x="339.75" y="124.80" width="2.01" height="3.38" fill="#e7eff8" />
<rect x="342.16" y="124.80" width="2.01" height="3.38" fill="#ebf1f8" />
<rect x="344.57" y="124.80" width="2.01" height="3.38" fill="#bed6ed" />
<rect x="346.98" y="124.80" width="2.01" height="3.38" fill="#bdd5ec" />
<rect x="349.39" y="124.80" width="2.01" height="3.38" fill="#f5f7f9" />
<rect x="351.80" y="124.80" width="2.01" height="3.38" fill="#dde8f5" />
<rect x="354.21" y="124.80" width="2.01" height="3.38" fill="#acc8e7" />
<rect x="356.62" y="124.80" width="2.01" height="3.38" fill="#fcebe1" />
<rect x="359.03" y="124.80" width="2.01" height="3.38" fill="#fcebdf" />
<rect x="361.44" y="124.80" width="2.01" height="3.38" fill="#fbe6d7" />
<rect x="363.85" y="124.80" width="2.01" height="3.38" fill="#c0d7ed" />
<rect x="366.26" y="124.80" width="2.01" height="3.38" fill="#d1e1f2" />
<rect x="368.67" y="124.80" width="2.01" height="3.38" fill="#dce8f5" />
<rect x="371.08" y="124.80" width="2.01" height="3.38" fill="#fceee5" />
<rect x="373.49" y="124.80" width="2.01" height="3.38" fill="#e4edf7" />
<rect x="375.90" y="124.80" width="2.01" height="3.38" fill="#c3d8ee" />
<rect x="378.31" y="124.80" width="2.01" height="3.38" fill="#fbf4ef" />
<rect x="380.72" y="124.80" width="2.01" height="3.38" fill="#fbf3ed" />
<rect x="383.13" y="124.80" width="2.01" height="3.38" fill="#d2e1f2" />
<rect x="385.54" y="124.80" width="2.01" height="3.38" fill="#d6e4f4" />
<rect x="387.95" y="124.80" width="2.01" height="3.38" fill="#adc9e7" />
<rect x="390.36" y="124.80" width="2.01" height="3.38" fill="#c2d8ee" />
<rect x="392.77" y="124.80" width="2.01" height="3.38" fill="#f9fafa" />
<rect x="395.18" y="124.80" width="2.01" height="3.38" fill="#e48959" />
<rect x="399.09" y="124.80" width="2.01" height="3.38" fill="#a7232b" />
<rect x="401.50" y="124.80" width="2.01" height="3.38" fill="#d6e4f3" />
<rect x="403.91" y="124.80" width="2.01" height="3.38" fill="#e6eef8" />
<rect x="406.32" y="124.80" width="2.01" height="3.38" fill="#dae7f5" />
<rect x="408.73" y="124.80" width="2.01" height="3.38" fill="#fbe6d7" />
<rect x="411.14" y="124.80" width="2.01" height="3.38" fill="#fbf5f1" />
<rect x="413.55" y="124.80" width="2.01" height="3.38" fill="#d5e4f3" />
<rect x="415.96" y="124.80" width="2.01" height="3.38" fill="#dfeaf6" />
<rect x="418.37" y="124.80" width="2.01" height="3.38" fill="#f7f8fa" />
<rect x="420.78" y="124.80" width="2.01" height="3.38" fill="#eaf1f8" />
<rect x="423.19" y="124.80" width="2.01" height="3.38" fill="#faf7f5" />
<rect x="425.60" y="124.80" width="2.01" height="3.38" fill="#cfe0f2" />
<rect x="428.01" y="124.80" width="2.01" height="3.38" fill="#dfeaf6" />
<rect x="430.42" y="124.80" width="2.01" height="3.38" fill="#fadfcd" />
<rect x="432.83" y="124.80" width="2.01" height="3.38" fill="#fceee4" />
<rect x="279.50" y="128.78" width="2.01" height="3.38" fill="#fcede4" />
<rect x="281.91" y="128.78" width="2.01" height="3.38" fill="#f7cfb3" />
<rect x="284.32" y="128.78" width="2.01" height="3.38" fill="#f9d8c2" />
<rect x="286.73" y="128.78" width="2.01" height="3.38" fill="#c4d9ee" />
<rect x="289.14" y="128.78" width="2.01" height="3.38" fill="#fcefe6" />
<rect x="291.55" y="128.78" width="2.01" height="3.38" fill="#fadfcd" />
<rect x="293.96" y="128.78" width="2.01" height="3.38" fill="#fbf1eb" />
<rect x="296.37" y="128.78" width="2.01" height="3.38" fill="#fbf5f1" />
<rect x="298.78" y="128.78" width="2.01" height="3.38" fill="#f9dac5" />
<rect x="301.19" y="128.78" width="2.01" height="3.38" fill="#fcede4" />
<rect x="303.60" y="128.78" width="2.01" height="3.38" fill="#c1d7ed" />
<rect x="306.01" y="128.78" width="2.01" height="3.38" fill="#fbf3ed" />
<rect x="308.42" y="128.78" width="2.01" height="3.38" fill="#fbf1e9" />
<rect x="310.83" y="128.78" width="2.01" height="3.38" fill="#dfeaf6" />
<rect x="313.24" y="128.78" width="2.01" height="3.38" fill="#f9dbc6" />
<rect x="315.65" y="128.78" width="2.01" height="3.38" fill="#fbf4ef" />
<rect x="318.06" y="128.78" width="2.01" height="3.38" fill="#d7e5f4" />
<rect x="320.47" y="128.78" width="2.01" height="3.38" fill="#fbf6f3" />
<rect x="322.88" y="128.78" width="2.01" height="3.38" fill="#eff4f9" />
<rect x="325.29" y="128.78" width="2.01" height="3.38" fill="#fbe8dc" />
<rect x="327.70" y="128.78" width="2.01" height="3.38" fill="#d7e5f4" />
<rect x="330.11" y="128.78" width="2.01" height="3.38" fill="#dee9f6" />
<rect x="332.52" y="128.78" width="2.01" height="3.38" fill="#fcebe0" />
<rect x="334.93" y="128.78" width="2.01" height="3.38" fill="#dfeaf6" />
<rect x="337.34" y="128.78" width="2.01" height="3.38" fill="#e0eaf6" />
<rect x="339.75" y="128.78" width="2.01" height="3.38" fill="#ebf1f8" />
<rect x="342.16" y="128.78" width="2.01" height="3.38" fill="#d9e6f4" />
<rect x="344.57" y="128.78" width="2.01" height="3.38" fill="#fbf6f3" />
<rect x="346.98" y="128.78" width="2.01" height="3.38" fill="#cbddf0" />
<rect x="349.39" y="128.78" width="2.01" height="3.38" fill="#dfeaf6" />
<rect x="351.80" y="128.78" width="2.01" height="3.38" fill="#fae2d1" />
<rect x="354.21" y="128.78" width="2.01" height="3.38" fill="#bcd4ec" />
<rect x="356.62" y="128.78" width="2.01" height="3.38" fill="#cfe0f1" />
<rect x="359.03" y="128.78" width="2.01" height="3.38" fill="#eff4f9" />
<rect x="361.44" y="128.78" width="2.01" height="3.38" fill="#a2c1e4" />
<rect x="363.85" y="128.78" width="2.01" height="3.38" fill="#a3c1e4" />
<rect x="366.26" y="128.78" width="2.01" height="3.38" fill="#dae6f4" />
<rect x="368.67" y="128.78" width="2.01" height="3.38" fill="#fbf2eb" />
<rect x="371.08" y="128.78" width="2.01" height="3.38" fill="#f4f6f9" />
<rect x="373.49" y="128.78" width="2.01" height="3.38" fill="#dde8f5" />
<rect x="375.90" y="128.78" width="2.01" height="3.38" fill="#cddff1" />
<rect x="378.31" y="128.78" width="2.01" height="3.38" fill="#f8d5bd" />
<rect x="380.72" y="128.78" width="2.01" height="3.38" fill="#faf8f7" />
<rect x="383.13" y="128.78" width="2.01" height="3.38" fill="#cfe0f2" />
<rect x="385.54" y="128.78" width="2.01" height="3.38" fill="#fbe7d9" />
<rect x="387.95" y="128.78" width="2.01" height="3.38" fill="#fcede2" />
<rect x="390.36" y="128.78" width="2.01" height="3.38" fill="#dae6f4" />
<rect x="392.77" y="128.78" width="2.01" height="3.38" fill="#f6c7a8" />
<rect x="395.18" y="128.78" width="2.01" height="3.38" fill="#aa262c" />
<rect x="399.09" y="128.78" width="2.01" height="3.38" fill="#a6212a" />
<rect x="401.50" y="128.78" width="2.01" height="3.38" fill="#e1ebf7" />
<rect x="403.91" y="128.78" width="2.01" height="3.38" fill="#f8f9fa" />
<rect x="406.32" y="128.78" width="2.01" height="3.38" fill="#e7eff8" />
<rect x="408.73" y="128.78" width="2.01" height="3.38" fill="#fceee5" />
<rect x="411.14" y="128.78" width="2.01" height="3.38" fill="#dee9f6" />
<rect x="413.55" y="128.78" width="2.01" height="3.38" fill="#eff4f9" />
<rect x="415.96" y="128.78" width="2.01" height="3.38" fill="#fbf6f4" />
<rect x="418.37" y="128.78" width="2.01" height="3.38" fill="#fcece1" />
<rect x="420.78" y="128.78" width="2.01" height="3.38" fill="#dbe7f5" />
<rect x="423.19" y="128.78" width="2.01" height="3.38" fill="#e0eaf6" />
<rect x="425.60" y="128.78" width="2.01" height="3.38" fill="#fbe9dd" />
<rect x="428.01" y="128.78" width="2.01" height="3.38" fill="#eef3f9" />
<rect x="430.42" y="128.78" width="2.01" height="3.38" fill="#fbf0e9" />
<rect x="432.83" y="128.78" width="2.01" height="3.38" fill="#f8f9fa" />
<rect x="279.50" y="132.76" width="2.01" height="3.38" fill="#fcede2" />
<rect x="281.91" y="132.76" width="2.01" height="3.38" fill="#ecf1f9" />
<rect x="284.32" y="132.76" width="2.01" height="3.38" fill="#fbf4ef" />
<rect x="286.73" y="132.76" width="2.01" height="3.38" fill="#fbf5f1" />
<rect x="289.14" y="132.76" width="2.01" height="3.38" fill="#f2f5f9" />
<rect x="291.55" y="132.76" width="2.01" height="3.38" fill="#f7ccaf" />
<rect x="293.96" y="132.76" width="2.01" height="3.38" fill="#dee9f6" />
<rect x="296.37" y="132.76" width="2.01" height="3.38" fill="#eef3f9" />
<rect x="298.78" y="132.76" width="2.01" height="3.38" fill="#fcede3" />
<rect x="301.19" y="132.76" width="2.01" height="3.38" fill="#faddca" />
<rect x="303.60" y="132.76" width="2.01" height="3.38" fill="#eff3f9" />
<rect x="306.01" y="132.76" width="2.01" height="3.38" fill="#faf8f6" />
<rect x="308.42" y="132.76" width="2.01" height="3.38" fill="#eff3f9" />
<rect x="310.83" y="132.76" width="2.01" height="3.38" fill="#e7eef8" />
<rect x="313.24" y="132.76" width="2.01" height="3.38" fill="#f9d9c2" />
<rect x="315.65" y="132.76" width="2.01" height="3.38" fill="#fbf4ef" />
<rect x="318.06" y="132.76" width="2.01" height="3.38" fill="#f9f9fa" />
<rect x="320.47" y="132.76" width="2.01" height="3.38" fill="#fcefe7" />
<rect x="322.88" y="132.76" width="2.01" height="3.38" fill="#fae1d0" />
<rect x="325.29" y="132.76" width="2.01" height="3.38" fill="#f9d6bf" />
<rect x="327.70" y="132.76" width="2.01" height="3.38" fill="#f7f8fa" />
<rect x="330.11" y="132.76" width="2.01" height="3.38" fill="#f5f7fa" />
<rect x="332.52" y="132.76" width="2.01" height="3.38" fill="#faf8f6" />
<rect x="334.93" y="132.76" width="2.01" height="3.38" fill="#fbf1ea" />
<rect x="337.34" y="132.76" width="2.01" height="3.38" fill="#faf8f6" />
<rect x="339.75" y="132.76" width="2.01" height="3.38" fill="#cbddf0" />
<rect x="342.16" y="132.76" width="2.01" height="3.38" fill="#f0f4f9" />
<rect x="344.57" y="132.76" width="2.01" height="3.38" fill="#e3ecf7" />
<rect x="346.98" y="132.76" width="2.01" height="3.38" fill="#fbe5d7" />
<rect x="349.39" y="132.76" width="2.01" height="3.38" fill="#f1f4f9" />
<rect x="351.80" y="132.76" width="2.01" height="3.38" fill="#d9e6f4" />
<rect x="354.21" y="132.76" width="2.01" height="3.38" fill="#fcebe0" />
<rect x="356.62" y="132.76" width="2.01" height="3.38" fill="#e2ecf7" />
<rect x="359.03" y="132.76" width="2.01" height="3.38" fill="#faf9f9" />
<rect x="361.44" y="132.76" width="2.01" height="3.38" fill="#ebf1f9" />
<rect x="363.85" y="132.76" width="2.01" height="3.38" fill="#fafafa" />
<rect x="366.26" y="132.76" width="2.01" height="3.38" fill="#fbf1e9" />
<rect x="368.67" y="132.76" width="2.01" height="3.38" fill="#d8e5f4" />
<rect x="371.08" y="132.76" width="2.01" height="3.38" fill="#dbe7f5" />
<rect x="373.49" y="132.76" width="2.01" height="3.38" fill="#fbf4ef" />
<rect x="375.90" y="132.76" width="2.01" height="3.38" fill="#e5edf8" />
<rect x="378.31" y="132.76" width="2.01" height="3.38" fill="#f3f6f9" />
<rect x="380.72" y="132.76" width="2.01" height="3.38" fill="#fbf2eb" />
<rect x="383.13" y="132.76" width="2.01" height="3.38" fill="#d5e4f3" />
<rect x="385.54" y="132.76" width="2.01" height="3.38" fill="#fbf1eb" />
<rect x="387.95" y="132.76" width="2.01" height="3.38" fill="#e5edf8" />
<rect x="390.36" y="132.76" width="2.01" height="3.38" fill="#dde8f5" />
<rect x="392.77" y="132.76" width="2.01" height="3.38" fill="#aa262c" />
<rect x="395.18" y="132.76" width="2.01" height="3.38" fill="#a51f2a" />
<rect x="399.09" y="132.76" width="2.01" height="3.38" fill="#a01828" />
<rect x="401.50" y="132.76" width="2.01" height="3.38" fill="#faf7f5" />
<rect x="403.91" y="132.76" width="2.01" height="3.38" fill="#dce8f5" />
<rect x="406.32" y="132.76" width="2.01" height="3.38" fill="#fbe8db" />
<rect x="408.73" y="132.76" width="2.01" height="3.38" fill="#d2e1f2" />
<rect x="411.14" y="132.76" width="2.01" height="3.38" fill="#e3ecf7" />
<rect x="413.55" y="132.76" width="2.01" height="3.38" fill="#fcece1" />
<rect x="415.96" y="132.76" width="2.01" height="3.38" fill="#fceee5" />
<rect x="418.37" y="132.76" width="2.01" height="3.38" fill="#e7eff8" />
<rect x="420.78" y="132.76" width="2.01" height="3.38" fill="#fbf5f0" />
<rect x="423.19" y="132.76" width="2.01" height="3.38" fill="#e9f0f8" />
<rect x="425.60" y="132.76" width="2.01" height="3.38" fill="#cedff1" />
<rect x="428.01" y="132.76" width="2.01" height="3.38" fill="#fcf0e8" />
<rect x="430.42" y="132.76" width="2.01" height="3.38" fill="#f5f7f9" />
<rect x="432.83" y="132.76" width="2.01" height="3.38" fill="#fbf2ed" />
<rect x="279.50" y="136.74" width="2.01" height="3.38" fill="#fbf5f2" />
<rect x="281.91" y="136.74" width="2.01" height="3.38" fill="#fbf6f4" />
<rect x="284.32" y="136.74" width="2.01" height="3.38" fill="#fadfcc" />
<rect x="286.73" y="136.74" width="2.01" height="3.38" fill="#fbf5f0" />
<rect x="289.14" y="136.74" width="2.01" height="3.38" fill="#a8242b" />
<rect x="291.55" y="136.74" width="2.01" height="3.38" fill="#e7905e" />
<rect x="293.96" y="136.74" width="2.01" height="3.38" fill="#efa678" />
<rect x="296.37" y="136.74" width="2.01" height="3.38" fill="#ea9663" />
<rect x="298.78" y="136.74" width="2.01" height="3.38" fill="#fcede3" />
<rect x="301.19" y="136.74" width="2.01" height="3.38" fill="#f4bf9c" />
<rect x="303.60" y="136.74" width="2.01" height="3.38" fill="#f6c9ab" />
<rect x="306.01" y="136.74" width="2.01" height="3.38" fill="#fbe4d4" />
<rect x="308.42" y="136.74" width="2.01" height="3.38" fill="#eef3f9" />
<rect x="310.83" y="136.74" width="2.01" height="3.38" fill="#fbe7d9" />
<rect x="313.24" y="136.74" width="2.01" height="3.38" fill="#fcebe0" />
<rect x="315.65" y="136.74" width="2.01" height="3.38" fill="#fcf0e9" />
<rect x="318.06" y="136.74" width="2.01" height="3.38" fill="#fcece2" />
<rect x="320.47" y="136.74" width="2.01" height="3.38" fill="#ecf1f9" />
<rect x="322.88" y="136.74" width="2.01" height="3.38" fill="#fbf3ee" />
<rect x="325.29" y="136.74" width="2.01" height="3.38" fill="#fbe7da" />
<rect x="327.70" y="136.74" width="2.01" height="3.38" fill="#e8eff8" />
<rect x="330.11" y="136.74" width="2.01" height="3.38" fill="#fbf6f3" />
<rect x="332.52" y="136.74" width="2.01" height="3.38" fill="#fcebdf" />
<rect x="334.93" y="136.74" width="2.01" height="3.38" fill="#f6f8fa" />
<rect x="337.34" y="136.74" width="2.01" height="3.38" fill="#e3ecf7" />
<rect x="339.75" y="136.74" width="2.01" height="3.38" fill="#faf9f9" />
<rect x="342.16" y="136.74" width="2.01" height="3.38" fill="#e9f0f8" />
<rect x="344.57" y="136.74" width="2.01" height="3.38" fill="#e1ebf6" />
<rect x="346.98" y="136.74" width="2.01" height="3.38" fill="#e6eef8" />
<rect x="349.39" y="136.74" width="2.01" height="3.38" fill="#fae2d1" />
<rect x="351.80" y="136.74" width="2.01" height="3.38" fill="#fbf6f2" />
<rect x="354.21" y="136.74" width="2.01" height="3.38" fill="#fbf5f1" />
<rect x="356.62" y="136.74" width="2.01" height="3.38" fill="#fbf3ed" />
<rect x="359.03" y="136.74" width="2.01" height="3.38" fill="#c2d8ee" />
<rect x="361.44" y="136.74" width="2.01" height="3.38" fill="#faf9f8" />
<rect x="363.85" y="136.74" width="2.01" height="3.38" fill="#fbf5f1" />
<rect x="366.26" y="136.74" width="2.01" height="3.38" fill="#e8eff8" />
<rect x="368.67" y="136.74" width="2.01" height="3.38" fill="#d2e2f2" />
<rect x="371.08" y="136.74" width="2.01" height="3.38" fill="#faf7f4" />
<rect x="373.49" y="136.74" width="2.01" height="3.38" fill="#e7eff8" />
<rect x="375.90" y="136.74" width="2.01" height="3.38" fill="#fcf0e8" />
<rect x="378.31" y="136.74" width="2.01" height="3.38" fill="#e2ecf7" />
<rect x="380.72" y="136.74" width="2.01" height="3.38" fill="#f1f5f9" />
<rect x="383.13" y="136.74" width="2.01" height="3.38" fill="#fbf1e9" />
<rect x="385.54" y="136.74" width="2.01" height="3.38" fill="#fbf1ea" />
<rect x="387.95" y="136.74" width="2.01" height="3.38" fill="#fcf0e8" />
<rect x="390.36" y="136.74" width="2.01" height="3.38" fill="#e8eff8" />
<rect x="392.77" y="136.74" width="2.01" height="3.38" fill="#faddc9" />
<rect x="395.18" y="136.74" width="2.01" height="3.38" fill="#d6e4f3" />
<rect x="399.09" y="136.74" width="2.01" height="3.38" fill="#e1ebf7" />
<rect x="401.50" y="136.74" width="2.01" height="3.38" fill="#f1f5f9" />
<rect x="403.91" y="136.74" width="2.01" height="3.38" fill="#fceade" />
<rect x="406.32" y="136.74" width="2.01" height="3.38" fill="#faf8f6" />
<rect x="408.73" y="136.74" width="2.01" height="3.38" fill="#fadecb" />
<rect x="411.14" y="136.74" width="2.01" height="3.38" fill="#fbf2ec" />
<rect x="413.55" y="136.74" width="2.01" height="3.38" fill="#fbf3ed" />
<rect x="415.96" y="136.74" width="2.01" height="3.38" fill="#dae7f5" />
<rect x="418.37" y="136.74" width="2.01" height="3.38" fill="#eaf0f8" />
<rect x="420.78" y="136.74" width="2.01" height="3.38" fill="#f4f6f9" />
<rect x="423.19" y="136.74" width="2.01" height="3.38" fill="#d5e3f3" />
<rect x="425.60" y="136.74" width="2.01" height="3.38" fill="#dce8f5" />
<rect x="428.01" y="136.74" width="2.01" height="3.38" fill="#d2e1f2" />
<rect x="430.42" y="136.74" width="2.01" height="3.38" fill="#e5edf8" />
<rect x="432.83" y="136.74" width="2.01" height="3.38" fill="#fbf1eb" />
<rect x="279.50" y="140.72" width="2.01" height="3.38" fill="#f8d2b8" />
<rect x="281.91" y="140.72" width="2.01" height="3.38" fill="#f9dbc7" />
<rect x="284.32" y="140.72" width="2.01" height="3.38" fill="#a5202a" />
<rect x="286.73" y="140.72" width="2.01" height="3.38" fill="#fbf4f0" />
<rect x="289.14" y="140.72" width="2.01" height="3.38" fill="#e99461" />
<rect x="291.55" y="140.72" width="2.01" height="3.38" fill="#fceee6" />
<rect x="293.96" y="140.72" width="2.01" height="3.38" fill="#e8915f" />
<rect x="296.37" y="140.72" width="2.01" height="3.38" fill="#fceee4" />
<rect x="298.78" y="140.72" width="2.01" height="3.38" fill="#faf7f4" />
<rect x="301.19" y="140.72" width="2.01" height="3.38" fill="#fbe4d5" />
<rect x="303.60" y="140.72" width="2.01" height="3.38" fill="#f7ceb2" />
<rect x="306.01" y="140.72" width="2.01" height="3.38" fill="#fceee5" />
<rect x="308.42" y="140.72" width="2.01" height="3.38" fill="#fbf2ec" />
<rect x="310.83" y="140.72" width="2.01" height="3.38" fill="#fceadf" />
<rect x="313.24" y="140.72" width="2.01" height="3.38" fill="#fbf6f3" />
<rect x="315.65" y="140.72" width="2.01" height="3.38" fill="#edf2f9" />
<rect x="318.06" y="140.72" width="2.01" height="3.38" fill="#cedff1" />
<rect x="320.47" y="140.72" width="2.01" height="3.38" fill="#f9dac5" />
<rect x="322.88" y="140.72" width="2.01" height="3.38" fill="#fceee5" />
<rect x="325.29" y="140.72" width="2.01" height="3.38" fill="#c7dbef" />
<rect x="327.70" y="140.72" width="2.01" height="3.38" fill="#f7f8fa" />
<rect x="330.11" y="140.72" width="2.01" height="3.38" fill="#e1ebf7" />
<rect x="332.52" y="140.72" width="2.01" height="3.38" fill="#ebf1f9" />
<rect x="334.93" y="140.72" width="2.01" height="3.38" fill="#f4f6f9" />
<rect x="337.34" y="140.72" width="2.01" height="3.38" fill="#dbe7f5" />
<rect x="339.75" y="140.72" width="2.01" height="3.38" fill="#e38757" />
<rect x="342.16" y="140.72" width="2.01" height="3.38" fill="#dbe7f5" />
<rect x="344.57" y="140.72" width="2.01" height="3.38" fill="#fbf4f0" />
<rect x="346.98" y="140.72" width="2.01" height="3.38" fill="#d5e4f3" />
<rect x="349.39" y="140.72" width="2.01" height="3.38" fill="#efa779" />
<rect x="351.80" y="140.72" width="2.01" height="3.38" fill="#edf2f9" />
<rect x="354.21" y="140.72" width="2.01" height="3.38" fill="#fae1d0" />
<rect x="356.62" y="140.72" width="2.01" height="3.38" fill="#d5e4f3" />
<rect x="359.03" y="140.72" width="2.01" height="3.38" fill="#fcf0e8" />
<rect x="361.44" y="140.72" width="2.01" height="3.38" fill="#f3f6f9" />
<rect x="363.85" y="140.72" width="2.01" height="3.38" fill="#fafafa" />
<rect x="366.26" y="140.72" width="2.01" height="3.38" fill="#fcece1" />
<rect x="368.67" y="140.72" width="2.01" height="3.38" fill="#d5e4f3" />
<rect x="371.08" y="140.72" width="2.01" height="3.38" fill="#ebf1f8" />
<rect x="373.49" y="140.72" width="2.01" height="3.38" fill="#e4edf8" />
<rect x="375.90" y="140.72" width="2.01" height="3.38" fill="#faf8f7" />
<rect x="378.31" y="140.72" width="2.01" height="3.38" fill="#f1f5f9" />
<rect x="380.72" y="140.72" width="2.01" height="3.38" fill="#f5f7f9" />
<rect x="383.13" y="140.72" width="2.01" height="3.38" fill="#fbf5f1" />
<rect x="385.54" y="140.72" width="2.01" height="3.38" fill="#e6eef8" />
<rect x="387.95" y="140.72" width="2.01" height="3.38" fill="#f2f5f9" />
<rect x="390.36" y="140.72" width="2.01" height="3.38" fill="#dee9f6" />
<rect x="392.77" y="140.72" width="2.01" height="3.38" fill="#fcede3" />
<rect x="395.18" y="140.72" width="2.01" height="3.38" fill="#fbf5f0" />
<rect x="399.09" y="140.72" width="2.01" height="3.38" fill="#fae3d3" />
<rect x="401.50" y="140.72" width="2.01" height="3.38" fill="#c8dcef" />
<rect x="403.91" y="140.72" width="2.01" height="3.38" fill="#dde8f5" />
<rect x="406.32" y="140.72" width="2.01" height="3.38" fill="#eff3f9" />
<rect x="408.73" y="140.72" width="2.01" height="3.38" fill="#fcefe7" />
<rect x="411.14" y="140.72" width="2.01" height="3.38" fill="#e5edf8" />
<rect x="413.55" y="140.72" width="2.01" height="3.38" fill="#d8e5f4" />
<rect x="415.96" y="140.72" width="2.01" height="3.38" fill="#fadfcd" />
<rect x="418.37" y="140.72" width="2.01" height="3.38" fill="#f0f4f9" />
<rect x="420.78" y="140.72" width="2.01" height="3.38" fill="#f4f6f9" />
<rect x="423.19" y="140.72" width="2.01" height="3.38" fill="#d9e6f4" />
<rect x="425.60" y="140.72" width="2.01" height="3.38" fill="#fadfcd" />
<rect x="428.01" y="140.72" width="2.01" height="3.38" fill="#faf7f5" />
<rect x="430.42" y="140.72" width="2.01" height="3.38" fill="#e9f0f8" />
<rect x="432.83" y="140.72" width="2.01" height="3.38" fill="#eaf0f8" />
<rect x="279.50" y="144.70" width="2.01" height="3.38" fill="#fafafa" />
<rect x="281.91" y="144.70" width="2.01" height="3.38" fill="#f9d7c0" />
<rect x="284.32" y="144.70" width="2.01" height="3.38" fill="#e58b5b" />
<rect x="286.73" y="144.70" width="2.01" height="3.38" fill="#eb9865" />
<rect x="289.14" y="144.70" width="2.01" height="3.38" fill="#f3b892" />
<rect x="291.55" y="144.70" width="2.01" height="3.38" fill="#faf7f5" />
<rect x="293.96" y="144.70" width="2.01" height="3.38" fill="#e8915f" />
<rect x="296.37" y="144.70" width="2.01" height="3.38" fill="#f7ceb2" />
<rect x="298.78" y="144.70" width="2.01" height="3.38" fill="#eef3f9" />
<rect x="301.19" y="144.70" width="2.01" height="3.38" fill="#f5c6a6" />
<rect x="303.60" y="144.70" width="2.01" height="3.38" fill="#f9dac4" />
<rect x="306.01" y="144.70" width="2.01" height="3.38" fill="#eff4f9" />
<rect x="308.42" y="144.70" width="2.01" height="3.38" fill="#f5c6a6" />
<rect x="310.83" y="144.70" width="2.01" height="3.38" fill="#f9d9c3" />
<rect x="313.24" y="144.70" width="2.01" height="3.38" fill="#c7dbef" />
<rect x="315.65" y="144.70" width="2.01" height="3.38" fill="#fadecb" />
<rect x="318.06" y="144.70" width="2.01" height="3.38" fill="#f4f6f9" />
<rect x="320.47" y="144.70" width="2.01" height="3.38" fill="#d6e4f3" />
<rect x="322.88" y="144.70" width="2.01" height="3.38" fill="#fbe7d9" />
<rect x="325.29" y="144.70" width="2.01" height="3.38" fill="#dfeaf6" />
<rect x="327.70" y="144.70" width="2.01" height="3.38" fill="#e3ecf7" />
<rect x="330.11" y="144.70" width="2.01" height="3.38" fill="#f0f4f9" />
<rect x="332.52" y="144.70" width="2.01" height="3.38" fill="#e3ecf7" />
<rect x="334.93" y="144.70" width="2.01" height="3.38" fill="#d1e1f2" />
<rect x="337.34" y="144.70" width="2.01" height="3.38" fill="#a5c3e5" />
<rect x="339.75" y="144.70" width="2.01" height="3.38" fill="#e8eff8" />
<rect x="342.16" y="144.70" width="2.01" height="3.38" fill="#fcefe7" />
<rect x="344.57" y="144.70" width="2.01" height="3.38" fill="#fcefe6" />
<rect x="346.98" y="144.70" width="2.01" height="3.38" fill="#fceade" />
<rect x="349.39" y="144.70" width="2.01" height="3.38" fill="#f9fafa" />
<rect x="351.80" y="144.70" width="2.01" height="3.38" fill="#f5f7f9" />
<rect x="354.21" y="144.70" width="2.01" height="3.38" fill="#d8e5f4" />
<rect x="356.62" y="144.70" width="2.01" height="3.38" fill="#9bbce1" />
<rect x="359.03" y="144.70" width="2.01" height="3.38" fill="#d8e5f4" />
<rect x="361.44" y="144.70" width="2.01" height="3.38" fill="#d6e4f3" />
<rect x="363.85" y="144.70" width="2.01" height="3.38" fill="#d2e2f2" />
<rect x="366.26" y="144.70" width="2.01" height="3.38" fill="#edf2f9" />
<rect x="368.67" y="144.70" width="2.01" height="3.38" fill="#f7f8fa" />
<rect x="371.08" y="144.70" width="2.01" height="3.38" fill="#dbe7f5" />
<rect x="373.49" y="144.70" width="2.01" height="3.38" fill="#fbf5f1" />
<rect x="375.90" y="144.70" width="2.01" height="3.38" fill="#f4f7f9" />
<rect x="378.31" y="144.70" width="2.01" height="3.38" fill="#fbf4f0" />
<rect x="380.72" y="144.70" width="2.01" height="3.38" fill="#fbf2eb" />
<rect x="383.13" y="144.70" width="2.01" height="3.38" fill="#fcefe7" />
<rect x="385.54" y="144.70" width="2.01" height="3.38" fill="#e2ecf7" />
<rect x="387.95" y="144.70" width="2.01" height="3.38" fill="#dbe7f5" />
<rect x="390.36" y="144.70" width="2.01" height="3.38" fill="#eff3f9" />
<rect x="392.77" y="144.70" width="2.01" height="3.38" fill="#fcefe6" />
<rect x="395.18" y="144.70" width="2.01" height="3.38" fill="#a9c6e6" />
<rect x="399.09" y="144.70" width="2.01" height="3.38" fill="#fbf3ee" />
<rect x="401.50" y="144.70" width="2.01" height="3.38" fill="#e1ebf7" />
<rect x="403.91" y="144.70" width="2.01" height="3.38" fill="#fbf5f1" />
<rect x="406.32" y="144.70" width="2.01" height="3.38" fill="#faf9f8" />
<rect x="408.73" y="144.70" width="2.01" height="3.38" fill="#e5edf8" />
<rect x="411.14" y="144.70" width="2.01" height="3.38" fill="#d9e6f4" />
<rect x="413.55" y="144.70" width="2.01" height="3.38" fill="#e6eef8" />
<rect x="415.96" y="144.70" width="2.01" height="3.38" fill="#faf8f6" />
<rect x="418.37" y="144.70" width="2.01" height="3.38" fill="#d0e0f2" />
<rect x="420.78" y="144.70" width="2.01" height="3.38" fill="#f1f5f9" />
<rect x="423.19" y="144.70" width="2.01" height="3.38" fill="#dfe9f6" />
<rect x="425.60" y="144.70" width="2.01" height="3.38" fill="#dde8f5" />
<rect x="428.01" y="144.70" width="2.01" height="3.38" fill="#cfe0f2" />
<rect x="430.42" y="144.70" width="2.01" height="3.38" fill="#c2d8ee" />
<rect x="432.83" y="144.70" width="2.01" height="3.38" fill="#faf9f8" />
<rect x="279.50" y="148.68" width="2.01" height="3.38" fill="#fbe4d4" />
<rect x="281.91" y="148.68" width="2.01" height="3.38" fill="#f0ad81" />
<rect x="284.32" y="148.68" width="2.01" height="3.38" fill="#fceadf" />
<rect x="286.73" y="148.68" width="2.01" height="3.38" fill="#d56a42" />
<rect x="289.14" y="148.68" width="2.01" height="3.38" fill="#e58b5a" />
<rect x="291.55" y="148.68" width="2.01" height="3.38" fill="#ec9c68" />
<rect x="293.96" y="148.68" width="2.01" height="3.38" fill="#f1b289" />
<rect x="296.37" y="148.68" width="2.01" height="3.38" fill="#f8d2b9" />
<rect x="298.78" y="148.68" width="2.01" height="3.38" fill="#fcede3" />
<rect x="301.19" y="148.68" width="2.01" height="3.38" fill="#f8f9fa" />
<rect x="303.60" y="148.68" width="2.01" height="3.38" fill="#f8d2b8" />
<rect x="306.01" y="148.68" width="2.01" height="3.38" fill="#fbe9dd" />
<rect x="308.42" y="148.68" width="2.01" height="3.38" fill="#e8eff8" />
<rect x="310.83" y="148.68" width="2.01" height="3.38" fill="#fbf0e9" />
<rect x="313.24" y="148.68" width="2.01" height="3.38" fill="#fbf0e9" />
<rect x="315.65" y="148.68" width="2.01" height="3.38" fill="#fceee5" />
<rect x="318.06" y="148.68" width="2.01" height="3.38" fill="#efa87a" />
<rect x="320.47" y="148.68" width="2.01" height="3.38" fill="#fcf0e8" />
<rect x="322.88" y="148.68" width="2.01" height="3.38" fill="#fbf3ee" />
<rect x="325.29" y="148.68" width="2.01" height="3.38" fill="#f9fafa" />
<rect x="327.70" y="148.68" width="2.01" height="3.38" fill="#dce8f5" />
<rect x="330.11" y="148.68" width="2.01" height="3.38" fill="#91b5de" />
<rect x="332.52" y="148.68" width="2.01" height="3.38" fill="#e0eaf6" />
<rect x="334.93" y="148.68" width="2.01" height="3.38" fill="#e7eff8" />
<rect x="337.34" y="148.68" width="2.01" height="3.38" fill="#cfe0f2" />
<rect x="339.75" y="148.68" width="2.01" height="3.38" fill="#eff3f9" />
<rect x="342.16" y="148.68" width="2.01" height="3.38" fill="#fafafa" />
<rect x="344.57" y="148.68" width="2.01" height="3.38" fill="#fcefe7" />
<rect x="346.98" y="148.68" width="2.01" height="3.38" fill="#f9dbc6" />
<rect x="349.39" y="148.68" width="2.01" height="3.38" fill="#f0f4f9" />
<rect x="351.80" y="148.68" width="2.01" height="3.38" fill="#d5e3f3" />
<rect x="354.21" y="148.68" width="2.01" height="3.38" fill="#cedff1" />
<rect x="356.62" y="148.68" width="2.01" height="3.38" fill="#fcede3" />
<rect x="359.03" y="148.68" width="2.01" height="3.38" fill="#dce8f5" />
<rect x="361.44" y="148.68" width="2.01" height="3.38" fill="#ecf2f9" />
<rect x="363.85" y="148.68" width="2.01" height="3.38" fill="#fbf6f2" />
<rect x="366.26" y="148.68" width="2.01" height="3.38" fill="#f1f5f9" />
<rect x="368.67" y="148.68" width="2.01" height="3.38" fill="#eea577" />
<rect x="371.08" y="148.68" width="2.01" height="3.38" fill="#f5f7fa" />
<rect x="373.49" y="148.68" width="2.01" height="3.38" fill="#b7d0ea" />
<rect x="375.90" y="148.68" width="2.01" height="3.38" fill="#e7eff8" />
<rect x="378.31" y="148.68" width="2.01" height="3.38" fill="#faf8f6" />
<rect x="380.72" y="148.68" width="2.01" height="3.38" fill="#caddf0" />
<rect x="383.13" y="148.68" width="2.01" height="3.38" fill="#c4d9ee" />
<rect x="385.54" y="148.68" width="2.01" height="3.38" fill="#faf9f7" />
<rect x="387.95" y="148.68" width="2.01" height="3.38" fill="#e5edf8" />
<rect x="390.36" y="148.68" width="2.01" height="3.38" fill="#f9f9fa" />
<rect x="392.77" y="148.68" width="2.01" height="3.38" fill="#b9d2eb" />
<rect x="395.18" y="148.68" width="2.01" height="3.38" fill="#ebf1f9" />
<rect x="399.09" y="148.68" width="2.01" height="3.38" fill="#fbf5f1" />
<rect x="401.50" y="148.68" width="2.01" height="3.38" fill="#f9d7c0" />
<rect x="403.91" y="148.68" width="2.01" height="3.38" fill="#f4c09e" />
<rect x="406.32" y="148.68" width="2.01" height="3.38" fill="#fceee5" />
<rect x="408.73" y="148.68" width="2.01" height="3.38" fill="#f8d5bc" />
<rect x="411.14" y="148.68" width="2.01" height="3.38" fill="#fbf5f2" />
<rect x="413.55" y="148.68" width="2.01" height="3.38" fill="#fcece2" />
<rect x="415.96" y="148.68" width="2.01" height="3.38" fill="#fadfcd" />
<rect x="418.37" y="148.68" width="2.01" height="3.38" fill="#fbf2eb" />
<rect x="420.78" y="148.68" width="2.01" height="3.38" fill="#f7ccaf" />
<rect x="423.19" y="148.68" width="2.01" height="3.38" fill="#fae0ce" />
<rect x="425.60" y="148.68" width="2.01" height="3.38" fill="#f8f9fa" />
<rect x="428.01" y="148.68" width="2.01" height="3.38" fill="#f7f8fa" />
<rect x="430.42" y="148.68" width="2.01" height="3.38" fill="#fbf1ea" />
<rect x="432.83" y="148.68" width="2.01" height="3.38" fill="#e1ebf6" />
<rect x="279.50" y="152.66" width="2.01" height="3.38" fill="#f8d5bd" />
<rect x="281.91" y="152.66" width="2.01" height="3.38" fill="#fceee5" />
<rect x="284.32" y="152.66" width="2.01" height="3.38" fill="#eb9865" />
<rect x="286.73" y="152.66" width="2.01" height="3.38" fill="#e18455" />
<rect x="289.14" y="152.66" width="2.01" height="3.38" fill="#f1b086" />
<rect x="291.55" y="152.66" width="2.01" height="3.38" fill="#f4be9b" />
<rect x="293.96" y="152.66" width="2.01" height="3.38" fill="#e7905f" />
<rect x="296.37" y="152.66" width="2.01" height="3.38" fill="#f7d0b5" />
<rect x="298.78" y="152.66" width="2.01" height="3.38" fill="#f8d5bd" />
<rect x="301.19" y="152.66" width="2.01" height="3.38" fill="#c2d8ee" />
<rect x="303.60" y="152.66" width="2.01" height="3.38" fill="#f9d9c2" />
<rect x="306.01" y="152.66" width="2.01" height="3.38" fill="#fbf5f1" />
<rect x="308.42" y="152.66" width="2.01" height="3.38" fill="#fadfcc" />
<rect x="310.83" y="152.66" width="2.01" height="3.38" fill="#fcefe7" />
<rect x="313.24" y="152.66" width="2.01" height="3.38" fill="#fbe9dc" />
<rect x="315.65" y="152.66" width="2.01" height="3.38" fill="#f8d4bc" />
<rect x="318.06" y="152.66" width="2.01" height="3.38" fill="#f6c9ab" />
<rect x="320.47" y="152.66" width="2.01" height="3.38" fill="#fbf3ee" />
<rect x="322.88" y="152.66" width="2.01" height="3.38" fill="#fadecb" />
<rect x="325.29" y="152.66" width="2.01" height="3.38" fill="#dae7f5" />
<rect x="327.70" y="152.66" width="2.01" height="3.38" fill="#d8e6f4" />
<rect x="330.11" y="152.66" width="2.01" height="3.38" fill="#f8f9fa" />
<rect x="332.52" y="152.66" width="2.01" height="3.38" fill="#dbe7f5" />
<rect x="334.93" y="152.66" width="2.01" height="3.38" fill="#d0e1f2" />
<rect x="337.34" y="152.66" width="2.01" height="3.38" fill="#d6e4f4" />
<rect x="339.75" y="152.66" width="2.01" height="3.38" fill="#fafafa" />
<rect x="342.16" y="152.66" width="2.01" height="3.38" fill="#d0603a" />
<rect x="344.57" y="152.66" width="2.01" height="3.38" fill="#faf8f7" />
<rect x="346.98" y="152.66" width="2.01" height="3.38" fill="#fbf2ec" />
<rect x="349.39" y="152.66" width="2.01" height="3.38" fill="#b6cfea" />
<rect x="351.80" y="152.66" width="2.01" height="3.38" fill="#fafafa" />
<rect x="354.21" y="152.66" width="2.01" height="3.38" fill="#fbf6f3" />
<rect x="356.62" y="152.66" width="2.01" height="3.38" fill="#cbdef0" />
<rect x="359.03" y="152.66" width="2.01" height="3.38" fill="#fafafa" />
<rect x="361.44" y="152.66" width="2.01" height="3.38" fill="#e2ebf7" />
<rect x="363.85" y="152.66" width="2.01" height="3.38" fill="#faf9f8" />
<rect x="366.26" y="152.66" width="2.01" height="3.38" fill="#fbf5f2" />
<rect x="368.67" y="152.66" width="2.01" height="3.38" fill="#fafafa" />
<rect x="371.08" y="152.66" width="2.01" height="3.38" fill="#98bae0" />
<rect x="373.49" y="152.66" width="2.01" height="3.38" fill="#faf7f5" />
<rect x="375.90" y="152.66" width="2.01" height="3.38" fill="#fbe6d8" />
<rect x="378.31" y="152.66" width="2.01" height="3.38" fill="#cfe0f1" />
<rect x="380.72" y="152.66" width="2.01" height="3.38" fill="#f8d5bd" />
<rect x="383.13" y="152.66" width="2.01" height="3.38" fill="#e1ebf7" />
<rect x="385.54" y="152.66" width="2.01" height="3.38" fill="#c8dbef" />
<rect x="387.95" y="152.66" width="2.01" height="3.38" fill="#caddf0" />
<rect x="390.36" y="152.66" width="2.01" height="3.38" fill="#fcece1" />
<rect x="392.77" y="152.66" width="2.01" height="3.38" fill="#faf8f7" />
<rect x="395.18" y="152.66" width="2.01" height="3.38" fill="#dae7f5" />
<rect x="399.09" y="152.66" width="2.01" height="3.38" fill="#fcf0e8" />
<rect x="401.50" y="152.66" width="2.01" height="3.38" fill="#dde8f5" />
<rect x="403.91" y="152.66" width="2.01" height="3.38" fill="#faf8f6" />
<rect x="406.32" y="152.66" width="2.01" height="3.38" fill="#f4f6f9" />
<rect x="408.73" y="152.66" width="2.01" height="3.38" fill="#fae3d3" />
<rect x="411.14" y="152.66" width="2.01" height="3.38" fill="#fcece1" />
<rect x="413.55" y="152.66" width="2.01" height="3.38" fill="#f8d5bc" />
<rect x="415.96" y="152.66" width="2.01" height="3.38" fill="#fae3d2" />
<rect x="418.37" y="152.66" width="2.01" height="3.38" fill="#fbe9dd" />
<rect x="420.78" y="152.66" width="2.01" height="3.38" fill="#f9dbc6" />
<rect x="423.19" y="152.66" width="2.01" height="3.38" fill="#f6c8a9" />
<rect x="425.60" y="152.66" width="2.01" height="3.38" fill="#fceee5" />
<rect x="428.01" y="152.66" width="2.01" height="3.38" fill="#fbe3d4" />
<rect x="430.42" y="152.66" width="2.01" height="3.38" fill="#fcf0e8" />
<rect x="432.83" y="152.66" width="2.01" height="3.38" fill="#fbf4ef" />
<rect x="279.50" y="156.64" width="2.01" height="3.38" fill="#fbf2eb" />
<rect x="281.91" y="156.64" width="2.01" height="3.38" fill="#fbf0e9" />
<rect x="284.32" y="156.64" width="2.01" height="3.38" fill="#eff4f9" />
<rect x="286.73" y="156.64" width="2.01" height="3.38" fill="#fcebdf" />
<rect x="289.14" y="156.64" width="2.01" height="3.38" fill="#ba3f32" />
<rect x="291.55" y="156.64" width="2.01" height="3.38" fill="#f9dcc8" />
<rect x="293.96" y="156.64" width="2.01" height="3.38" fill="#f6cbad" />
<rect x="296.37" y="156.64" width="2.01" height="3.38" fill="#efa87b" />
<rect x="298.78" y="156.64" width="2.01" height="3.38" fill="#fcf0e8" />
<rect x="301.19" y="156.64" width="2.01" height="3.38" fill="#fbe8db" />
<rect x="303.60" y="156.64" width="2.01" height="3.38" fill="#f9d7bf" />
<rect x="306.01" y="156.64" width="2.01" height="3.38" fill="#f4f6f9" />
<rect x="308.42" y="156.64" width="2.01" height="3.38" fill="#fadfcd" />
<rect x="310.83" y="156.64" width="2.01" height="3.38" fill="#c2d8ee" />
<rect x="313.24" y="156.64" width="2.01" height="3.38" fill="#fbf4ef" />
<rect x="315.65" y="156.64" width="2.01" height="3.38" fill="#f9dcc8" />
<rect x="318.06" y="156.64" width="2.01" height="3.38" fill="#f1f4f9" />
<rect x="320.47" y="156.64" width="2.01" height="3.38" fill="#faf7f5" />
<rect x="322.88" y="156.64" width="2.01" height="3.38" fill="#bcd4ec" />
<rect x="325.29" y="156.64" width="2.01" height="3.38" fill="#faf7f5" />
<rect x="327.70" y="156.64" width="2.01" height="3.38" fill="#c8dcef" />
<rect x="330.11" y="156.64" width="2.01" height="3.38" fill="#e9f0f8" />
<rect x="332.52" y="156.64" width="2.01" height="3.38" fill="#fbf3ee" />
<rect x="334.93" y="156.64" width="2.01" height="3.38" fill="#faf9f9" />
<rect x="337.34" y="156.64" width="2.01" height="3.38" fill="#fbf2ed" />
<rect x="339.75" y="156.64" width="2.01" height="3.38" fill="#faf9f9" />
<rect x="342.16" y="156.64" width="2.01" height="3.38" fill="#fbf4f0" />
<rect x="344.57" y="156.64" width="2.01" height="3.38" fill="#d2e2f2" />
<rect x="346.98" y="156.64" width="2.01" height="3.38" fill="#e2ecf7" />
<rect x="349.39" y="156.64" width="2.01" height="3.38" fill="#c0d6ed" />
<rect x="351.80" y="156.64" width="2.01" height="3.38" fill="#f9d9c4" />
<rect x="354.21" y="156.64" width="2.01" height="3.38" fill="#fadfcd" />
<rect x="356.62" y="156.64" width="2.01" height="3.38" fill="#eaf1f8" />
<rect x="359.03" y="156.64" width="2.01" height="3.38" fill="#e0eaf6" />
<rect x="361.44" y="156.64" width="2.01" height="3.38" fill="#faf9f9" />
<rect x="363.85" y="156.64" width="2.01" height="3.38" fill="#d4e3f3" />
<rect x="366.26" y="156.64" width="2.01" height="3.38" fill="#fcefe6" />
<rect x="368.67" y="156.64" width="2.01" height="3.38" fill="#f9dbc6" />
<rect x="371.08" y="156.64" width="2.01" height="3.38" fill="#c1d7ed" />
<rect x="373.49" y="156.64" width="2.01" height="3.38" fill="#dae7f5" />
<rect x="375.90" y="156.64" width="2.01" height="3.38" fill="#fcf0e8" />
<rect x="378.31" y="156.64" width="2.01" height="3.38" fill="#fcede4" />
<rect x="380.72" y="156.64" width="2.01" height="3.38" fill="#fbf6f4" />
<rect x="383.13" y="156.64" width="2.01" height="3.38" fill="#f4f7f9" />
<rect x="385.54" y="156.64" width="2.01" height="3.38" fill="#e9f0f8" />
<rect x="387.95" y="156.64" width="2.01" height="3.38" fill="#f0f4f9" />
<rect x="390.36" y="156.64" width="2.01" height="3.38" fill="#dce8f5" />
<rect x="392.77" y="156.64" width="2.01" height="3.38" fill="#e2ebf7" />
<rect x="395.18" y="156.64" width="2.01" height="3.38" fill="#dfeaf6" />
<rect x="399.09" y="156.64" width="2.01" height="3.38" fill="#f5c6a6" />
<rect x="401.50" y="156.64" width="2.01" height="3.38" fill="#e6eef8" />
<rect x="403.91" y="156.64" width="2.01" height="3.38" fill="#f8d3ba" />
<rect x="406.32" y="156.64" width="2.01" height="3.38" fill="#f3f6f9" />
<rect x="408.73" y="156.64" width="2.01" height="3.38" fill="#f5f7f9" />
<rect x="411.14" y="156.64" width="2.01" height="3.38" fill="#e1ebf7" />
<rect x="413.55" y="156.64" width="2.01" height="3.38" fill="#fbf5f1" />
<rect x="415.96" y="156.64" width="2.01" height="3.38" fill="#fadecb" />
<rect x="418.37" y="156.64" width="2.01" height="3.38" fill="#fcefe6" />
<rect x="420.78" y="156.64" width="2.01" height="3.38" fill="#fbe7d9" />
<rect x="423.19" y="156.64" width="2.01" height="3.38" fill="#fbf5f2" />
<rect x="425.60" y="156.64" width="2.01" height="3.38" fill="#fbe4d4" />
<rect x="428.01" y="156.64" width="2.01" height="3.38" fill="#f2f5f9" />
<rect x="430.42" y="156.64" width="2.01" height="3.38" fill="#fae2d1" />
<rect x="432.83" y="156.64" width="2.01" height="3.38" fill="#fcefe6" />
<rect x="279.50" y="160.62" width="2.01" height="3.38" fill="#fbe4d4" />
<rect x="281.91" y="160.62" width="2.01" height="3.38" fill="#c75337" />
<rect x="284.32" y="160.62" width="2.01" height="3.38" fill="#f2b58d" />
<rect x="286.73" y="160.62" width="2.01" height="3.38" fill="#e28556" />
<rect x="289.14" y="160.62" width="2.01" height="3.38" fill="#ed9d6b" />
<rect x="291.55" y="160.62" width="2.01" height="3.38" fill="#b93e31" />
<rect x="293.96" y="160.62" width="2.01" height="3.38" fill="#f5c6a6" />
<rect x="296.37" y="160.62" width="2.01" height="3.38" fill="#f7d0b4" />
<rect x="298.78" y="160.62" width="2.01" height="3.38" fill="#fae0ce" />
<rect x="301.19" y="160.62" width="2.01" height="3.38" fill="#fcf0e7" />
<rect x="303.60" y="160.62" width="2.01" height="3.38" fill="#f3bb97" />
<rect x="306.01" y="160.62" width="2.01" height="3.38" fill="#f1f4f9" />
<rect x="308.42" y="160.62" width="2.01" height="3.38" fill="#fbf4ef" />
<rect x="310.83" y="160.62" width="2.01" height="3.38" fill="#fbe7da" />
<rect x="313.24" y="160.62" width="2.01" height="3.38" fill="#cedff1" />
<rect x="315.65" y="160.62" width="2.01" height="3.38" fill="#fbe8db" />
<rect x="318.06" y="160.62" width="2.01" height="3.38" fill="#f9f9fa" />
<rect x="320.47" y="160.62" width="2.01" height="3.38" fill="#faf7f5" />
<rect x="322.88" y="160.62" width="2.01" height="3.38" fill="#fcebe0" />
<rect x="325.29" y="160.62" width="2.01" height="3.38" fill="#fbf2ed" />
<rect x="327.70" y="160.62" width="2.01" height="3.38" fill="#f3f6f9" />
<rect x="330.11" y="160.62" width="2.01" height="3.38" fill="#dce8f5" />
<rect x="332.52" y="160.62" width="2.01" height="3.38" fill="#d7e5f4" />
<rect x="334.93" y="160.62" width="2.01" height="3.38" fill="#e5edf8" />
<rect x="337.34" y="160.62" width="2.01" height="3.38" fill="#e2ebf7" />
<rect x="339.75" y="160.62" width="2.01" height="3.38" fill="#c5d9ef" />
<rect x="342.16" y="160.62" width="2.01" height="3.38" fill="#fceee5" />
<rect x="344.57" y="160.62" width="2.01" height="3.38" fill="#fbe7da" />
<rect x="346.98" y="160.62" width="2.01" height="3.38" fill="#c4d9ee" />
<rect x="349.39" y="160.62" width="2.01" height="3.38" fill="#dc784c" />
<rect x="351.80" y="160.62" width="2.01" height="3.38" fill="#fbf4ef" />
<rect x="354.21" y="160.62" width="2.01" height="3.38" fill="#a6c4e5" />
<rect x="356.62" y="160.62" width="2.01" height="3.38" fill="#fbf3ee" />
<rect x="359.03" y="160.62" width="2.01" height="3.38" fill="#eff3f9" />
<rect x="361.44" y="160.62" width="2.01" height="3.38" fill="#fbf6f4" />
<rect x="363.85" y="160.62" width="2.01" height="3.38" fill="#fbf2ed" />
<rect x="366.26" y="160.62" width="2.01" height="3.38" fill="#fceee5" />
<rect x="368.67" y="160.62" width="2.01" height="3.38" fill="#c9dcf0" />
<rect x="371.08" y="160.62" width="2.01" height="3.38" fill="#faf7f5" />
<rect x="373.49" y="160.62" width="2.01" height="3.38" fill="#f1f5f9" />
<rect x="375.90" y="160.62" width="2.01" height="3.38" fill="#faf7f5" />
<rect x="378.31" y="160.62" width="2.01" height="3.38" fill="#c7dbef" />
<rect x="380.72" y="160.62" width="2.01" height="3.38" fill="#d4e3f3" />
<rect x="383.13" y="160.62" width="2.01" height="3.38" fill="#fbf6f3" />
<rect x="385.54" y="160.62" width="2.01" height="3.38" fill="#fbf1ea" />
<rect x="387.95" y="160.62" width="2.01" height="3.38" fill="#fbe7da" />
<rect x="390.36" y="160.62" width="2.01" height="3.38" fill="#c1d7ed" />
<rect x="392.77" y="160.62" width="2.01" height="3.38" fill="#fceee5" />
<rect x="395.18" y="160.62" width="2.01" height="3.38" fill="#e4edf7" />
<rect x="399.09" y="160.62" width="2.01" height="3.38" fill="#fcebe0" />
<rect x="401.50" y="160.62" width="2.01" height="3.38" fill="#fcede3" />
<rect x="403.91" y="160.62" width="2.01" height="3.38" fill="#f9dac4" />
<rect x="406.32" y="160.62" width="2.01" height="3.38" fill="#f8d1b6" />
<rect x="408.73" y="160.62" width="2.01" height="3.38" fill="#fbf4f0" />
<rect x="411.14" y="160.62" width="2.01" height="3.38" fill="#f9dac5" />
<rect x="413.55" y="160.62" width="2.01" height="3.38" fill="#fbe3d3" />
<rect x="415.96" y="160.62" width="2.01" height="3.38" fill="#fbf3ed" />
<rect x="418.37" y="160.62" width="2.01" height="3.38" fill="#f8d5bc" />
<rect x="420.78" y="160.62" width="2.01" height="3.38" fill="#fbf5f1" />
<rect x="423.19" y="160.62" width="2.01" height="3.38" fill="#fcefe6" />
<rect x="425.60" y="160.62" width="2.01" height="3.38" fill="#fbe8da" />
<rect x="428.01" y="160.62" width="2.01" height="3.38" fill="#fbe4d5" />
<rect x="430.42" y="160.62" width="2.01" height="3.38" fill="#fbf4ef" />
<rect x="432.83" y="160.62" width="2.01" height="3.38" fill="#fceee6" />
<rect x="279.50" y="164.60" width="2.01" height="3.38" fill="#fceee4" />
<rect x="281.91" y="164.60" width="2.01" height="3.38" fill="#fae0cf" />
<rect x="284.32" y="164.60" width="2.01" height="3.38" fill="#ec9b68" />
<rect x="286.73" y="164.60" width="2.01" height="3.38" fill="#fbe5d6" />
<rect x="289.14" y="164.60" width="2.01" height="3.38" fill="#f6caac" />
<rect x="291.55" y="164.60" width="2.01" height="3.38" fill="#a9252b" />
<rect x="293.96" y="164.60" width="2.01" height="3.38" fill="#eb9965" />
<rect x="296.37" y="164.60" width="2.01" height="3.38" fill="#f7ceb2" />
<rect x="298.78" y="164.60" width="2.01" height="3.38" fill="#fbf6f2" />
<rect x="301.19" y="164.60" width="2.01" height="3.38" fill="#fbe4d5" />
<rect x="303.60" y="164.60" width="2.01" height="3.38" fill="#f6f7fa" />
<rect x="306.01" y="164.60" width="2.01" height="3.38" fill="#f6f8fa" />
<rect x="308.42" y="164.60" width="2.01" height="3.38" fill="#f0ab7f" />
<rect x="310.83" y="164.60" width="2.01" height="3.38" fill="#ecf1f9" />
<rect x="313.24" y="164.60" width="2.01" height="3.38" fill="#f9dac4" />
<rect x="315.65" y="164.60" width="2.01" height="3.38" fill="#fcefe7" />
<rect x="318.06" y="164.60" width="2.01" height="3.38" fill="#fcefe7" />
<rect x="320.47" y="164.60" width="2.01" height="3.38" fill="#c8dbef" />
<rect x="322.88" y="164.60" width="2.01" height="3.38" fill="#fcf0e8" />
<rect x="325.29" y="164.60" width="2.01" height="3.38" fill="#dae7f5" />
<rect x="327.70" y="164.60" width="2.01" height="3.38" fill="#dbe7f5" />
<rect x="330.11" y="164.60" width="2.01" height="3.38" fill="#d9e6f4" />
<rect x="332.52" y="164.60" width="2.01" height="3.38" fill="#e3ecf7" />
<rect x="334.93" y="164.60" width="2.01" height="3.38" fill="#fbe5d6" />
<rect x="337.34" y="164.60" width="2.01" height="3.38" fill="#fbe7d9" />
<rect x="339.75" y="164.60" width="2.01" height="3.38" fill="#bed5ed" />
<rect x="342.16" y="164.60" width="2.01" height="3.38" fill="#e2ecf7" />
<rect x="344.57" y="164.60" width="2.01" height="3.38" fill="#d7e5f4" />
<rect x="346.98" y="164.60" width="2.01" height="3.38" fill="#f1f4f9" />
<rect x="349.39" y="164.60" width="2.01" height="3.38" fill="#c0d6ed" />
<rect x="351.80" y="164.60" width="2.01" height="3.38" fill="#c6daef" />
<rect x="354.21" y="164.60" width="2.01" height="3.38" fill="#eaf1f8" />
<rect x="356.62" y="164.60" width="2.01" height="3.38" fill="#d8e5f4" />
<rect x="359.03" y="164.60" width="2.01" height="3.38" fill="#fbf2eb" />
<rect x="361.44" y="164.60" width="2.01" height="3.38" fill="#e4edf7" />
<rect x="363.85" y="164.60" width="2.01" height="3.38" fill="#f3f6f9" />
<rect x="366.26" y="164.60" width="2.01" height="3.38" fill="#e0eaf6" />
<rect x="368.67" y="164.60" width="2.01" height="3.38" fill="#fbf5f2" />
<rect x="371.08" y="164.60" width="2.01" height="3.38" fill="#fcf0e8" />
<rect x="373.49" y="164.60" width="2.01" height="3.38" fill="#eaf1f8" />
<rect x="375.90" y="164.60" width="2.01" height="3.38" fill="#dee9f6" />
<rect x="378.31" y="164.60" width="2.01" height="3.38" fill="#faf8f7" />
<rect x="380.72" y="164.60" width="2.01" height="3.38" fill="#eff4f9" />
<rect x="383.13" y="164.60" width="2.01" height="3.38" fill="#fbf3ee" />
<rect x="385.54" y="164.60" width="2.01" height="3.38" fill="#eff3f9" />
<rect x="387.95" y="164.60" width="2.01" height="3.38" fill="#eff4f9" />
<rect x="390.36" y="164.60" width="2.01" height="3.38" fill="#fbf5f2" />
<rect x="392.77" y="164.60" width="2.01" height="3.38" fill="#d7e4f4" />
<rect x="395.18" y="164.60" width="2.01" height="3.38" fill="#cbddf0" />
<rect x="399.09" y="164.60" width="2.01" height="3.38" fill="#faddca" />
<rect x="401.50" y="164.60" width="2.01" height="3.38" fill="#fceadf" />
<rect x="403.91" y="164.60" width="2.01" height="3.38" fill="#f9dbc6" />
<rect x="406.32" y="164.60" width="2.01" height="3.38" fill="#f9d7bf" />
<rect x="408.73" y="164.60" width="2.01" height="3.38" fill="#fadfcd" />
<rect x="411.14" y="164.60" width="2.01" height="3.38" fill="#fbf1e9" />
<rect x="413.55" y="164.60" width="2.01" height="3.38" fill="#f5c5a5" />
<rect x="415.96" y="164.60" width="2.01" height="3.38" fill="#dde8f5" />
<rect x="418.37" y="164.60" width="2.01" height="3.38" fill="#fbf3ee" />
<rect x="420.78" y="164.60" width="2.01" height="3.38" fill="#fafafa" />
<rect x="423.19" y="164.60" width="2.01" height="3.38" fill="#f3bb97" />
<rect x="425.60" y="164.60" width="2.01" height="3.38" fill="#fcede4" />
<rect x="428.01" y="164.60" width="2.01" height="3.38" fill="#fceadf" />
<rect x="430.42" y="164.60" width="2.01" height="3.38" fill="#f9dbc6" />
<rect x="432.83" y="164.60" width="2.01" height="3.38" fill="#f7cdb1" />
<rect x="279.50" y="168.58" width="2.01" height="3.38" fill="#fbf2ec" />
<rect x="281.91" y="168.58" width="2.01" height="3.38" fill="#eea373" />
<rect x="284.32" y="168.58" width="2.01" height="3.38" fill="#eea272" />
<rect x="286.73" y="168.58" width="2.01" height="3.38" fill="#c44f36" />
<rect x="289.14" y="168.58" width="2.01" height="3.38" fill="#faddca" />
<rect x="291.55" y="168.58" width="2.01" height="3.38" fill="#c65136" />
<rect x="293.96" y="168.58" width="2.01" height="3.38" fill="#cfe0f2" />
<rect x="296.37" y="168.58" width="2.01" height="3.38" fill="#fadecc" />
<rect x="298.78" y="168.58" width="2.01" height="3.38" fill="#e38858" />
<rect x="301.19" y="168.58" width="2.01" height="3.38" fill="#f7cfb3" />
<rect x="303.60" y="168.58" width="2.01" height="3.38" fill="#f8d4bb" />
<rect x="306.01" y="168.58" width="2.01" height="3.38" fill="#fbf2ec" />
<rect x="308.42" y="168.58" width="2.01" height="3.38" fill="#fbf6f4" />
<rect x="310.83" y="168.58" width="2.01" height="3.38" fill="#f8d3ba" />
<rect x="313.24" y="168.58" width="2.01" height="3.38" fill="#fbf0e9" />
<rect x="315.65" y="168.58" width="2.01" height="3.38" fill="#fae0ce" />
<rect x="318.06" y="168.58" width="2.01" height="3.38" fill="#fcede2" />
<rect x="320.47" y="168.58" width="2.01" height="3.38" fill="#f9d9c3" />
<rect x="322.88" y="168.58" width="2.01" height="3.38" fill="#fae1cf" />
<rect x="325.29" y="168.58" width="2.01" height="3.38" fill="#e3ecf7" />
<rect x="327.70" y="168.58" width="2.01" height="3.38" fill="#faf9f8" />
<rect x="330.11" y="168.58" width="2.01" height="3.38" fill="#fbe9dc" />
<rect x="332.52" y="168.58" width="2.01" height="3.38" fill="#fcede3" />
<rect x="334.93" y="168.58" width="2.01" height="3.38" fill="#e4edf7" />
<rect x="337.34" y="168.58" width="2.01" height="3.38" fill="#fbe8da" />
<rect x="339.75" y="168.58" width="2.01" height="3.38" fill="#fbf4ef" />
<rect x="342.16" y="168.58" width="2.01" height="3.38" fill="#faf7f5" />
<rect x="344.57" y="168.58" width="2.01" height="3.38" fill="#dbe7f5" />
<rect x="346.98" y="168.58" width="2.01" height="3.38" fill="#f9fafa" />
<rect x="349.39" y="168.58" width="2.01" height="3.38" fill="#faf9f9" />
<rect x="351.80" y="168.58" width="2.01" height="3.38" fill="#b3cde9" />
<rect x="354.21" y="168.58" width="2.01" height="3.38" fill="#dfeaf6" />
<rect x="356.62" y="168.58" width="2.01" height="3.38" fill="#c5daef" />
<rect x="359.03" y="168.58" width="2.01" height="3.38" fill="#bdd5ec" />
<rect x="361.44" y="168.58" width="2.01" height="3.38" fill="#f3f6f9" />
<rect x="363.85" y="168.58" width="2.01" height="3.38" fill="#fbf4ef" />
<rect x="366.26" y="168.58" width="2.01" height="3.38" fill="#ecf2f9" />
<rect x="368.67" y="168.58" width="2.01" height="3.38" fill="#c5daef" />
<rect x="371.08" y="168.58" width="2.01" height="3.38" fill="#caddf0" />
<rect x="373.49" y="168.58" width="2.01" height="3.38" fill="#fbf4f0" />
<rect x="375.90" y="168.58" width="2.01" height="3.38" fill="#e7eff8" />
<rect x="378.31" y="168.58" width="2.01" height="3.38" fill="#da7449" />
<rect x="380.72" y="168.58" width="2.01" height="3.38" fill="#e5edf8" />
<rect x="383.13" y="168.58" width="2.01" height="3.38" fill="#f1f5f9" />
<rect x="385.54" y="168.58" width="2.01" height="3.38" fill="#dbe7f5" />
<rect x="387.95" y="168.58" width="2.01" height="3.38" fill="#dbe7f5" />
<rect x="390.36" y="168.58" width="2.01" height="3.38" fill="#c8dbef" />
<rect x="392.77" y="168.58" width="2.01" height="3.38" fill="#eef3f9" />
<rect x="395.18" y="168.58" width="2.01" height="3.38" fill="#ebf1f9" />
<rect x="399.09" y="168.58" width="2.01" height="3.38" fill="#f7cfb4" />
<rect x="401.50" y="168.58" width="2.01" height="3.38" fill="#f1b289" />
<rect x="403.91" y="168.58" width="2.01" height="3.38" fill="#fae2d2" />
<rect x="406.32" y="168.58" width="2.01" height="3.38" fill="#cfe0f2" />
<rect x="408.73" y="168.58" width="2.01" height="3.38" fill="#faf9f8" />
<rect x="411.14" y="168.58" width="2.01" height="3.38" fill="#f6cbad" />
<rect x="413.55" y="168.58" width="2.01" height="3.38" fill="#faddc9" />
<rect x="415.96" y="168.58" width="2.01" height="3.38" fill="#fbe9dd" />
<rect x="418.37" y="168.58" width="2.01" height="3.38" fill="#fbf5f1" />
<rect x="420.78" y="168.58" width="2.01" height="3.38" fill="#fadcc9" />
<rect x="423.19" y="168.58" width="2.01" height="3.38" fill="#fae0ce" />
<rect x="425.60" y="168.58" width="2.01" height="3.38" fill="#f8d0b6" />
<rect x="428.01" y="168.58" width="2.01" height="3.38" fill="#f6caac" />
<rect x="430.42" y="168.58" width="2.01" height="3.38" fill="#f5c4a4" />
<rect x="432.83" y="168.58" width="2.01" height="3.38" fill="#f8d2b9" />
<rect x="279.50" y="172.56" width="2.01" height="3.38" fill="#fbf4ef" />
<rect x="281.91" y="172.56" width="2.01" height="3.38" fill="#efa677" />
<rect x="284.32" y="172.56" width="2.01" height="3.38" fill="#e18354" />
<rect x="286.73" y="172.56" width="2.01" height="3.38" fill="#ab292c" />
<rect x="289.14" y="172.56" width="2.01" height="3.38" fill="#fbf5f1" />
<rect x="291.55" y="172.56" width="2.01" height="3.38" fill="#b83b31" />
<rect x="293.96" y="172.56" width="2.01" height="3.38" fill="#fbf6f3" />
<rect x="296.37" y="172.56" width="2.01" height="3.38" fill="#f2b892" />
<rect x="298.78" y="172.56" width="2.01" height="3.38" fill="#fbe6d8" />
<rect x="301.19" y="172.56" width="2.01" height="3.38" fill="#f1b38b" />
<rect x="303.60" y="172.56" width="2.01" height="3.38" fill="#fae0ce" />
<rect x="306.01" y="172.56" width="2.01" height="3.38" fill="#d0e1f2" />
<rect x="308.42" y="172.56" width="2.01" height="3.38" fill="#f2f5f9" />
<rect x="310.83" y="172.56" width="2.01" height="3.38" fill="#f8d2b8" />
<rect x="313.24" y="172.56" width="2.01" height="3.38" fill="#fadeca" />
<rect x="315.65" y="172.56" width="2.01" height="3.38" fill="#fbf6f3" />
<rect x="318.06" y="172.56" width="2.01" height="3.38" fill="#faf7f5" />
<rect x="320.47" y="172.56" width="2.01" height="3.38" fill="#f9dbc6" />
<rect x="322.88" y="172.56" width="2.01" height="3.38" fill="#fcebe0" />
<rect x="325.29" y="172.56" width="2.01" height="3.38" fill="#fbf7f4" />
<rect x="327.70" y="172.56" width="2.01" height="3.38" fill="#fcf0e8" />
<rect x="330.11" y="172.56" width="2.01" height="3.38" fill="#eff3f9" />
<rect x="332.52" y="172.56" width="2.01" height="3.38" fill="#d2e2f2" />
<rect x="334.93" y="172.56" width="2.01" height="3.38" fill="#c5daef" />
<rect x="337.34" y="172.56" width="2.01" height="3.38" fill="#b4cee9" />
<rect x="339.75" y="172.56" width="2.01" height="3.38" fill="#f9dac4" />
<rect x="342.16" y="172.56" width="2.01" height="3.38" fill="#f4f6f9" />
<rect x="344.57" y="172.56" width="2.01" height="3.38" fill="#fbe6d8" />
<rect x="346.98" y="172.56" width="2.01" height="3.38" fill="#f3f6f9" />
<rect x="349.39" y="172.56" width="2.01" height="3.38" fill="#f0f4f9" />
<rect x="351.80" y="172.56" width="2.01" height="3.38" fill="#f4f6f9" />
<rect x="354.21" y="172.56" width="2.01" height="3.38" fill="#f5f7f9" />
<rect x="356.62" y="172.56" width="2.01" height="3.38" fill="#cadcf0" />
<rect x="359.03" y="172.56" width="2.01" height="3.38" fill="#ecf2f9" />
<rect x="361.44" y="172.56" width="2.01" height="3.38" fill="#fbf2ec" />
<rect x="363.85" y="172.56" width="2.01" height="3.38" fill="#fadcc8" />
<rect x="366.26" y="172.56" width="2.01" height="3.38" fill="#e2ebf7" />
<rect x="368.67" y="172.56" width="2.01" height="3.38" fill="#f9fafa" />
<rect x="371.08" y="172.56" width="2.01" height="3.38" fill="#fbf6f3" />
<rect x="373.49" y="172.56" width="2.01" height="3.38" fill="#fceadf" />
<rect x="375.90" y="172.56" width="2.01" height="3.38" fill="#faf9f8" />
<rect x="378.31" y="172.56" width="2.01" height="3.38" fill="#e4edf8" />
<rect x="380.72" y="172.56" width="2.01" height="3.38" fill="#fbe5d7" />
<rect x="383.13" y="172.56" width="2.01" height="3.38" fill="#f6f8fa" />
<rect x="385.54" y="172.56" width="2.01" height="3.38" fill="#f1f4f9" />
<rect x="387.95" y="172.56" width="2.01" height="3.38" fill="#f7ceb2" />
<rect x="390.36" y="172.56" width="2.01" height="3.38" fill="#c6daef" />
<rect x="392.77" y="172.56" width="2.01" height="3.38" fill="#edf2f9" />
<rect x="395.18" y="172.56" width="2.01" height="3.38" fill="#d1e1f2" />
<rect x="399.09" y="172.56" width="2.01" height="3.38" fill="#f5c6a6" />
<rect x="401.50" y="172.56" width="2.01" height="3.38" fill="#fbf5f1" />
<rect x="403.91" y="172.56" width="2.01" height="3.38" fill="#fae2d1" />
<rect x="406.32" y="172.56" width="2.01" height="3.38" fill="#fadecc" />
<rect x="408.73" y="172.56" width="2.01" height="3.38" fill="#fcece1" />
<rect x="411.14" y="172.56" width="2.01" height="3.38" fill="#fbe7d9" />
<rect x="413.55" y="172.56" width="2.01" height="3.38" fill="#fcede4" />
<rect x="415.96" y="172.56" width="2.01" height="3.38" fill="#fbf1ea" />
<rect x="418.37" y="172.56" width="2.01" height="3.38" fill="#fbf4ef" />
<rect x="420.78" y="172.56" width="2.01" height="3.38" fill="#fae2d1" />
<rect x="423.19" y="172.56" width="2.01" height="3.38" fill="#fcece1" />
<rect x="425.60" y="172.56" width="2.01" height="3.38" fill="#fbf6f3" />
<rect x="428.01" y="172.56" width="2.01" height="3.38" fill="#fceee5" />
<rect x="430.42" y="172.56" width="2.01" height="3.38" fill="#f2b68f" />
<rect x="432.83" y="172.56" width="2.01" height="3.38" fill="#faf9f9" />
<rect x="279.50" y="176.54" width="2.01" height="3.38" fill="#eea271" />
<rect x="281.91" y="176.54" width="2.01" height="3.38" fill="#fbf0e9" />
<rect x="284.32" y="176.54" width="2.01" height="3.38" fill="#f3b993" />
<rect x="286.73" y="176.54" width="2.01" height="3.38" fill="#eea373" />
<rect x="289.14" y="176.54" width="2.01" height="3.38" fill="#fbf3ee" />
<rect x="291.55" y="176.54" width="2.01" height="3.38" fill="#eda06f" />
<rect x="293.96" y="176.54" width="2.01" height="3.38" fill="#f9d7c0" />
<rect x="296.37" y="176.54" width="2.01" height="3.38" fill="#f1b289" />
<rect x="298.78" y="176.54" width="2.01" height="3.38" fill="#fbf1ea" />
<rect x="301.19" y="176.54" width="2.01" height="3.38" fill="#fbf3ee" />
<rect x="303.60" y="176.54" width="2.01" height="3.38" fill="#f8d1b6" />
<rect x="306.01" y="176.54" width="2.01" height="3.38" fill="#fbf4ef" />
<rect x="308.42" y="176.54" width="2.01" height="3.38" fill="#f6f7fa" />
<rect x="310.83" y="176.54" width="2.01" height="3.38" fill="#faf8f6" />
<rect x="313.24" y="176.54" width="2.01" height="3.38" fill="#f9d8c2" />
<rect x="315.65" y="176.54" width="2.01" height="3.38" fill="#d6e4f3" />
<rect x="318.06" y="176.54" width="2.01" height="3.38" fill="#fbf6f4" />
<rect x="320.47" y="176.54" width="2.01" height="3.38" fill="#f8d0b6" />
<rect x="322.88" y="176.54" width="2.01" height="3.38" fill="#fceee4" />
<rect x="325.29" y="176.54" width="2.01" height="3.38" fill="#eff3f9" />
<rect x="327.70" y="176.54" width="2.01" height="3.38" fill="#dde8f5" />
<rect x="330.11" y="176.54" width="2.01" height="3.38" fill="#fbf2eb" />
<rect x="332.52" y="176.54" width="2.01" height="3.38" fill="#fafafa" />
<rect x="334.93" y="176.54" width="2.01" height="3.38" fill="#e2ebf7" />
<rect x="337.34" y="176.54" width="2.01" height="3.38" fill="#dde8f5" />
<rect x="339.75" y="176.54" width="2.01" height="3.38" fill="#cbddf0" />
<rect x="342.16" y="176.54" width="2.01" height="3.38" fill="#caddf0" />
<rect x="344.57" y="176.54" width="2.01" height="3.38" fill="#f8f9fa" />
<rect x="346.98" y="176.54" width="2.01" height="3.38" fill="#faf9f8" />
<rect x="349.39" y="176.54" width="2.01" height="3.38" fill="#e0eaf6" />
<rect x="351.80" y="176.54" width="2.01" height="3.38" fill="#fbf6f3" />
<rect x="354.21" y="176.54" width="2.01" height="3.38" fill="#dbe7f5" />
<rect x="356.62" y="176.54" width="2.01" height="3.38" fill="#f8f9fa" />
<rect x="359.03" y="176.54" width="2.01" height="3.38" fill="#b4cee9" />
<rect x="361.44" y="176.54" width="2.01" height="3.38" fill="#fbf4f0" />
<rect x="363.85" y="176.54" width="2.01" height="3.38" fill="#fbe3d3" />
<rect x="366.26" y="176.54" width="2.01" height="3.38" fill="#fbf4f0" />
<rect x="368.67" y="176.54" width="2.01" height="3.38" fill="#ecf2f9" />
<rect x="371.08" y="176.54" width="2.01" height="3.38" fill="#faf9f9" />
<rect x="373.49" y="176.54" width="2.01" height="3.38" fill="#eff3f9" />
<rect x="375.90" y="176.54" width="2.01" height="3.38" fill="#f1f4f9" />
<rect x="378.31" y="176.54" width="2.01" height="3.38" fill="#ecf2f9" />
<rect x="380.72" y="176.54" width="2.01" height="3.38" fill="#faf9f9" />
<rect x="383.13" y="176.54" width="2.01" height="3.38" fill="#e4edf7" />
<rect x="385.54" y="176.54" width="2.01" height="3.38" fill="#ebf1f9" />
<rect x="387.95" y="176.54" width="2.01" height="3.38" fill="#e0eaf6" />
<rect x="390.36" y="176.54" width="2.01" height="3.38" fill="#fbf6f2" />
<rect x="392.77" y="176.54" width="2.01" height="3.38" fill="#fcede3" />
<rect x="395.18" y="176.54" width="2.01" height="3.38" fill="#fbf5f2" />
<rect x="399.09" y="176.54" width="2.01" height="3.38" fill="#fadcc8" />
<rect x="401.50" y="176.54" width="2.01" height="3.38" fill="#f6c8aa" />
<rect x="403.91" y="176.54" width="2.01" height="3.38" fill="#fbf4ef" />
<rect x="406.32" y="176.54" width="2.01" height="3.38" fill="#f2b791" />
<rect x="408.73" y="176.54" width="2.01" height="3.38" fill="#e6eef8" />
<rect x="411.14" y="176.54" width="2.01" height="3.38" fill="#f9d8c1" />
<rect x="413.55" y="176.54" width="2.01" height="3.38" fill="#fbe3d3" />
<rect x="415.96" y="176.54" width="2.01" height="3.38" fill="#fadecb" />
<rect x="418.37" y="176.54" width="2.01" height="3.38" fill="#f2f5f9" />
<rect x="420.78" y="176.54" width="2.01" height="3.38" fill="#f7ceb2" />
<rect x="423.19" y="176.54" width="2.01" height="3.38" fill="#fae1cf" />
<rect x="425.60" y="176.54" width="2.01" height="3.38" fill="#fbe4d4" />
<rect x="428.01" y="176.54" width="2.01" height="3.38" fill="#f8d1b6" />
<rect x="430.42" y="176.54" width="2.01" height="3.38" fill="#fbe3d3" />
<rect x="432.83" y="176.54" width="2.01" height="3.38" fill="#fbe4d4" />
<rect x="279.45" y="40.10" width="2.11" height="2.60" fill="#5eab3e" />
<rect x="281.86" y="40.10" width="2.11" height="2.60" fill="#5eab3e" />
<rect x="284.27" y="40.10" width="2.11" height="2.60" fill="#5eab3e" />
<rect x="286.68" y="40.10" width="2.11" height="2.60" fill="#e68a14" />
<rect x="289.09" y="40.10" width="2.11" height="2.60" fill="#e68a14" />
<rect x="291.50" y="40.10" width="2.11" height="2.60" fill="#e68a14" />
<rect x="293.91" y="40.10" width="2.11" height="2.60" fill="#e68a14" />
<rect x="296.32" y="40.10" width="2.11" height="2.60" fill="#5eab3e" />
<rect x="298.73" y="40.10" width="2.11" height="2.60" fill="#5eab3e" />
<rect x="301.14" y="40.10" width="2.11" height="2.60" fill="#5eab3e" />
<rect x="303.55" y="40.10" width="2.11" height="2.60" fill="#5eab3e" />
<rect x="305.96" y="40.10" width="2.11" height="2.60" fill="#5eab3e" />
<rect x="308.37" y="40.10" width="2.11" height="2.60" fill="#5eab3e" />
<rect x="310.78" y="40.10" width="2.11" height="2.60" fill="#e68a14" />
<rect x="313.19" y="40.10" width="2.11" height="2.60" fill="#5eab3e" />
<rect x="315.60" y="40.10" width="2.11" height="2.60" fill="#5eab3e" />
<rect x="318.01" y="40.10" width="2.11" height="2.60" fill="#5eab3e" />
<rect x="320.42" y="40.10" width="2.11" height="2.60" fill="#5eab3e" />
<rect x="322.83" y="40.10" width="2.11" height="2.60" fill="#5eab3e" />
<rect x="325.24" y="40.10" width="2.11" height="2.60" fill="#5eab3e" />
<rect x="327.65" y="40.10" width="2.11" height="2.60" fill="#5eab3e" />
<rect x="330.06" y="40.10" width="2.11" height="2.60" fill="#5eab3e" />
<rect x="332.47" y="40.10" width="2.11" height="2.60" fill="#5eab3e" />
<rect x="334.88" y="40.10" width="2.11" height="2.60" fill="#5eab3e" />
<rect x="337.29" y="40.10" width="2.11" height="2.60" fill="#5eab3e" />
<rect x="339.70" y="40.10" width="2.11" height="2.60" fill="#5eab3e" />
<rect x="342.11" y="40.10" width="2.11" height="2.60" fill="#5eab3e" />
<rect x="344.52" y="40.10" width="2.11" height="2.60" fill="#5eab3e" />
<rect x="346.93" y="40.10" width="2.11" height="2.60" fill="#5eab3e" />
<rect x="349.34" y="40.10" width="2.11" height="2.60" fill="#5eab3e" />
<rect x="351.75" y="40.10" width="2.11" height="2.60" fill="#5eab3e" />
<rect x="354.16" y="40.10" width="2.11" height="2.60" fill="#5eab3e" />
<rect x="356.57" y="40.10" width="2.11" height="2.60" fill="#5eab3e" />
<rect x="358.98" y="40.10" width="2.11" height="2.60" fill="#5eab3e" />
<rect x="361.39" y="40.10" width="2.11" height="2.60" fill="#5eab3e" />
<rect x="363.80" y="40.10" width="2.11" height="2.60" fill="#5eab3e" />
<rect x="366.21" y="40.10" width="2.11" height="2.60" fill="#5eab3e" />
<rect x="368.62" y="40.10" width="2.11" height="2.60" fill="#5eab3e" />
<rect x="371.03" y="40.10" width="2.11" height="2.60" fill="#5eab3e" />
<rect x="373.44" y="40.10" width="2.11" height="2.60" fill="#5eab3e" />
<rect x="375.85" y="40.10" width="2.11" height="2.60" fill="#5eab3e" />
<rect x="378.26" y="40.10" width="2.11" height="2.60" fill="#5eab3e" />
<rect x="380.67" y="40.10" width="2.11" height="2.60" fill="#5eab3e" />
<rect x="383.08" y="40.10" width="2.11" height="2.60" fill="#e68a14" />
<rect x="385.49" y="40.10" width="2.11" height="2.60" fill="#5eab3e" />
<rect x="387.90" y="40.10" width="2.11" height="2.60" fill="#e68a14" />
<rect x="390.31" y="40.10" width="2.11" height="2.60" fill="#e68a14" />
<rect x="392.72" y="40.10" width="2.11" height="2.60" fill="#e68a14" />
<rect x="395.13" y="40.10" width="2.11" height="2.60" fill="#5eab3e" />
<rect x="399.04" y="40.10" width="2.11" height="2.60" fill="#5eab3e" />
<rect x="401.45" y="40.10" width="2.11" height="2.60" fill="#e68a14" />
<rect x="403.86" y="40.10" width="2.11" height="2.60" fill="#e68a14" />
<rect x="406.27" y="40.10" width="2.11" height="2.60" fill="#e68a14" />
<rect x="408.68" y="40.10" width="2.11" height="2.60" fill="#e68a14" />
<rect x="411.09" y="40.10" width="2.11" height="2.60" fill="#e68a14" />
<rect x="413.50" y="40.10" width="2.11" height="2.60" fill="#e68a14" />
<rect x="415.91" y="40.10" width="2.11" height="2.60" fill="#e68a14" />
<rect x="418.32" y="40.10" width="2.11" height="2.60" fill="#e68a14" />
<rect x="420.73" y="40.10" width="2.11" height="2.60" fill="#e68a14" />
<rect x="423.14" y="40.10" width="2.11" height="2.60" fill="#e68a14" />
<rect x="425.55" y="40.10" width="2.11" height="2.60" fill="#e68a14" />
<rect x="427.96" y="40.10" width="2.11" height="2.60" fill="#e68a14" />
<rect x="430.37" y="40.10" width="2.11" height="2.60" fill="#e68a14" />
<rect x="432.78" y="40.10" width="2.11" height="2.60" fill="#5eab3e" />
<path d="M280.50,40.00L280.50,34.15 M282.92,40.00L282.92,34.15 M280.50,34.15L282.92,34.15 M287.74,40.00L287.74,33.88 M290.14,40.00L290.14,33.88 M287.74,33.88L290.14,33.88 M285.32,40.00L285.32,33.32 M288.94,33.88L288.94,33.32 M285.32,33.32L288.94,33.32 M292.56,40.00L292.56,34.35 M294.96,40.00L294.96,34.35 M292.56,34.35L294.96,34.35 M287.13,33.32L287.13,33.05 M293.76,34.35L293.76,33.05 M287.13,33.05L293.76,33.05 M302.19,40.00L302.19,33.70 M304.61,40.00L304.61,33.70 M302.19,33.70L304.61,33.70 M299.79,40.00L299.79,33.44 M303.40,33.70L303.40,33.44 M299.79,33.44L303.40,33.44 M297.38,40.00L297.38,32.76 M301.59,33.44L301.59,32.76 M297.38,32.76L301.59,32.76 M307.01,40.00L307.01,33.52 M309.43,40.00L309.43,33.52 M307.01,33.52L309.43,33.52 M299.48,32.76L299.48,32.08 M308.22,33.52L308.22,32.08 M299.48,32.08L308.22,32.08 M311.83,40.00L311.83,34.01 M314.25,40.00L314.25,34.01 M311.83,34.01L314.25,34.01 M303.85,32.08L303.85,31.74 M313.04,34.01L313.04,31.74 M303.85,31.74L313.04,31.74 M319.06,40.00L319.06,33.78 M321.47,40.00L321.47,33.78 M319.06,33.78L321.47,33.78 M316.66,40.00L316.66,33.32 M320.27,33.78L320.27,33.32 M316.66,33.32L320.27,33.32 M326.30,40.00L326.30,34.35 M328.70,40.00L328.70,34.35 M326.30,34.35L328.70,34.35 M323.88,40.00L323.88,34.01 M327.50,34.35L327.50,34.01 M323.88,34.01L327.50,34.01 M318.46,33.32L318.46,32.97 M325.69,34.01L325.69,32.97 M318.46,32.97L325.69,32.97 M308.45,31.74L308.45,30.85 M322.08,32.97L322.08,30.85 M308.45,30.85L322.08,30.85 M290.45,33.05L290.45,29.88 M315.26,30.85L315.26,29.88 M290.45,29.88L315.26,29.88 M331.12,40.00L331.12,33.95 M333.52,40.00L333.52,33.95 M331.12,33.95L333.52,33.95 M335.94,40.00L335.94,34.52 M338.34,40.00L338.34,34.52 M335.94,34.52L338.34,34.52 M337.14,34.52L337.14,34.02 M340.75,40.00L340.75,34.02 M337.14,34.02L340.75,34.02 M332.32,33.95L332.32,33.26 M338.95,34.02L338.95,33.26 M332.32,33.26L338.95,33.26 M343.17,40.00L343.17,34.35 M345.57,40.00L345.57,34.35 M343.17,34.35L345.57,34.35 M347.99,40.00L347.99,34.40 M350.39,40.00L350.39,34.40 M347.99,34.40L350.39,34.40 M344.37,34.35L344.37,34.00 M349.19,34.40L349.19,34.00 M344.37,34.00L349.19,34.00 M335.63,33.26L335.63,32.98 M346.78,34.00L346.78,32.98 M335.63,32.98L346.78,32.98 M352.81,40.00L352.81,33.79 M355.21,40.00L355.21,33.79 M352.81,33.79L355.21,33.79 M354.01,33.79L354.01,33.50 M357.62,40.00L357.62,33.50 M354.01,33.50L357.62,33.50 M367.26,40.00L367.26,33.74 M369.68,40.00L369.68,33.74 M367.26,33.74L369.68,33.74 M364.86,40.00L364.86,33.23 M368.47,33.74L368.47,33.23 M364.86,33.23L368.47,33.23 M362.44,40.00L362.44,32.80 M366.66,33.23L366.66,32.80 M362.44,32.80L366.66,32.80 M364.55,32.80L364.55,32.59 M372.08,40.00L372.08,32.59 M364.55,32.59L372.08,32.59 M368.32,32.59L368.32,32.13 M374.50,40.00L374.50,32.13 M368.32,32.13L374.50,32.13 M360.04,40.00L360.04,31.88 M371.41,32.13L371.41,31.88 M360.04,31.88L371.41,31.88 M355.82,33.50L355.82,31.35 M365.72,31.88L365.72,31.35 M355.82,31.35L365.72,31.35 M379.31,40.00L379.31,34.17 M381.72,40.00L381.72,34.17 M379.31,34.17L381.72,34.17 M376.91,40.00L376.91,33.63 M380.52,34.17L380.52,33.63 M376.91,33.63L380.52,33.63 M386.55,40.00L386.55,34.38 M388.95,40.00L388.95,34.38 M386.55,34.38L388.95,34.38 M387.75,34.38L387.75,33.70 M391.37,40.00L391.37,33.70 M387.75,33.70L391.37,33.70 M384.13,40.00L384.13,33.33 M389.56,33.70L389.56,33.33 M384.13,33.33L389.56,33.33 M378.71,33.63L378.71,32.70 M386.85,33.33L386.85,32.70 M378.71,32.70L386.85,32.70 M393.78,40.00L393.78,33.65 M396.19,40.00L396.19,33.65 M393.78,33.65L396.19,33.65 M382.78,32.70L382.78,32.26 M394.98,33.65L394.98,32.26 M382.78,32.26L394.98,32.26 M360.77,31.35L360.77,30.69 M388.88,32.26L388.88,30.69 M360.77,30.69L388.88,30.69 M341.21,32.98L341.21,30.06 M374.82,30.69L374.82,30.06 M341.21,30.06L374.82,30.06 M302.85,29.88L302.85,28.84 M358.02,30.06L358.02,28.84 M302.85,28.84L358.02,28.84 M281.71,34.15L281.71,27.80 M330.43,28.84L330.43,27.80 M281.71,27.80L330.43,27.80 M402.50,40.00L402.50,32.33 M404.92,40.00L404.92,32.33 M402.50,32.33L404.92,32.33 M407.32,40.00L407.32,31.95 M409.74,40.00L409.74,31.95 M407.32,31.95L409.74,31.95 M403.71,32.33L403.71,31.47 M408.53,31.95L408.53,31.47 M403.71,31.47L408.53,31.47 M414.56,40.00L414.56,32.00 M416.96,40.00L416.96,32.00 M414.56,32.00L416.96,32.00 M412.15,40.00L412.15,31.48 M415.76,32.00L415.76,31.48 M412.15,31.48L415.76,31.48 M419.38,40.00L419.38,31.93 M421.79,40.00L421.79,31.93 M419.38,31.93L421.79,31.93 M420.58,31.93L420.58,30.98 M424.19,40.00L424.19,30.98 M420.58,30.98L424.19,30.98 M431.43,40.00L431.43,31.47 M433.83,40.00L433.83,31.47 M431.43,31.47L433.83,31.47 M429.02,40.00L429.02,31.19 M432.63,31.47L432.63,31.19 M429.02,31.19L432.63,31.19 M426.61,40.00L426.61,30.28 M430.82,31.19L430.82,30.28 M426.61,30.28L430.82,30.28 M422.39,30.98L422.39,29.68 M428.71,30.28L428.71,29.68 M422.39,29.68L428.71,29.68 M413.95,31.48L413.95,28.87 M425.55,29.68L425.55,28.87 M413.95,28.87L425.55,28.87 M406.12,31.47L406.12,27.69 M419.75,28.87L419.75,27.69 M406.12,27.69L419.75,27.69 M400.09,40.00L400.09,26.30 M412.94,27.69L412.94,26.30 M400.09,26.30L412.94,26.30 M306.07,27.80L306.07,24.3L406.52,24.3L406.52,26.30" stroke="#2a2a2a" stroke-width="0.55" fill="none"/>
<path d="M279.00,53.85L271.55,53.85 M279.00,57.83L271.55,57.83 M271.55,53.85L271.55,57.83 M279.00,49.87L270.71,49.87 M271.55,55.84L270.71,55.84 M270.71,49.87L270.71,55.84 M279.00,45.89L270.22,45.89 M270.71,52.85L270.22,52.85 M270.22,45.89L270.22,52.85 M279.00,73.75L272.29,73.75 M279.00,77.73L272.29,77.73 M272.29,73.75L272.29,77.73 M279.00,69.77L271.70,69.77 M272.29,75.74L271.70,75.74 M271.70,69.77L271.70,75.74 M279.00,65.79L270.99,65.79 M271.70,72.75L270.99,72.75 M270.99,65.79L270.99,72.75 M279.00,61.81L270.32,61.81 M270.99,69.27L270.32,69.27 M270.32,61.81L270.32,69.27 M270.32,65.54L270.06,65.54 M279.00,81.71L270.06,81.71 M270.06,65.54L270.06,81.71 M279.00,85.69L272.49,85.69 M279.00,89.67L272.49,89.67 M272.49,85.69L272.49,89.67 M279.00,93.65L271.38,93.65 M279.00,97.63L271.38,97.63 M271.38,93.65L271.38,97.63 M271.38,95.64L271.12,95.64 M279.00,101.61L271.12,101.61 M271.12,95.64L271.12,101.61 M272.49,87.68L270.51,87.68 M271.12,98.62L270.51,98.62 M270.51,87.68L270.51,98.62 M270.06,73.63L268.95,73.63 M270.51,93.15L268.95,93.15 M268.95,73.63L268.95,93.15 M279.00,105.59L272.16,105.59 M279.00,109.57L272.16,109.57 M272.16,105.59L272.16,109.57 M279.00,113.55L271.59,113.55 M279.00,117.53L271.59,117.53 M271.59,113.55L271.59,117.53 M272.16,107.58L271.07,107.58 M271.59,115.54L271.07,115.54 M271.07,107.58L271.07,115.54 M268.95,83.39L267.69,83.39 M271.07,111.56L267.69,111.56 M267.69,83.39L267.69,111.56 M270.22,49.37L267.00,49.37 M267.69,97.47L267.00,97.47 M267.00,49.37L267.00,97.47 M279.00,122.51L271.82,122.51 M279.00,126.49L271.82,126.49 M271.82,122.51L271.82,126.49 M279.00,130.47L272.58,130.47 M279.00,134.45L272.58,134.45 M272.58,130.47L272.58,134.45 M279.00,138.43L271.84,138.43 M279.00,142.41L271.84,142.41 M271.84,138.43L271.84,142.41 M271.84,140.42L271.50,140.42 M279.00,146.39L271.50,146.39 M271.50,140.42L271.50,146.39 M272.58,132.46L270.72,132.46 M271.50,143.41L270.72,143.41 M270.72,132.46L270.72,143.41 M270.72,137.93L270.09,137.93 M279.00,150.37L270.09,150.37 M270.09,137.93L270.09,150.37 M270.09,144.15L269.45,144.15 M279.00,154.35L269.45,154.35 M269.45,144.15L269.45,154.35 M271.82,124.50L269.18,124.50 M269.45,149.25L269.18,149.25 M269.18,124.50L269.18,149.25 M279.00,166.29L272.13,166.29 M279.00,170.27L272.13,170.27 M272.13,166.29L272.13,170.27 M272.13,168.28L271.71,168.28 M279.00,174.25L271.71,174.25 M271.71,168.28L271.71,174.25 M279.00,162.31L271.45,162.31 M271.71,171.27L271.45,171.27 M271.45,162.31L271.45,171.27 M271.45,166.79L270.87,166.79 M279.00,178.23L270.87,178.23 M270.87,166.79L270.87,178.23 M279.00,158.33L270.61,158.33 M270.87,172.51L270.61,172.51 M270.61,158.33L270.61,172.51 M269.18,136.88L268.00,136.88 M270.61,165.42L268.00,165.42 M268.00,136.88L268.00,165.42 M267.00,73.42L264.6,73.42L264.6,151.15L268.00,151.15" stroke="#2a2a2a" stroke-width="0.55" fill="none"/>
<text x="437.60" y="47.39" font-size="4.3" text-anchor="start" font-weight="normal" font-style="normal" fill="#000" stroke="#000" stroke-width="0.12">FCAR</text>
<text x="437.60" y="51.37" font-size="4.3" text-anchor="start" font-weight="normal" font-style="normal" fill="#000" stroke="#000" stroke-width="0.12">CXCR2</text>
<text x="437.60" y="55.35" font-size="4.3" text-anchor="start" font-weight="normal" font-style="normal" fill="#000" stroke="#000" stroke-width="0.12">PRF1</text>
<text x="437.60" y="59.33" font-size="4.3" text-anchor="start" font-weight="normal" font-style="normal" fill="#000" stroke="#000" stroke-width="0.12">GIMAP6</text>
<text x="437.60" y="63.31" font-size="4.3" text-anchor="start" font-weight="normal" font-style="normal" fill="#000" stroke="#000" stroke-width="0.12">CD79A</text>
<text x="437.60" y="67.29" font-size="4.3" text-anchor="start" font-weight="normal" font-style="normal" fill="#000" stroke="#000" stroke-width="0.12">CXCL8</text>
<text x="437.60" y="71.27" font-size="4.3" text-anchor="start" font-weight="normal" font-style="normal" fill="#000" stroke="#000" stroke-width="0.12">ITGB3</text>
<text x="437.60" y="75.25" font-size="4.3" text-anchor="start" font-weight="normal" font-style="normal" fill="#000" stroke="#000" stroke-width="0.12">OASL</text>
<text x="437.60" y="79.23" font-size="4.3" text-anchor="start" font-weight="normal" font-style="normal" fill="#000" stroke="#000" stroke-width="0.12">THBS1</text>
<text x="437.60" y="83.21" font-size="4.3" text-anchor="start" font-weight="normal" font-style="normal" fill="#000" stroke="#000" stroke-width="0.12">IL33</text>
<text x="437.60" y="87.19" font-size="4.3" text-anchor="start" font-weight="normal" font-style="normal" fill="#000" stroke="#000" stroke-width="0.12">GBP1</text>
<text x="437.60" y="91.17" font-size="4.3" text-anchor="start" font-weight="normal" font-style="normal" fill="#000" stroke="#000" stroke-width="0.12">CXCL2</text>
<text x="437.60" y="95.15" font-size="4.3" text-anchor="start" font-weight="normal" font-style="normal" fill="#000" stroke="#000" stroke-width="0.12">CD79B</text>
<text x="437.60" y="99.13" font-size="4.3" text-anchor="start" font-weight="normal" font-style="normal" fill="#000" stroke="#000" stroke-width="0.12">FAM30A</text>
<text x="437.60" y="103.11" font-size="4.3" text-anchor="start" font-weight="normal" font-style="normal" fill="#000" stroke="#000" stroke-width="0.12">RIPK2</text>
<text x="437.60" y="107.09" font-size="4.3" text-anchor="start" font-weight="normal" font-style="normal" fill="#000" stroke="#000" stroke-width="0.12">DUSP5</text>
<text x="437.60" y="111.07" font-size="4.3" text-anchor="start" font-weight="normal" font-style="normal" fill="#000" stroke="#000" stroke-width="0.12">CCL2</text>
<text x="437.60" y="115.05" font-size="4.3" text-anchor="start" font-weight="normal" font-style="normal" fill="#000" stroke="#000" stroke-width="0.12">PTGER4</text>
<text x="437.60" y="119.03" font-size="4.3" text-anchor="start" font-weight="normal" font-style="normal" fill="#000" stroke="#000" stroke-width="0.12">CXCL1</text>
<text x="437.60" y="124.01" font-size="4.3" text-anchor="start" font-weight="normal" font-style="normal" fill="#000" stroke="#000" stroke-width="0.12">CCL3L1</text>
<text x="437.60" y="127.99" font-size="4.3" text-anchor="start" font-weight="normal" font-style="normal" fill="#000" stroke="#000" stroke-width="0.12">THBD</text>
<text x="437.60" y="131.97" font-size="4.3" text-anchor="start" font-weight="normal" font-style="normal" fill="#000" stroke="#000" stroke-width="0.12">CCR2</text>
<text x="437.60" y="135.95" font-size="4.3" text-anchor="start" font-weight="normal" font-style="normal" fill="#000" stroke="#000" stroke-width="0.12">IFNG</text>
<text x="437.60" y="139.93" font-size="4.3" text-anchor="start" font-weight="normal" font-style="normal" fill="#000" stroke="#000" stroke-width="0.12">MS4A1</text>
<text x="437.60" y="143.91" font-size="4.3" text-anchor="start" font-weight="normal" font-style="normal" fill="#000" stroke="#000" stroke-width="0.12">MYCT1</text>
<text x="437.60" y="147.89" font-size="4.3" text-anchor="start" font-weight="normal" font-style="normal" fill="#000" stroke="#000" stroke-width="0.12">CD19</text>
<text x="437.60" y="151.87" font-size="4.3" text-anchor="start" font-weight="normal" font-style="normal" fill="#000" stroke="#000" stroke-width="0.12">CX3CR1</text>
<text x="437.60" y="155.85" font-size="4.3" text-anchor="start" font-weight="normal" font-style="normal" fill="#000" stroke="#000" stroke-width="0.12">CSF1</text>
<text x="437.60" y="159.83" font-size="4.3" text-anchor="start" font-weight="normal" font-style="normal" fill="#000" stroke="#000" stroke-width="0.12">VTCN1</text>
<text x="437.60" y="163.81" font-size="4.3" text-anchor="start" font-weight="normal" font-style="normal" fill="#000" stroke="#000" stroke-width="0.12">CD2</text>
<text x="437.60" y="167.79" font-size="4.3" text-anchor="start" font-weight="normal" font-style="normal" fill="#000" stroke="#000" stroke-width="0.12">MARCO</text>
<text x="437.60" y="171.77" font-size="4.3" text-anchor="start" font-weight="normal" font-style="normal" fill="#000" stroke="#000" stroke-width="0.12">IL6</text>
<text x="437.60" y="175.75" font-size="4.3" text-anchor="start" font-weight="normal" font-style="normal" fill="#000" stroke="#000" stroke-width="0.12">NT5E</text>
<text x="437.60" y="179.73" font-size="4.3" text-anchor="start" font-weight="normal" font-style="normal" fill="#000" stroke="#000" stroke-width="0.12">BBC3</text>
<text x="437.60" y="42.70" font-size="4.35" text-anchor="start" font-weight="bold" font-style="normal" fill="#111"  stroke="#111" stroke-width="0.1">TP53 status</text>
<defs><linearGradient id="cbar" x1="0" y1="0" x2="0" y2="1"><stop offset="0" stop-color="#8c0a22"/><stop offset="0.13" stop-color="#9e1027"/><stop offset="0.38" stop-color="#e3865f"/><stop offset="0.5" stop-color="#f8eee8"/><stop offset="0.63" stop-color="#f4f7fb"/><stop offset="0.88" stop-color="#4f83c3"/><stop offset="1" stop-color="#1f4f9c"/></linearGradient></defs>
<rect x="472.10" y="39.20" width="2.40" height="40.60" fill="url(#cbar)" />
<text x="477.30" y="46.00" font-size="4.1" text-anchor="start" font-weight="normal" font-style="normal" fill="#222"  stroke="#222" stroke-width="0.1">4</text>
<text x="477.30" y="56.10" font-size="4.1" text-anchor="start" font-weight="normal" font-style="normal" fill="#222"  stroke="#222" stroke-width="0.1">2</text>
<text x="477.30" y="66.20" font-size="4.1" text-anchor="start" font-weight="normal" font-style="normal" fill="#222"  stroke="#222" stroke-width="0.1">0</text>
<text x="477.30" y="76.50" font-size="4.1" text-anchor="start" font-weight="normal" font-style="normal" fill="#222"  stroke="#222" stroke-width="0.1">−2</text>
<text x="486.00" y="42.80" font-size="4.35" text-anchor="start" font-weight="bold" font-style="normal" fill="#111"  stroke="#111" stroke-width="0.1">TP53 status</text>
<rect x="486.00" y="47.20" width="4.40" height="4.00" fill="#5eab3e" />
<rect x="486.00" y="51.30" width="4.40" height="4.20" fill="#e68a14" />
<text x="493.80" y="50.60" font-size="4.1" text-anchor="start" font-weight="normal" font-style="normal" fill="#222"  stroke="#222" stroke-width="0.1">Mutated</text>
<text x="493.80" y="55.40" font-size="4.1" text-anchor="start" font-weight="normal" font-style="normal" fill="#222"  stroke="#222" stroke-width="0.1">WT</text>
</g>
<g id="C">
<line x1="30.24" y1="290.04" x2="60.24" y2="300.04" stroke="#cdd94e" stroke-width="0.6" />
<line x1="30.00" y1="290.75" x2="60.00" y2="300.75" stroke="#6cc8e8" stroke-width="0.6" />
<line x1="29.76" y1="291.46" x2="59.76" y2="301.46" stroke="#b94ab8" stroke-width="0.8" />
<line x1="59.88" y1="299.63" x2="98.68" y2="295.58" stroke="#b94ab8" stroke-width="0.8" />
<line x1="59.96" y1="300.38" x2="98.76" y2="296.33" stroke="#cdd94e" stroke-width="0.6" />
<line x1="60.04" y1="301.12" x2="98.84" y2="297.07" stroke="#b94ab8" stroke-width="0.8" />
<line x1="60.12" y1="301.87" x2="98.92" y2="297.82" stroke="#6cc8e8" stroke-width="0.6" />
<line x1="59.92" y1="300.38" x2="115.12" y2="289.03" stroke="#cdd94e" stroke-width="0.6" />
<line x1="60.08" y1="301.12" x2="115.28" y2="289.77" stroke="#6cc8e8" stroke-width="0.6" />
<line x1="60.24" y1="300.04" x2="115.44" y2="319.09" stroke="#b94ab8" stroke-width="0.8" />
<line x1="60.00" y1="300.75" x2="115.20" y2="319.80" stroke="#cdd94e" stroke-width="0.6" />
<line x1="59.76" y1="301.46" x2="114.96" y2="320.51" stroke="#b94ab8" stroke-width="0.8" />
<line x1="60.46" y1="300.15" x2="96.46" y2="327.70" stroke="#b94ab8" stroke-width="0.8" />
<line x1="60.00" y1="300.75" x2="96.00" y2="328.30" stroke="#cdd94e" stroke-width="0.6" />
<line x1="59.54" y1="301.35" x2="95.54" y2="328.90" stroke="#6cc8e8" stroke-width="0.6" />
<line x1="98.67" y1="263.09" x2="99.17" y2="296.69" stroke="#cdd94e" stroke-width="0.6" />
<line x1="97.93" y1="263.11" x2="98.43" y2="296.71" stroke="#6cc8e8" stroke-width="0.6" />
<line x1="98.62" y1="262.90" x2="115.52" y2="289.20" stroke="#cdd94e" stroke-width="0.6" />
<line x1="97.98" y1="263.30" x2="114.88" y2="289.60" stroke="#6cc8e8" stroke-width="0.6" />
<line x1="98.30" y1="263.10" x2="96.00" y2="328.30" stroke="#6cc8e8" stroke-width="0.6" />
<line x1="98.50" y1="296.01" x2="114.90" y2="288.71" stroke="#b94ab8" stroke-width="0.8" />
<line x1="98.80" y1="296.70" x2="115.20" y2="289.40" stroke="#cdd94e" stroke-width="0.6" />
<line x1="99.10" y1="297.39" x2="115.50" y2="290.09" stroke="#6cc8e8" stroke-width="0.6" />
<line x1="99.11" y1="296.48" x2="115.51" y2="319.58" stroke="#cdd94e" stroke-width="0.6" />
<line x1="98.49" y1="296.92" x2="114.89" y2="320.02" stroke="#6cc8e8" stroke-width="0.6" />
<line x1="99.17" y1="296.73" x2="96.37" y2="328.33" stroke="#222222" stroke-width="0.8" />
<line x1="98.43" y1="296.67" x2="95.63" y2="328.27" stroke="#6cc8e8" stroke-width="0.6" />
<line x1="115.58" y1="289.40" x2="115.58" y2="319.80" stroke="#cdd94e" stroke-width="0.6" />
<line x1="114.83" y1="289.40" x2="114.83" y2="319.80" stroke="#6cc8e8" stroke-width="0.6" />
<line x1="115.54" y1="289.57" x2="96.34" y2="328.47" stroke="#222222" stroke-width="0.8" />
<line x1="114.86" y1="289.23" x2="95.66" y2="328.13" stroke="#6cc8e8" stroke-width="0.6" />
<line x1="115.29" y1="289.04" x2="148.89" y2="297.64" stroke="#cdd94e" stroke-width="0.6" />
<line x1="115.11" y1="289.76" x2="148.71" y2="298.36" stroke="#6cc8e8" stroke-width="0.6" />
<line x1="98.81" y1="296.33" x2="148.81" y2="297.63" stroke="#cdd94e" stroke-width="0.6" />
<line x1="98.79" y1="297.07" x2="148.79" y2="298.37" stroke="#6cc8e8" stroke-width="0.6" />
<line x1="115.54" y1="289.25" x2="139.14" y2="343.85" stroke="#cdd94e" stroke-width="0.6" />
<line x1="114.86" y1="289.55" x2="138.46" y2="344.15" stroke="#6cc8e8" stroke-width="0.6" />
<line x1="98.80" y1="296.70" x2="138.80" y2="344.00" stroke="#cdd94e" stroke-width="0.6" />
<line x1="115.35" y1="320.14" x2="96.15" y2="328.64" stroke="#cdd94e" stroke-width="0.6" />
<line x1="115.05" y1="319.46" x2="95.85" y2="327.96" stroke="#6cc8e8" stroke-width="0.6" />
<line x1="115.47" y1="319.54" x2="139.07" y2="343.74" stroke="#cdd94e" stroke-width="0.6" />
<line x1="114.93" y1="320.06" x2="138.53" y2="344.26" stroke="#6cc8e8" stroke-width="0.6" />
<line x1="96.13" y1="327.95" x2="138.93" y2="343.65" stroke="#cdd94e" stroke-width="0.6" />
<line x1="95.87" y1="328.65" x2="138.67" y2="344.35" stroke="#6cc8e8" stroke-width="0.6" />
<line x1="148.45" y1="297.86" x2="161.35" y2="264.96" stroke="#cdd94e" stroke-width="0.6" />
<line x1="149.15" y1="298.14" x2="162.05" y2="265.24" stroke="#6cc8e8" stroke-width="0.6" />
<line x1="148.48" y1="297.32" x2="178.18" y2="283.52" stroke="#b94ab8" stroke-width="0.8" />
<line x1="148.80" y1="298.00" x2="178.50" y2="284.20" stroke="#cdd94e" stroke-width="0.6" />
<line x1="149.12" y1="298.68" x2="178.82" y2="284.88" stroke="#6cc8e8" stroke-width="0.6" />
<line x1="162.26" y1="264.60" x2="179.06" y2="283.70" stroke="#b94ab8" stroke-width="0.8" />
<line x1="161.70" y1="265.10" x2="178.50" y2="284.20" stroke="#cdd94e" stroke-width="0.6" />
<line x1="161.14" y1="265.60" x2="177.94" y2="284.70" stroke="#6cc8e8" stroke-width="0.6" />
<line x1="149.17" y1="298.08" x2="139.17" y2="344.08" stroke="#cdd94e" stroke-width="0.6" />
<line x1="148.43" y1="297.92" x2="138.43" y2="343.92" stroke="#6cc8e8" stroke-width="0.6" />
<line x1="98.64" y1="262.93" x2="139.14" y2="343.83" stroke="#cdd94e" stroke-width="0.6" />
<line x1="97.96" y1="263.27" x2="138.46" y2="344.17" stroke="#6cc8e8" stroke-width="0.6" />
<line x1="60.00" y1="300.75" x2="138.80" y2="344.00" stroke="#cdd94e" stroke-width="0.6" />
<line x1="187.49" y1="308.46" x2="217.09" y2="304.26" stroke="#6cc8e8" stroke-width="0.6" />
<line x1="187.60" y1="309.20" x2="217.20" y2="305.00" stroke="#cdd94e" stroke-width="0.6" />
<line x1="187.71" y1="309.94" x2="217.31" y2="305.74" stroke="#b94ab8" stroke-width="0.8" />
<line x1="166.79" y1="328.56" x2="196.39" y2="324.26" stroke="#b94ab8" stroke-width="0.8" />
<line x1="166.90" y1="329.30" x2="196.50" y2="325.00" stroke="#cdd94e" stroke-width="0.6" />
<line x1="167.01" y1="330.04" x2="196.61" y2="325.74" stroke="#6cc8e8" stroke-width="0.6" />
<line x1="138.79" y1="343.63" x2="213.19" y2="341.93" stroke="#cdd94e" stroke-width="0.6" />
<line x1="138.81" y1="344.37" x2="213.21" y2="342.67" stroke="#8a8a70" stroke-width="0.6" />
<line x1="139.08" y1="343.30" x2="185.28" y2="361.70" stroke="#b94ab8" stroke-width="0.8" />
<line x1="138.80" y1="344.00" x2="185.00" y2="362.40" stroke="#cdd94e" stroke-width="0.6" />
<line x1="138.52" y1="344.70" x2="184.72" y2="363.10" stroke="#6cc8e8" stroke-width="0.6" />
<line x1="139.13" y1="344.18" x2="117.33" y2="384.38" stroke="#cdd94e" stroke-width="0.6" />
<line x1="138.47" y1="343.82" x2="116.67" y2="384.02" stroke="#222222" stroke-width="0.8" />
<line x1="139.17" y1="343.94" x2="146.87" y2="388.14" stroke="#cdd94e" stroke-width="0.6" />
<line x1="138.43" y1="344.06" x2="146.13" y2="388.26" stroke="#6cc8e8" stroke-width="0.6" />
<line x1="139.13" y1="344.17" x2="106.63" y2="406.77" stroke="#cdd94e" stroke-width="0.6" />
<line x1="138.47" y1="343.83" x2="105.97" y2="406.43" stroke="#8a8a70" stroke-width="0.6" />
<line x1="139.17" y1="344.04" x2="131.67" y2="412.04" stroke="#cdd94e" stroke-width="0.6" />
<line x1="138.43" y1="343.96" x2="130.93" y2="411.96" stroke="#6cc8e8" stroke-width="0.6" />
<line x1="117.05" y1="383.83" x2="146.55" y2="387.83" stroke="#cdd94e" stroke-width="0.6" />
<line x1="116.95" y1="384.57" x2="146.45" y2="388.57" stroke="#6cc8e8" stroke-width="0.6" />
<line x1="117.68" y1="384.52" x2="106.98" y2="406.92" stroke="#b94ab8" stroke-width="0.8" />
<line x1="117.00" y1="384.20" x2="106.30" y2="406.60" stroke="#cdd94e" stroke-width="0.6" />
<line x1="116.32" y1="383.88" x2="105.62" y2="406.28" stroke="#6cc8e8" stroke-width="0.6" />
<line x1="117.33" y1="384.03" x2="131.63" y2="411.83" stroke="#cdd94e" stroke-width="0.6" />
<line x1="116.67" y1="384.37" x2="130.97" y2="412.17" stroke="#6cc8e8" stroke-width="0.6" />
<line x1="106.14" y1="406.26" x2="146.34" y2="387.86" stroke="#b94ab8" stroke-width="0.8" />
<line x1="106.46" y1="406.94" x2="146.66" y2="388.54" stroke="#7b6fd0" stroke-width="0.6" />
<line x1="106.46" y1="405.87" x2="131.46" y2="411.27" stroke="#b94ab8" stroke-width="0.8" />
<line x1="106.30" y1="406.60" x2="131.30" y2="412.00" stroke="#cdd94e" stroke-width="0.6" />
<line x1="106.14" y1="407.33" x2="131.14" y2="412.73" stroke="#6cc8e8" stroke-width="0.6" />
<line x1="146.82" y1="388.40" x2="131.62" y2="412.20" stroke="#cdd94e" stroke-width="0.6" />
<line x1="146.18" y1="388.00" x2="130.98" y2="411.80" stroke="#6cc8e8" stroke-width="0.6" />
<defs><radialGradient id="g0" cx="0.5" cy="0.62" r="0.56"><stop offset="0" stop-color="#e4ccc7"/><stop offset="0.55" stop-color="#d7b3ac"/><stop offset="0.8" stop-color="#cb9d93"/><stop offset="0.92" stop-color="#82635c"/><stop offset="1" stop-color="#503d39"/></radialGradient><radialGradient id="g1" cx="0.5" cy="0.62" r="0.56"><stop offset="0" stop-color="#cbe7c3"/><stop offset="0.55" stop-color="#b2dca6"/><stop offset="0.8" stop-color="#9cd18c"/><stop offset="0.92" stop-color="#628758"/><stop offset="1" stop-color="#3c5336"/></radialGradient><radialGradient id="g2" cx="0.5" cy="0.62" r="0.56"><stop offset="0" stop-color="#bcdfb0"/><stop offset="0.55" stop-color="#9bd08a"/><stop offset="0.8" stop-color="#7ec267"/><stop offset="0.92" stop-color="#4e7c3f"/><stop offset="1" stop-color="#304c26"/></radialGradient><radialGradient id="g3" cx="0.5" cy="0.62" r="0.56"><stop offset="0" stop-color="#f0f0f0"/><stop offset="0.55" stop-color="#e9e9e9"/><stop offset="0.8" stop-color="#e3e3e3"/><stop offset="0.92" stop-color="#929292"/><stop offset="1" stop-color="#5a5a5a"/></radialGradient><radialGradient id="g4" cx="0.5" cy="0.62" r="0.56"><stop offset="0" stop-color="#f0f0f0"/><stop offset="0.55" stop-color="#e9e9e9"/><stop offset="0.8" stop-color="#e3e3e3"/><stop offset="0.92" stop-color="#929292"/><stop offset="1" stop-color="#5a5a5a"/></radialGradient><radialGradient id="g5" cx="0.5" cy="0.62" r="0.56"><stop offset="0" stop-color="#f0f0f0"/><stop offset="0.55" stop-color="#e9e9e9"/><stop offset="0.8" stop-color="#e3e3e3"/><stop offset="0.92" stop-color="#929292"/><stop offset="1" stop-color="#5a5a5a"/></radialGradient><radialGradient id="g6" cx="0.5" cy="0.62" r="0.56"><stop offset="0" stop-color="#f0f0f0"/><stop offset="0.55" stop-color="#e9e9e9"/><stop offset="0.8" stop-color="#e3e3e3"/><stop offset="0.92" stop-color="#929292"/><stop offset="1" stop-color="#5a5a5a"/></radialGradient><radialGradient id="g7" cx="0.5" cy="0.62" r="0.56"><stop offset="0" stop-color="#f2f2f2"/><stop offset="0.55" stop-color="#ececec"/><stop offset="0.8" stop-color="#e7e7e7"/><stop offset="0.92" stop-color="#959595"/><stop offset="1" stop-color="#5c5c5c"/></radialGradient><radialGradient id="g8" cx="0.5" cy="0.62" r="0.56"><stop offset="0" stop-color="#daebc6"/><stop offset="0.55" stop-color="#c8e2aa"/><stop offset="0.8" stop-color="#b7d991"/><stop offset="0.92" stop-color="#758c5b"/><stop offset="1" stop-color="#485638"/></radialGradient><radialGradient id="g9" cx="0.5" cy="0.62" r="0.56"><stop offset="0" stop-color="#cde2f0"/><stop offset="0.55" stop-color="#b5d4e9"/><stop offset="0.8" stop-color="#9fc8e3"/><stop offset="0.92" stop-color="#658092"/><stop offset="1" stop-color="#3e4f5a"/></radialGradient><radialGradient id="g10" cx="0.5" cy="0.62" r="0.56"><stop offset="0" stop-color="#a5aada"/><stop offset="0.55" stop-color="#7981c8"/><stop offset="0.8" stop-color="#525bb7"/><stop offset="0.92" stop-color="#303775"/><stop offset="1" stop-color="#1e2248"/></radialGradient><radialGradient id="g11" cx="0.5" cy="0.62" r="0.56"><stop offset="0" stop-color="#ebe8c6"/><stop offset="0.55" stop-color="#e2ddab"/><stop offset="0.8" stop-color="#d9d392"/><stop offset="0.92" stop-color="#8c885c"/><stop offset="1" stop-color="#565438"/></radialGradient><radialGradient id="g12" cx="0.5" cy="0.62" r="0.56"><stop offset="0" stop-color="#e3999e"/><stop offset="0.55" stop-color="#d6686f"/><stop offset="0.8" stop-color="#ca3c44"/><stop offset="0.92" stop-color="#822127"/><stop offset="1" stop-color="#501418"/></radialGradient><radialGradient id="g13" cx="0.5" cy="0.62" r="0.56"><stop offset="0" stop-color="#e8cfd4"/><stop offset="0.55" stop-color="#dcb7bf"/><stop offset="0.8" stop-color="#d2a2ac"/><stop offset="0.92" stop-color="#87676d"/><stop offset="1" stop-color="#533f43"/></radialGradient><radialGradient id="g14" cx="0.5" cy="0.62" r="0.56"><stop offset="0" stop-color="#ece3cf"/><stop offset="0.55" stop-color="#e2d6b8"/><stop offset="0.8" stop-color="#dacaa3"/><stop offset="0.92" stop-color="#8d8268"/><stop offset="1" stop-color="#565040"/></radialGradient><radialGradient id="g15" cx="0.5" cy="0.62" r="0.56"><stop offset="0" stop-color="#ebdac6"/><stop offset="0.55" stop-color="#e2c8ab"/><stop offset="0.8" stop-color="#d9b892"/><stop offset="0.92" stop-color="#8c765c"/><stop offset="1" stop-color="#564838"/></radialGradient><radialGradient id="g16" cx="0.5" cy="0.62" r="0.56"><stop offset="0" stop-color="#b7dcd6"/><stop offset="0.55" stop-color="#94cbc2"/><stop offset="0.8" stop-color="#74bbb0"/><stop offset="0.92" stop-color="#487870"/><stop offset="1" stop-color="#2c4a45"/></radialGradient><radialGradient id="g17" cx="0.5" cy="0.62" r="0.56"><stop offset="0" stop-color="#eaeed1"/><stop offset="0.55" stop-color="#dfe6bb"/><stop offset="0.8" stop-color="#d6dfa7"/><stop offset="0.92" stop-color="#8a906a"/><stop offset="1" stop-color="#555841"/></radialGradient><radialGradient id="g18" cx="0.5" cy="0.62" r="0.56"><stop offset="0" stop-color="#cde7c7"/><stop offset="0.55" stop-color="#b5dbac"/><stop offset="0.8" stop-color="#9fd094"/><stop offset="0.92" stop-color="#65865d"/><stop offset="1" stop-color="#3e5239"/></radialGradient><radialGradient id="g19" cx="0.5" cy="0.62" r="0.56"><stop offset="0" stop-color="#e3efcb"/><stop offset="0.55" stop-color="#d5e7b2"/><stop offset="0.8" stop-color="#c9e09b"/><stop offset="0.92" stop-color="#819062"/><stop offset="1" stop-color="#4f593c"/></radialGradient><radialGradient id="g20" cx="0.5" cy="0.62" r="0.56"><stop offset="0" stop-color="#e9dacd"/><stop offset="0.55" stop-color="#dec8b5"/><stop offset="0.8" stop-color="#d4b79f"/><stop offset="0.92" stop-color="#897565"/><stop offset="1" stop-color="#54483e"/></radialGradient><radialGradient id="g21" cx="0.5" cy="0.62" r="0.56"><stop offset="0" stop-color="#d4edc9"/><stop offset="0.55" stop-color="#bfe4af"/><stop offset="0.8" stop-color="#acdc97"/><stop offset="0.92" stop-color="#6d8e5f"/><stop offset="1" stop-color="#43573a"/></radialGradient><radialGradient id="g22" cx="0.5" cy="0.62" r="0.56"><stop offset="0" stop-color="#e1deb0"/><stop offset="0.55" stop-color="#d3ce8a"/><stop offset="0.8" stop-color="#c6bf68"/><stop offset="0.92" stop-color="#7f7a3f"/><stop offset="1" stop-color="#4e4b27"/></radialGradient><radialGradient id="g23" cx="0.5" cy="0.62" r="0.56"><stop offset="0" stop-color="#d2ebcd"/><stop offset="0.55" stop-color="#bce1b5"/><stop offset="0.8" stop-color="#a8d89f"/><stop offset="0.92" stop-color="#6b8b65"/><stop offset="1" stop-color="#42563e"/></radialGradient><radialGradient id="g24" cx="0.5" cy="0.62" r="0.56"><stop offset="0" stop-color="#c2e3d0"/><stop offset="0.55" stop-color="#a5d6ba"/><stop offset="0.8" stop-color="#8acaa5"/><stop offset="0.92" stop-color="#578269"/><stop offset="1" stop-color="#355040"/></radialGradient><radialGradient id="g25" cx="0.5" cy="0.62" r="0.56"><stop offset="0" stop-color="#c4bfe8"/><stop offset="0.55" stop-color="#a8a0dc"/><stop offset="0.8" stop-color="#8e84d2"/><stop offset="0.92" stop-color="#595287"/><stop offset="1" stop-color="#373253"/></radialGradient><radialGradient id="g26" cx="0.5" cy="0.62" r="0.56"><stop offset="0" stop-color="#eaedc9"/><stop offset="0.55" stop-color="#e0e4af"/><stop offset="0.8" stop-color="#d7dc98"/><stop offset="0.92" stop-color="#8b8e60"/><stop offset="1" stop-color="#55573b"/></radialGradient><linearGradient id="hl" x1="0" y1="0" x2="0" y2="1"><stop offset="0" stop-color="#fff" stop-opacity="0.95"/><stop offset="1" stop-color="#fff" stop-opacity="0.15"/></linearGradient></defs>
<circle cx="30.00" cy="290.75" r="6.50" fill="url(#g0)" stroke="#503d39" stroke-width="0.45"/>
<polyline points="27.48,290.50 29.50,291.87 32.64,291.55 31.70,291.11 31.52,291.13 28.65,292.08" fill="none" stroke="#82635c" stroke-width="0.45" stroke-opacity="0.75"/>
<ellipse cx="30.00" cy="287.05" rx="3.7" ry="1.8" fill="url(#hl)"/>
<circle cx="60.00" cy="300.75" r="6.50" fill="url(#g1)" stroke="#3c5336" stroke-width="0.45"/>
<polyline points="58.90,299.00 59.81,302.53 61.01,299.54 59.36,301.82 62.45,301.21 61.39,301.60" fill="none" stroke="#628758" stroke-width="0.45" stroke-opacity="0.75"/>
<ellipse cx="60.00" cy="297.05" rx="3.7" ry="1.8" fill="url(#hl)"/>
<circle cx="98.30" cy="263.10" r="6.50" fill="url(#g2)" stroke="#304c26" stroke-width="0.45"/>
<polyline points="99.17,264.14 95.88,264.86 99.99,264.70 100.25,262.25 98.79,263.80 100.41,263.86" fill="none" stroke="#305020" stroke-width="0.45" stroke-opacity="0.75"/>
<ellipse cx="98.30" cy="259.40" rx="3.7" ry="1.8" fill="url(#hl)"/>
<circle cx="98.80" cy="296.70" r="6.50" fill="url(#g3)" stroke="#5a5a5a" stroke-width="0.45"/>
<polyline points="101.23,298.97 96.28,297.89 98.21,297.71 100.33,296.34 98.12,299.25 97.28,297.93" fill="none" stroke="#929292" stroke-width="0.45" stroke-opacity="0.75"/>
<ellipse cx="98.80" cy="293.00" rx="3.7" ry="1.8" fill="url(#hl)"/>
<circle cx="115.20" cy="289.40" r="6.50" fill="url(#g4)" stroke="#5a5a5a" stroke-width="0.45"/>
<polyline points="116.83,290.58 117.46,289.45 114.11,288.84 115.78,291.96 117.32,289.68 114.70,288.84" fill="none" stroke="#929292" stroke-width="0.45" stroke-opacity="0.75"/>
<ellipse cx="115.20" cy="285.70" rx="3.7" ry="1.8" fill="url(#hl)"/>
<circle cx="115.20" cy="319.80" r="6.50" fill="url(#g5)" stroke="#5a5a5a" stroke-width="0.45"/>
<polyline points="113.22,320.42 112.87,319.69 115.01,317.96 114.28,322.56 113.45,322.07 114.68,320.38" fill="none" stroke="#929292" stroke-width="0.45" stroke-opacity="0.75"/>
<ellipse cx="115.20" cy="316.10" rx="3.7" ry="1.8" fill="url(#hl)"/>
<circle cx="96.00" cy="328.30" r="6.50" fill="url(#g6)" stroke="#5a5a5a" stroke-width="0.45"/>
<polyline points="94.55,327.34 96.71,328.10 98.22,328.17 95.06,327.02 94.14,327.99 97.77,330.53" fill="none" stroke="#929292" stroke-width="0.45" stroke-opacity="0.75"/>
<ellipse cx="96.00" cy="324.60" rx="3.7" ry="1.8" fill="url(#hl)"/>
<circle cx="161.70" cy="265.10" r="6.50" fill="url(#g7)" stroke="#5c5c5c" stroke-width="0.45"/>
<polyline points="164.28,264.58 160.68,267.31 163.33,266.01 163.70,267.75 161.09,263.14 163.68,263.60" fill="none" stroke="#c03030" stroke-width="0.45" stroke-opacity="0.75"/>
<ellipse cx="161.70" cy="261.40" rx="3.7" ry="1.8" fill="url(#hl)"/>
<circle cx="178.50" cy="284.20" r="6.50" fill="url(#g8)" stroke="#485638" stroke-width="0.45"/>
<polyline points="177.08,284.91 179.38,285.74 179.49,286.93 179.81,285.82 179.43,282.85 179.92,283.42" fill="none" stroke="#306090" stroke-width="0.45" stroke-opacity="0.75"/>
<ellipse cx="178.50" cy="280.50" rx="3.7" ry="1.8" fill="url(#hl)"/>
<circle cx="148.80" cy="298.00" r="6.50" fill="url(#g9)" stroke="#3e4f5a" stroke-width="0.45"/>
<polyline points="148.33,298.47 147.85,297.28 147.66,297.47 149.97,299.29 151.25,299.88 146.33,299.14" fill="none" stroke="#3070b0" stroke-width="0.45" stroke-opacity="0.75"/>
<ellipse cx="148.80" cy="294.30" rx="3.7" ry="1.8" fill="url(#hl)"/>
<circle cx="91.60" cy="346.00" r="6.50" fill="url(#g10)" stroke="#1e2248" stroke-width="0.45"/>
<polyline points="91.56,347.32 88.90,348.20 93.77,344.57 90.91,345.49 91.67,344.73 92.20,346.20" fill="none" stroke="#202060" stroke-width="0.45" stroke-opacity="0.75"/>
<ellipse cx="91.60" cy="342.30" rx="3.7" ry="1.8" fill="url(#hl)"/>
<circle cx="138.80" cy="344.00" r="6.50" fill="url(#g11)" stroke="#565438" stroke-width="0.45"/>
<polyline points="141.31,344.32 136.04,346.50 137.52,342.90 141.14,344.44 141.59,342.83 139.30,346.71" fill="none" stroke="#c8a020" stroke-width="0.45" stroke-opacity="0.75"/>
<ellipse cx="138.80" cy="340.30" rx="3.7" ry="1.8" fill="url(#hl)"/>
<circle cx="105.60" cy="366.30" r="6.50" fill="url(#g12)" stroke="#501418" stroke-width="0.45"/>
<polyline points="106.31,365.46 107.13,364.42 105.87,366.26 103.27,368.86 106.38,366.67 108.26,366.03" fill="none" stroke="#801020" stroke-width="0.45" stroke-opacity="0.75"/>
<ellipse cx="105.60" cy="362.60" rx="3.7" ry="1.8" fill="url(#hl)"/>
<circle cx="77.70" cy="387.30" r="6.50" fill="url(#g13)" stroke="#533f43" stroke-width="0.45"/>
<polyline points="79.96,386.86 79.57,387.68 75.17,387.86 79.90,386.26 79.42,385.60 76.62,387.80" fill="none" stroke="#a03070" stroke-width="0.45" stroke-opacity="0.75"/>
<ellipse cx="77.70" cy="383.60" rx="3.7" ry="1.8" fill="url(#hl)"/>
<circle cx="117.00" cy="384.20" r="6.50" fill="url(#g14)" stroke="#565040" stroke-width="0.45"/>
<polyline points="118.02,386.56 117.49,386.86 118.55,383.93 118.08,383.51 119.19,384.48 117.68,386.65" fill="none" stroke="#8050a0" stroke-width="0.45" stroke-opacity="0.75"/>
<ellipse cx="117.00" cy="380.50" rx="3.7" ry="1.8" fill="url(#hl)"/>
<circle cx="146.50" cy="388.20" r="6.50" fill="url(#g15)" stroke="#564838" stroke-width="0.45"/>
<polyline points="145.96,389.47 145.73,387.73 148.14,388.47 144.33,390.64 147.19,388.61 145.99,386.97" fill="none" stroke="#8c765c" stroke-width="0.45" stroke-opacity="0.75"/>
<ellipse cx="146.50" cy="384.50" rx="3.7" ry="1.8" fill="url(#hl)"/>
<circle cx="106.30" cy="406.60" r="6.50" fill="url(#g16)" stroke="#2c4a45" stroke-width="0.45"/>
<polyline points="108.50,404.81 105.06,407.17 107.20,408.67 105.81,404.97 105.69,408.04 105.72,408.49" fill="none" stroke="#205060" stroke-width="0.45" stroke-opacity="0.75"/>
<ellipse cx="106.30" cy="402.90" rx="3.7" ry="1.8" fill="url(#hl)"/>
<circle cx="131.30" cy="412.00" r="6.50" fill="url(#g17)" stroke="#555841" stroke-width="0.45"/>
<polyline points="133.27,410.58 131.02,410.06 131.48,413.35 130.21,412.89 130.51,414.71 133.46,414.20" fill="none" stroke="#8a906a" stroke-width="0.45" stroke-opacity="0.75"/>
<ellipse cx="131.30" cy="408.30" rx="3.7" ry="1.8" fill="url(#hl)"/>
<circle cx="187.60" cy="309.20" r="6.50" fill="url(#g18)" stroke="#3e5239" stroke-width="0.45"/>
<polyline points="185.34,310.09 189.44,311.21 188.79,311.66 185.73,308.05 188.85,310.76 185.46,309.14" fill="none" stroke="#3060a0" stroke-width="0.45" stroke-opacity="0.75"/>
<ellipse cx="187.60" cy="305.50" rx="3.7" ry="1.8" fill="url(#hl)"/>
<circle cx="217.20" cy="305.00" r="6.50" fill="url(#g19)" stroke="#4f593c" stroke-width="0.45"/>
<polyline points="219.11,306.79 219.10,304.92 217.20,304.62 219.24,306.42 215.20,306.53 216.72,307.45" fill="none" stroke="#819062" stroke-width="0.45" stroke-opacity="0.75"/>
<ellipse cx="217.20" cy="301.30" rx="3.7" ry="1.8" fill="url(#hl)"/>
<circle cx="166.90" cy="329.30" r="6.50" fill="url(#g20)" stroke="#54483e" stroke-width="0.45"/>
<polyline points="165.72,328.32 167.92,331.74 164.47,327.31 167.31,328.43 166.52,328.33 168.18,331.07" fill="none" stroke="#897565" stroke-width="0.45" stroke-opacity="0.75"/>
<ellipse cx="166.90" cy="325.60" rx="3.7" ry="1.8" fill="url(#hl)"/>
<circle cx="196.50" cy="325.00" r="6.50" fill="url(#g21)" stroke="#43573a" stroke-width="0.45"/>
<polyline points="197.51,327.09 194.44,324.07 198.46,324.15 194.40,324.36 193.89,327.66 198.91,324.83" fill="none" stroke="#6d8e5f" stroke-width="0.45" stroke-opacity="0.75"/>
<ellipse cx="196.50" cy="321.30" rx="3.7" ry="1.8" fill="url(#hl)"/>
<circle cx="213.20" cy="342.30" r="6.50" fill="url(#g22)" stroke="#4e4b27" stroke-width="0.45"/>
<polyline points="212.01,343.41 215.30,342.14 215.42,343.72 214.72,343.20 213.25,343.22 215.46,341.78" fill="none" stroke="#806030" stroke-width="0.45" stroke-opacity="0.75"/>
<ellipse cx="213.20" cy="338.60" rx="3.7" ry="1.8" fill="url(#hl)"/>
<circle cx="185.00" cy="362.40" r="6.50" fill="url(#g23)" stroke="#42563e" stroke-width="0.45"/>
<polyline points="184.21,363.13 187.17,360.78 182.33,362.88 182.88,364.98 183.42,362.60 186.48,362.54" fill="none" stroke="#6b8b65" stroke-width="0.45" stroke-opacity="0.75"/>
<ellipse cx="185.00" cy="358.70" rx="3.7" ry="1.8" fill="url(#hl)"/>
<circle cx="187.50" cy="380.20" r="6.50" fill="url(#g24)" stroke="#355040" stroke-width="0.45"/>
<polyline points="187.52,382.89 188.01,381.06 184.88,380.78 187.32,380.52 186.35,382.69 190.10,380.75" fill="none" stroke="#308040" stroke-width="0.45" stroke-opacity="0.75"/>
<ellipse cx="187.50" cy="376.50" rx="3.7" ry="1.8" fill="url(#hl)"/>
<circle cx="194.60" cy="401.00" r="6.50" fill="url(#g25)" stroke="#373253" stroke-width="0.45"/>
<polyline points="193.09,401.67 196.39,400.35 197.25,401.77 195.79,400.07 192.77,402.89 193.30,400.80" fill="none" stroke="#595287" stroke-width="0.45" stroke-opacity="0.75"/>
<ellipse cx="194.60" cy="397.30" rx="3.7" ry="1.8" fill="url(#hl)"/>
<circle cx="215.00" cy="421.90" r="6.50" fill="url(#g26)" stroke="#55573b" stroke-width="0.45"/>
<polyline points="217.55,421.21 212.70,420.44 214.39,424.48 214.49,423.10 217.14,420.16 214.28,422.45" fill="none" stroke="#c04020" stroke-width="0.45" stroke-opacity="0.75"/>
<ellipse cx="215.00" cy="418.20" rx="3.7" ry="1.8" fill="url(#hl)"/>
<text x="36.50" y="286.00" font-size="3.9" text-anchor="start" font-weight="normal" font-style="normal" fill="#3a3a3a"  stroke="#3a3a3a" stroke-width="0.1">THBD</text>
<text x="66.00" y="296.00" font-size="3.9" text-anchor="start" font-weight="normal" font-style="normal" fill="#3a3a3a"  stroke="#3a3a3a" stroke-width="0.1">F2</text>
<text x="104.60" y="258.50" font-size="3.9" text-anchor="start" font-weight="normal" font-style="normal" fill="#3a3a3a"  stroke="#3a3a3a" stroke-width="0.1">THBS1</text>
<text x="105.00" y="291.80" font-size="3.9" text-anchor="start" font-weight="normal" font-style="normal" fill="#3a3a3a"  stroke="#3a3a3a" stroke-width="0.1">FGA</text>
<text x="121.30" y="284.50" font-size="3.9" text-anchor="start" font-weight="normal" font-style="normal" fill="#3a3a3a"  stroke="#3a3a3a" stroke-width="0.1">FGG</text>
<text x="121.20" y="314.30" font-size="3.9" text-anchor="start" font-weight="normal" font-style="normal" fill="#3a3a3a"  stroke="#3a3a3a" stroke-width="0.1">SERPINC1</text>
<text x="102.00" y="321.80" font-size="3.9" text-anchor="start" font-weight="normal" font-style="normal" fill="#3a3a3a"  stroke="#3a3a3a" stroke-width="0.1">SERPIND1</text>
<text x="167.50" y="260.50" font-size="3.9" text-anchor="start" font-weight="normal" font-style="normal" fill="#3a3a3a"  stroke="#3a3a3a" stroke-width="0.1">IL34</text>
<text x="184.90" y="279.30" font-size="3.9" text-anchor="start" font-weight="normal" font-style="normal" fill="#3a3a3a"  stroke="#3a3a3a" stroke-width="0.1">CSF1R</text>
<text x="155.00" y="292.60" font-size="3.9" text-anchor="start" font-weight="normal" font-style="normal" fill="#3a3a3a"  stroke="#3a3a3a" stroke-width="0.1">CSF1</text>
<text x="97.90" y="340.80" font-size="3.9" text-anchor="start" font-weight="normal" font-style="normal" fill="#3a3a3a"  stroke="#3a3a3a" stroke-width="0.1">FCAR</text>
<text x="144.60" y="337.40" font-size="3.9" text-anchor="start" font-weight="normal" font-style="normal" fill="#3a3a3a"  stroke="#3a3a3a" stroke-width="0.1">IL6</text>
<text x="111.00" y="361.40" font-size="3.9" text-anchor="start" font-weight="normal" font-style="normal" fill="#3a3a3a"  stroke="#3a3a3a" stroke-width="0.1">RIPK2</text>
<text x="84.20" y="382.10" font-size="3.9" text-anchor="start" font-weight="normal" font-style="normal" fill="#3a3a3a"  stroke="#3a3a3a" stroke-width="0.1">DUSP5</text>
<text x="123.40" y="379.60" font-size="3.9" text-anchor="start" font-weight="normal" font-style="normal" fill="#3a3a3a"  stroke="#3a3a3a" stroke-width="0.1">CXCL1</text>
<text x="152.80" y="383.30" font-size="3.9" text-anchor="start" font-weight="normal" font-style="normal" fill="#3a3a3a"  stroke="#3a3a3a" stroke-width="0.1">CCL2</text>
<text x="112.80" y="401.50" font-size="3.9" text-anchor="start" font-weight="normal" font-style="normal" fill="#3a3a3a"  stroke="#3a3a3a" stroke-width="0.1">CXCL8</text>
<text x="137.80" y="406.40" font-size="3.9" text-anchor="start" font-weight="normal" font-style="normal" fill="#3a3a3a"  stroke="#3a3a3a" stroke-width="0.1">CXCL2</text>
<text x="193.30" y="303.60" font-size="3.9" text-anchor="start" font-weight="normal" font-style="normal" fill="#3a3a3a"  stroke="#3a3a3a" stroke-width="0.1">MX1</text>
<text x="223.00" y="299.80" font-size="3.9" text-anchor="start" font-weight="normal" font-style="normal" fill="#3a3a3a"  stroke="#3a3a3a" stroke-width="0.1">OASL</text>
<text x="173.30" y="324.80" font-size="3.9" text-anchor="start" font-weight="normal" font-style="normal" fill="#3a3a3a"  stroke="#3a3a3a" stroke-width="0.1">IL33</text>
<text x="202.40" y="320.10" font-size="3.9" text-anchor="start" font-weight="normal" font-style="normal" fill="#3a3a3a"  stroke="#3a3a3a" stroke-width="0.1">IL1RL1</text>
<text x="219.40" y="336.70" font-size="3.9" text-anchor="start" font-weight="normal" font-style="normal" fill="#3a3a3a"  stroke="#3a3a3a" stroke-width="0.1">IFNG</text>
<text x="191.20" y="357.00" font-size="3.9" text-anchor="start" font-weight="normal" font-style="normal" fill="#3a3a3a"  stroke="#3a3a3a" stroke-width="0.1">IL6R</text>
<text x="193.60" y="375.40" font-size="3.9" text-anchor="start" font-weight="normal" font-style="normal" fill="#3a3a3a"  stroke="#3a3a3a" stroke-width="0.1">PTGER4</text>
<text x="200.20" y="396.00" font-size="3.9" text-anchor="start" font-weight="normal" font-style="normal" fill="#3a3a3a"  stroke="#3a3a3a" stroke-width="0.1">MYCT1</text>
<text x="221.00" y="416.40" font-size="3.9" text-anchor="start" font-weight="normal" font-style="normal" fill="#3a3a3a"  stroke="#3a3a3a" stroke-width="0.1">BBC3</text>
</g>
<g id="D">
<line x1="291.80" y1="284.50" x2="291.80" y2="379.90" stroke="#000" stroke-width="1.0" />
<line x1="291.30" y1="379.40" x2="430.80" y2="379.40" stroke="#000" stroke-width="1.0" />
<line x1="288.60" y1="379.40" x2="291.80" y2="379.40" stroke="#000" stroke-width="0.9" />
<text x="285.60" y="381.65" font-size="6.4" text-anchor="end" font-weight="normal" font-style="normal" fill="#1a1a1a" stroke="#1a1a1a" stroke-width="0.1">0</text>
<line x1="288.60" y1="361.00" x2="291.80" y2="361.00" stroke="#000" stroke-width="0.9" />
<text x="285.60" y="363.25" font-size="6.4" text-anchor="end" font-weight="normal" font-style="normal" fill="#1a1a1a" stroke="#1a1a1a" stroke-width="0.1">10</text>
<line x1="288.60" y1="342.60" x2="291.80" y2="342.60" stroke="#000" stroke-width="0.9" />
<text x="285.60" y="344.85" font-size="6.4" text-anchor="end" font-weight="normal" font-style="normal" fill="#1a1a1a" stroke="#1a1a1a" stroke-width="0.1">20</text>
<line x1="288.60" y1="324.20" x2="291.80" y2="324.20" stroke="#000" stroke-width="0.9" />
<text x="285.60" y="326.45" font-size="6.4" text-anchor="end" font-weight="normal" font-style="normal" fill="#1a1a1a" stroke="#1a1a1a" stroke-width="0.1">30</text>
<line x1="288.60" y1="305.80" x2="291.80" y2="305.80" stroke="#000" stroke-width="0.9" />
<text x="285.60" y="308.05" font-size="6.4" text-anchor="end" font-weight="normal" font-style="normal" fill="#1a1a1a" stroke="#1a1a1a" stroke-width="0.1">40</text>
<line x1="288.60" y1="287.40" x2="291.80" y2="287.40" stroke="#000" stroke-width="0.9" />
<text x="285.60" y="289.65" font-size="6.4" text-anchor="end" font-weight="normal" font-style="normal" fill="#1a1a1a" stroke="#1a1a1a" stroke-width="0.1">50</text>
<rect x="296.50" y="356.60" width="6.50" height="22.80" fill="#a5062e" stroke="#8c0022" stroke-width="0.4"/>
<rect x="306.50" y="377.02" width="6.50" height="2.38" fill="#2f4b80" stroke="#1f3a6c" stroke-width="0.4"/>
<rect x="324.70" y="334.89" width="6.50" height="44.51" fill="#a5062e" stroke="#8c0022" stroke-width="0.4"/>
<rect x="334.70" y="313.91" width="6.50" height="65.49" fill="#2f4b80" stroke="#1f3a6c" stroke-width="0.4"/>
<rect x="353.20" y="329.37" width="6.50" height="50.03" fill="#a5062e" stroke="#8c0022" stroke-width="0.4"/>
<rect x="363.20" y="347.03" width="6.50" height="32.37" fill="#2f4b80" stroke="#1f3a6c" stroke-width="0.4"/>
<rect x="381.20" y="336.18" width="6.50" height="43.22" fill="#a5062e" stroke="#8c0022" stroke-width="0.4"/>
<rect x="391.20" y="309.68" width="6.50" height="69.72" fill="#2f4b80" stroke="#1f3a6c" stroke-width="0.4"/>
<rect x="409.50" y="360.10" width="6.50" height="19.30" fill="#a5062e" stroke="#8c0022" stroke-width="0.4"/>
<rect x="419.50" y="369.30" width="6.50" height="10.10" fill="#2f4b80" stroke="#1f3a6c" stroke-width="0.4"/>
<line x1="304.75" y1="379.40" x2="304.75" y2="382.70" stroke="#000" stroke-width="0.9" />
<text transform="translate(306.95,386.2) rotate(-90)" x="0" y="0" font-size="6.0" text-anchor="end" font-style="italic" fill="#1a1a1a" stroke="#1a1a1a" stroke-width="0.12">TP53</text>
<line x1="332.95" y1="379.40" x2="332.95" y2="382.70" stroke="#000" stroke-width="0.9" />
<text transform="translate(335.15,386.2) rotate(-90)" x="0" y="0" font-size="6.0" text-anchor="end" font-style="italic" fill="#1a1a1a" stroke="#1a1a1a" stroke-width="0.12">FLT3-ITD</text>
<line x1="361.45" y1="379.40" x2="361.45" y2="382.70" stroke="#000" stroke-width="0.9" />
<text transform="translate(363.65,386.2) rotate(-90)" x="0" y="0" font-size="6.0" text-anchor="end" font-style="italic" fill="#1a1a1a" stroke="#1a1a1a" stroke-width="0.12">DNMT3A</text>
<line x1="389.45" y1="379.40" x2="389.45" y2="382.70" stroke="#000" stroke-width="0.9" />
<text transform="translate(391.65,386.2) rotate(-90)" x="0" y="0" font-size="6.0" text-anchor="end" font-style="italic" fill="#1a1a1a" stroke="#1a1a1a" stroke-width="0.12">NPM1</text>
<line x1="417.75" y1="379.40" x2="417.75" y2="382.70" stroke="#000" stroke-width="0.9" />
<text transform="translate(419.95,386.2) rotate(-90)" x="0" y="0" font-size="6.0" text-anchor="end" font-style="italic" fill="#1a1a1a" stroke="#1a1a1a" stroke-width="0.12">RUNX1</text>
<path d="M298.8,344.3 L298.8,340.1 L309.3,340.1 L309.3,374.5" stroke="#111" stroke-width="0.8" fill="none"/>
<text x="304.00" y="335.90" font-size="5.5" text-anchor="middle" font-weight="normal" font-style="normal" fill="#1a1a1a" >P=0.01</text>
<path d="M384.5,330.8 L384.5,297.6 L394.5,297.6 L394.5,305.8" stroke="#111" stroke-width="0.8" fill="none"/>
<text x="389.40" y="293.20" font-size="5.6" text-anchor="middle" font-weight="normal" font-style="normal" fill="#1a1a1a" >P=0.044</text>
<text x="361.60" y="278.50" font-size="8.6" text-anchor="middle" font-weight="normal" font-style="normal" fill="#111" >TCGA-AML</text>
<text transform="translate(272.6,331.5) rotate(-90)" x="0" y="0" font-size="7.6" text-anchor="middle" fill="#1a1a1a" stroke="#1a1a1a" stroke-width="0.25" textLength="63" lengthAdjust="spacingAndGlyphs">Mutation frequency (%)</text>
<rect x="424.80" y="288.10" width="10.20" height="2.70" fill="#a5062e" />
<rect x="424.80" y="297.30" width="10.20" height="2.60" fill="#2f4b80" />
<text x="438.30" y="291.50" font-size="5.36" text-anchor="start" font-weight="normal" font-style="normal" fill="#222" >Query genes altered (n=93)</text>
<text x="438.30" y="300.60" font-size="5.36" text-anchor="start" font-weight="normal" font-style="normal" fill="#222" >Query genes not altered (n=54)</text>
</g>
<rect x="0.6" y="0.6" width="518.8" height="435.8" fill="none" stroke="#000" stroke-width="1.3"/>
</svg>
</body></html>
